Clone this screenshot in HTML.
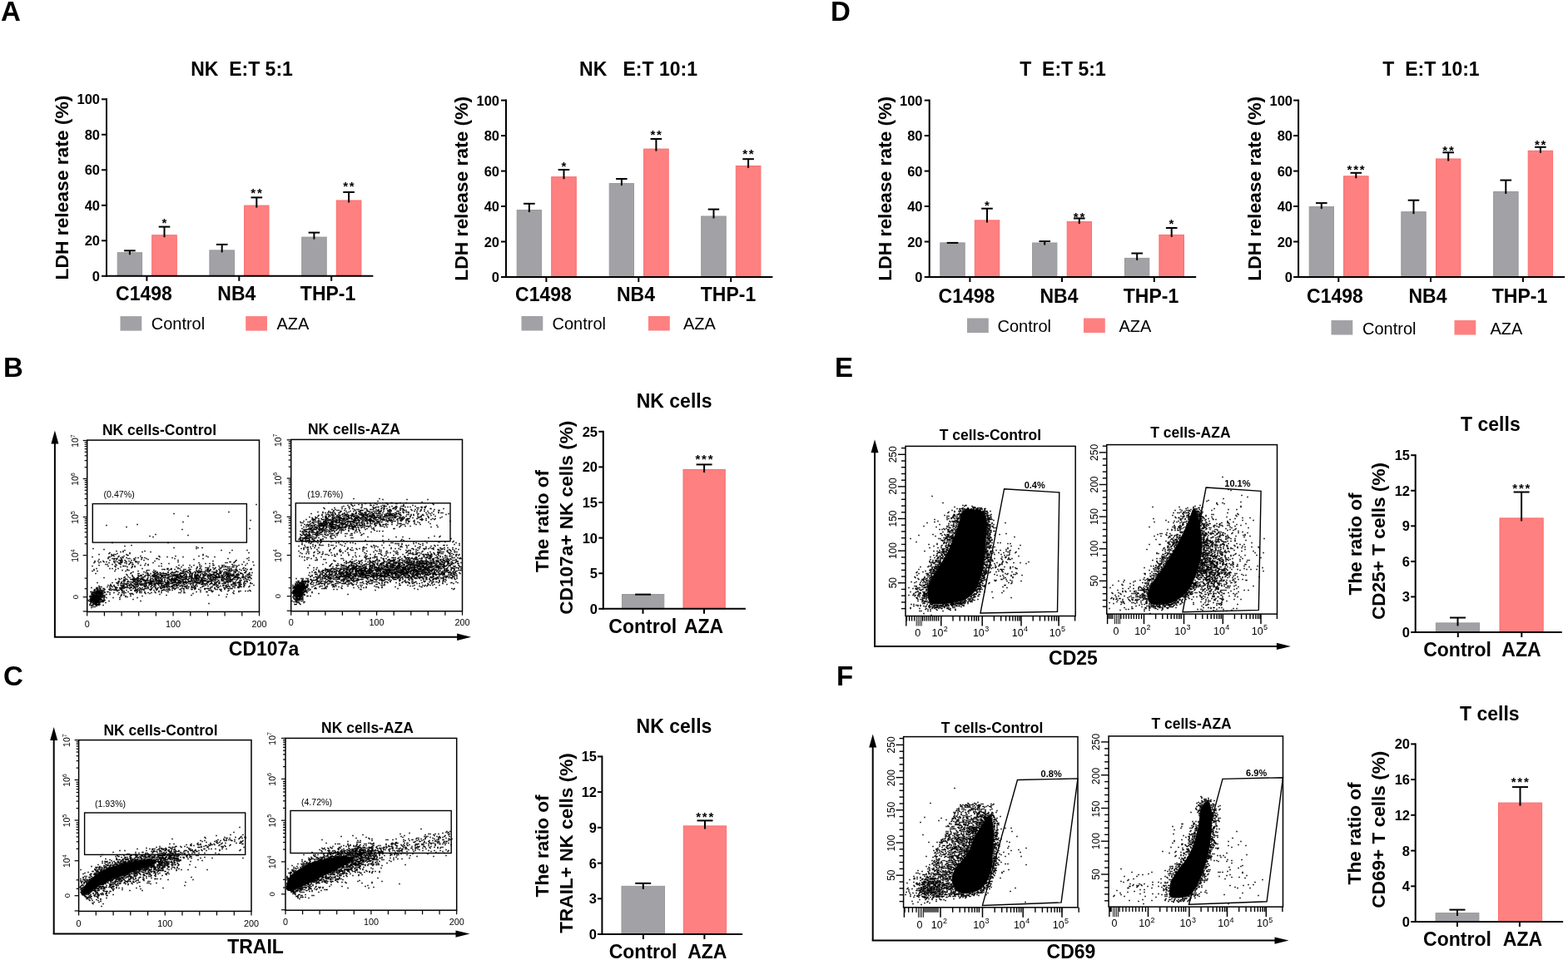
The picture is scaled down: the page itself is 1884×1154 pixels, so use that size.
<!DOCTYPE html>
<html><head><meta charset="utf-8"><style>
html,body{margin:0;padding:0;background:#fff;}
svg{display:block;}
text{font-family:"Liberation Sans", Arial, Helvetica, sans-serif;fill:#000;}
</style></head><body>
<svg width="1884" height="1154" viewBox="0 0 1884 1154">
<rect width="1884" height="1154" fill="#fff"/>
<text x="1.0" y="25.0" font-size="33" font-weight="bold" text-anchor="start">A</text>
<text x="998.0" y="25.0" font-size="33" font-weight="bold" text-anchor="start">D</text>
<text x="4.0" y="453.0" font-size="33" font-weight="bold" text-anchor="start">B</text>
<text x="1003.0" y="453.0" font-size="33" font-weight="bold" text-anchor="start">E</text>
<text x="4.0" y="824.0" font-size="33" font-weight="bold" text-anchor="start">C</text>
<text x="1005.0" y="824.0" font-size="33" font-weight="bold" text-anchor="start">F</text>
<line x1="122.0" y1="331.8" x2="128.0" y2="331.8" stroke="#000" stroke-width="2"/>
<text x="120.0" y="337.8" font-size="16.5" font-weight="bold" text-anchor="end">0</text>
<line x1="122.0" y1="289.3" x2="128.0" y2="289.3" stroke="#000" stroke-width="2"/>
<text x="120.0" y="295.3" font-size="16.5" font-weight="bold" text-anchor="end">20</text>
<line x1="122.0" y1="246.8" x2="128.0" y2="246.8" stroke="#000" stroke-width="2"/>
<text x="120.0" y="252.8" font-size="16.5" font-weight="bold" text-anchor="end">40</text>
<line x1="122.0" y1="204.3" x2="128.0" y2="204.3" stroke="#000" stroke-width="2"/>
<text x="120.0" y="210.3" font-size="16.5" font-weight="bold" text-anchor="end">60</text>
<line x1="122.0" y1="161.8" x2="128.0" y2="161.8" stroke="#000" stroke-width="2"/>
<text x="120.0" y="167.8" font-size="16.5" font-weight="bold" text-anchor="end">80</text>
<line x1="122.0" y1="119.3" x2="128.0" y2="119.3" stroke="#000" stroke-width="2"/>
<text x="120.0" y="125.3" font-size="16.5" font-weight="bold" text-anchor="end">100</text>
<rect x="141.2" y="303.7" width="29.4" height="28.1" fill="#a2a1a5" stroke="#98979b" stroke-width="1"/>
<line x1="155.9" y1="301.3" x2="155.9" y2="306.2" stroke="#000" stroke-width="2"/>
<line x1="149.1" y1="301.3" x2="162.7" y2="301.3" stroke="#000" stroke-width="2"/>
<rect x="182.7" y="282.7" width="29.6" height="49.1" fill="#fe8080" stroke="#fb6d6d" stroke-width="1"/>
<line x1="197.5" y1="272.6" x2="197.5" y2="285.2" stroke="#000" stroke-width="2"/>
<line x1="190.7" y1="272.6" x2="204.3" y2="272.6" stroke="#000" stroke-width="2"/>
<text x="198.2" y="273.3" font-size="15" font-weight="bold" text-anchor="middle" letter-spacing="1.8">*</text>
<rect x="251.9" y="300.9" width="29.6" height="30.9" fill="#a2a1a5" stroke="#98979b" stroke-width="1"/>
<line x1="266.7" y1="293.9" x2="266.7" y2="303.4" stroke="#000" stroke-width="2"/>
<line x1="259.9" y1="293.9" x2="273.5" y2="293.9" stroke="#000" stroke-width="2"/>
<rect x="293.6" y="247.1" width="29.4" height="84.7" fill="#fe8080" stroke="#fb6d6d" stroke-width="1"/>
<line x1="308.3" y1="237.4" x2="308.3" y2="249.6" stroke="#000" stroke-width="2"/>
<line x1="301.5" y1="237.4" x2="315.1" y2="237.4" stroke="#000" stroke-width="2"/>
<text x="309.0" y="236.8" font-size="15" font-weight="bold" text-anchor="middle" letter-spacing="1.8">**</text>
<rect x="362.7" y="285.1" width="29.5" height="46.7" fill="#a2a1a5" stroke="#98979b" stroke-width="1"/>
<line x1="377.4" y1="279.6" x2="377.4" y2="287.6" stroke="#000" stroke-width="2"/>
<line x1="370.6" y1="279.6" x2="384.2" y2="279.6" stroke="#000" stroke-width="2"/>
<rect x="404.3" y="241.0" width="29.6" height="90.8" fill="#fe8080" stroke="#fb6d6d" stroke-width="1"/>
<line x1="419.1" y1="231.0" x2="419.1" y2="243.5" stroke="#000" stroke-width="2"/>
<line x1="412.3" y1="231.0" x2="425.9" y2="231.0" stroke="#000" stroke-width="2"/>
<text x="419.8" y="229.3" font-size="15" font-weight="bold" text-anchor="middle" letter-spacing="1.8">**</text>
<line x1="128.0" y1="118.3" x2="128.0" y2="332.8" stroke="#000" stroke-width="2"/>
<line x1="127.0" y1="331.8" x2="448.4" y2="331.8" stroke="#000" stroke-width="2"/>
<line x1="176.4" y1="331.8" x2="176.4" y2="337.8" stroke="#000" stroke-width="2"/>
<line x1="287.3" y1="331.8" x2="287.3" y2="337.8" stroke="#000" stroke-width="2"/>
<line x1="398.2" y1="331.8" x2="398.2" y2="337.8" stroke="#000" stroke-width="2"/>
<text x="290.5" y="91.2" font-size="23" font-weight="bold" text-anchor="middle" xml:space="preserve" style="white-space:pre">NK  E:T 5:1</text>
<text transform="translate(82.0,225.6) rotate(-90)" x="0" y="0" font-size="22.8" font-weight="bold" text-anchor="middle">LDH release rate (%)</text>
<text x="173.0" y="361.4" font-size="23" font-weight="bold" text-anchor="middle">C1498</text>
<text x="284.3" y="361.4" font-size="23" font-weight="bold" text-anchor="middle">NB4</text>
<text x="394.1" y="361.4" font-size="23" font-weight="bold" text-anchor="middle">THP-1</text>
<rect x="144.5" y="380.1" width="25.8" height="17.5" fill="#a2a1a5"/>
<text x="181.7" y="395.5" font-size="20" text-anchor="start">Control</text>
<rect x="295.2" y="380.1" width="25.8" height="17.5" fill="#fe8080"/>
<text x="332.5" y="395.5" font-size="20" text-anchor="start">AZA</text>
<line x1="602.0" y1="333.0" x2="608.0" y2="333.0" stroke="#000" stroke-width="2"/>
<text x="600.0" y="339.0" font-size="16.5" font-weight="bold" text-anchor="end">0</text>
<line x1="602.0" y1="290.5" x2="608.0" y2="290.5" stroke="#000" stroke-width="2"/>
<text x="600.0" y="296.5" font-size="16.5" font-weight="bold" text-anchor="end">20</text>
<line x1="602.0" y1="248.0" x2="608.0" y2="248.0" stroke="#000" stroke-width="2"/>
<text x="600.0" y="254.0" font-size="16.5" font-weight="bold" text-anchor="end">40</text>
<line x1="602.0" y1="205.6" x2="608.0" y2="205.6" stroke="#000" stroke-width="2"/>
<text x="600.0" y="211.6" font-size="16.5" font-weight="bold" text-anchor="end">60</text>
<line x1="602.0" y1="163.1" x2="608.0" y2="163.1" stroke="#000" stroke-width="2"/>
<text x="600.0" y="169.1" font-size="16.5" font-weight="bold" text-anchor="end">80</text>
<line x1="602.0" y1="120.6" x2="608.0" y2="120.6" stroke="#000" stroke-width="2"/>
<text x="600.0" y="126.6" font-size="16.5" font-weight="bold" text-anchor="end">100</text>
<rect x="621.2" y="252.6" width="29.4" height="80.4" fill="#a2a1a5" stroke="#98979b" stroke-width="1"/>
<line x1="635.9" y1="244.8" x2="635.9" y2="255.1" stroke="#000" stroke-width="2"/>
<line x1="629.1" y1="244.8" x2="642.7" y2="244.8" stroke="#000" stroke-width="2"/>
<rect x="662.7" y="212.7" width="29.6" height="120.3" fill="#fe8080" stroke="#fb6d6d" stroke-width="1"/>
<line x1="677.5" y1="204.0" x2="677.5" y2="215.2" stroke="#000" stroke-width="2"/>
<line x1="670.7" y1="204.0" x2="684.3" y2="204.0" stroke="#000" stroke-width="2"/>
<text x="678.2" y="204.7" font-size="15" font-weight="bold" text-anchor="middle" letter-spacing="1.8">*</text>
<rect x="732.2" y="220.6" width="29.3" height="112.4" fill="#a2a1a5" stroke="#98979b" stroke-width="1"/>
<line x1="746.9" y1="215.0" x2="746.9" y2="223.1" stroke="#000" stroke-width="2"/>
<line x1="740.1" y1="215.0" x2="753.6" y2="215.0" stroke="#000" stroke-width="2"/>
<rect x="773.6" y="179.1" width="29.6" height="153.9" fill="#fe8080" stroke="#fb6d6d" stroke-width="1"/>
<line x1="788.4" y1="167.0" x2="788.4" y2="181.6" stroke="#000" stroke-width="2"/>
<line x1="781.6" y1="167.0" x2="795.2" y2="167.0" stroke="#000" stroke-width="2"/>
<text x="789.1" y="166.7" font-size="15" font-weight="bold" text-anchor="middle" letter-spacing="1.8">**</text>
<rect x="842.7" y="260.0" width="29.5" height="73.0" fill="#a2a1a5" stroke="#98979b" stroke-width="1"/>
<line x1="857.5" y1="251.6" x2="857.5" y2="262.5" stroke="#000" stroke-width="2"/>
<line x1="850.7" y1="251.6" x2="864.2" y2="251.6" stroke="#000" stroke-width="2"/>
<rect x="884.3" y="199.5" width="29.6" height="133.5" fill="#fe8080" stroke="#fb6d6d" stroke-width="1"/>
<line x1="899.1" y1="191.2" x2="899.1" y2="202.0" stroke="#000" stroke-width="2"/>
<line x1="892.3" y1="191.2" x2="905.9" y2="191.2" stroke="#000" stroke-width="2"/>
<text x="899.8" y="189.8" font-size="15" font-weight="bold" text-anchor="middle" letter-spacing="1.8">**</text>
<line x1="608.0" y1="119.6" x2="608.0" y2="334.0" stroke="#000" stroke-width="2"/>
<line x1="607.0" y1="333.0" x2="928.4" y2="333.0" stroke="#000" stroke-width="2"/>
<line x1="656.4" y1="333.0" x2="656.4" y2="339.0" stroke="#000" stroke-width="2"/>
<line x1="767.3" y1="333.0" x2="767.3" y2="339.0" stroke="#000" stroke-width="2"/>
<line x1="878.2" y1="333.0" x2="878.2" y2="339.0" stroke="#000" stroke-width="2"/>
<text x="767.0" y="91.2" font-size="23" font-weight="bold" text-anchor="middle" xml:space="preserve" style="white-space:pre">NK   E:T 10:1</text>
<text transform="translate(562.0,226.8) rotate(-90)" x="0" y="0" font-size="22.8" font-weight="bold" text-anchor="middle">LDH release rate (%)</text>
<text x="653.0" y="362.0" font-size="23" font-weight="bold" text-anchor="middle">C1498</text>
<text x="764.0" y="362.0" font-size="23" font-weight="bold" text-anchor="middle">NB4</text>
<text x="875.0" y="362.0" font-size="23" font-weight="bold" text-anchor="middle">THP-1</text>
<rect x="626.5" y="380.0" width="25.8" height="17.5" fill="#a2a1a5"/>
<text x="663.5" y="395.5" font-size="20" text-anchor="start">Control</text>
<rect x="779.0" y="380.0" width="25.8" height="17.5" fill="#fe8080"/>
<text x="821.0" y="395.5" font-size="20" text-anchor="start">AZA</text>
<line x1="1110.7" y1="333.0" x2="1116.7" y2="333.0" stroke="#000" stroke-width="2"/>
<text x="1108.5" y="339.0" font-size="16.5" font-weight="bold" text-anchor="end">0</text>
<line x1="1110.7" y1="290.5" x2="1116.7" y2="290.5" stroke="#000" stroke-width="2"/>
<text x="1108.5" y="296.5" font-size="16.5" font-weight="bold" text-anchor="end">20</text>
<line x1="1110.7" y1="248.0" x2="1116.7" y2="248.0" stroke="#000" stroke-width="2"/>
<text x="1108.5" y="254.0" font-size="16.5" font-weight="bold" text-anchor="end">40</text>
<line x1="1110.7" y1="205.6" x2="1116.7" y2="205.6" stroke="#000" stroke-width="2"/>
<text x="1108.5" y="211.6" font-size="16.5" font-weight="bold" text-anchor="end">60</text>
<line x1="1110.7" y1="163.1" x2="1116.7" y2="163.1" stroke="#000" stroke-width="2"/>
<text x="1108.5" y="169.1" font-size="16.5" font-weight="bold" text-anchor="end">80</text>
<line x1="1110.7" y1="120.6" x2="1116.7" y2="120.6" stroke="#000" stroke-width="2"/>
<text x="1108.5" y="126.6" font-size="16.5" font-weight="bold" text-anchor="end">100</text>
<rect x="1129.8" y="291.9" width="29.4" height="41.1" fill="#a2a1a5" stroke="#98979b" stroke-width="1"/>
<line x1="1137.7" y1="291.9" x2="1151.3" y2="291.9" stroke="#000" stroke-width="2"/>
<rect x="1171.3" y="264.9" width="29.5" height="68.1" fill="#fe8080" stroke="#fb6d6d" stroke-width="1"/>
<line x1="1186.0" y1="250.7" x2="1186.0" y2="267.4" stroke="#000" stroke-width="2"/>
<line x1="1179.2" y1="250.7" x2="1192.8" y2="250.7" stroke="#000" stroke-width="2"/>
<text x="1186.8" y="251.7" font-size="15" font-weight="bold" text-anchor="middle" letter-spacing="1.8">*</text>
<rect x="1240.6" y="292.0" width="29.3" height="41.0" fill="#a2a1a5" stroke="#98979b" stroke-width="1"/>
<line x1="1255.2" y1="290.1" x2="1255.2" y2="294.5" stroke="#000" stroke-width="2"/>
<line x1="1248.5" y1="290.1" x2="1262.0" y2="290.1" stroke="#000" stroke-width="2"/>
<rect x="1282.2" y="266.6" width="29.3" height="66.4" fill="#fe8080" stroke="#fb6d6d" stroke-width="1"/>
<line x1="1296.8" y1="262.5" x2="1296.8" y2="269.1" stroke="#000" stroke-width="2"/>
<line x1="1290.0" y1="262.5" x2="1303.6" y2="262.5" stroke="#000" stroke-width="2"/>
<text x="1297.5" y="265.5" font-size="15" font-weight="bold" text-anchor="middle" letter-spacing="1.8">**</text>
<rect x="1351.5" y="310.4" width="29.3" height="22.6" fill="#a2a1a5" stroke="#98979b" stroke-width="1"/>
<line x1="1366.2" y1="304.5" x2="1366.2" y2="312.9" stroke="#000" stroke-width="2"/>
<line x1="1359.4" y1="304.5" x2="1373.0" y2="304.5" stroke="#000" stroke-width="2"/>
<rect x="1392.9" y="282.4" width="29.6" height="50.6" fill="#fe8080" stroke="#fb6d6d" stroke-width="1"/>
<line x1="1407.7" y1="274.0" x2="1407.7" y2="284.9" stroke="#000" stroke-width="2"/>
<line x1="1400.9" y1="274.0" x2="1414.5" y2="274.0" stroke="#000" stroke-width="2"/>
<text x="1408.4" y="273.9" font-size="15" font-weight="bold" text-anchor="middle" letter-spacing="1.8">*</text>
<line x1="1116.7" y1="119.6" x2="1116.7" y2="334.0" stroke="#000" stroke-width="2"/>
<line x1="1115.7" y1="333.0" x2="1437.2" y2="333.0" stroke="#000" stroke-width="2"/>
<line x1="1165.4" y1="333.0" x2="1165.4" y2="339.0" stroke="#000" stroke-width="2"/>
<line x1="1276.0" y1="333.0" x2="1276.0" y2="339.0" stroke="#000" stroke-width="2"/>
<line x1="1386.8" y1="333.0" x2="1386.8" y2="339.0" stroke="#000" stroke-width="2"/>
<text x="1277.0" y="91.2" font-size="23" font-weight="bold" text-anchor="middle" xml:space="preserve" style="white-space:pre">T  E:T 5:1</text>
<text transform="translate(1071.0,226.8) rotate(-90)" x="0" y="0" font-size="22.8" font-weight="bold" text-anchor="middle">LDH release rate (%)</text>
<text x="1161.5" y="363.5" font-size="23" font-weight="bold" text-anchor="middle">C1498</text>
<text x="1272.5" y="363.5" font-size="23" font-weight="bold" text-anchor="middle">NB4</text>
<text x="1383.0" y="363.5" font-size="23" font-weight="bold" text-anchor="middle">THP-1</text>
<rect x="1162.0" y="382.5" width="25.8" height="17.5" fill="#a2a1a5"/>
<text x="1198.5" y="398.5" font-size="20" text-anchor="start">Control</text>
<rect x="1302.0" y="382.5" width="25.8" height="17.5" fill="#fe8080"/>
<text x="1344.5" y="398.5" font-size="20" text-anchor="start">AZA</text>
<line x1="1554.1" y1="333.0" x2="1560.1" y2="333.0" stroke="#000" stroke-width="2"/>
<text x="1553.0" y="339.0" font-size="16.5" font-weight="bold" text-anchor="end">0</text>
<line x1="1554.1" y1="290.5" x2="1560.1" y2="290.5" stroke="#000" stroke-width="2"/>
<text x="1553.0" y="296.5" font-size="16.5" font-weight="bold" text-anchor="end">20</text>
<line x1="1554.1" y1="248.0" x2="1560.1" y2="248.0" stroke="#000" stroke-width="2"/>
<text x="1553.0" y="254.0" font-size="16.5" font-weight="bold" text-anchor="end">40</text>
<line x1="1554.1" y1="205.6" x2="1560.1" y2="205.6" stroke="#000" stroke-width="2"/>
<text x="1553.0" y="211.6" font-size="16.5" font-weight="bold" text-anchor="end">60</text>
<line x1="1554.1" y1="163.1" x2="1560.1" y2="163.1" stroke="#000" stroke-width="2"/>
<text x="1553.0" y="169.1" font-size="16.5" font-weight="bold" text-anchor="end">80</text>
<line x1="1554.1" y1="120.6" x2="1560.1" y2="120.6" stroke="#000" stroke-width="2"/>
<text x="1553.0" y="126.6" font-size="16.5" font-weight="bold" text-anchor="end">100</text>
<rect x="1573.2" y="248.6" width="29.3" height="84.4" fill="#a2a1a5" stroke="#98979b" stroke-width="1"/>
<line x1="1587.8" y1="244.1" x2="1587.8" y2="251.1" stroke="#000" stroke-width="2"/>
<line x1="1581.0" y1="244.1" x2="1594.6" y2="244.1" stroke="#000" stroke-width="2"/>
<rect x="1614.6" y="211.8" width="29.5" height="121.2" fill="#fe8080" stroke="#fb6d6d" stroke-width="1"/>
<line x1="1629.3" y1="207.8" x2="1629.3" y2="214.3" stroke="#000" stroke-width="2"/>
<line x1="1622.5" y1="207.8" x2="1636.1" y2="207.8" stroke="#000" stroke-width="2"/>
<text x="1630.0" y="209.1" font-size="15" font-weight="bold" text-anchor="middle" letter-spacing="1.8">***</text>
<rect x="1683.8" y="254.7" width="29.4" height="78.3" fill="#a2a1a5" stroke="#98979b" stroke-width="1"/>
<line x1="1698.5" y1="240.7" x2="1698.5" y2="257.2" stroke="#000" stroke-width="2"/>
<line x1="1691.7" y1="240.7" x2="1705.3" y2="240.7" stroke="#000" stroke-width="2"/>
<rect x="1725.5" y="191.0" width="29.4" height="142.0" fill="#fe8080" stroke="#fb6d6d" stroke-width="1"/>
<line x1="1740.2" y1="183.3" x2="1740.2" y2="193.5" stroke="#000" stroke-width="2"/>
<line x1="1733.4" y1="183.3" x2="1747.0" y2="183.3" stroke="#000" stroke-width="2"/>
<text x="1740.9" y="186.0" font-size="15" font-weight="bold" text-anchor="middle" letter-spacing="1.8">**</text>
<rect x="1794.6" y="230.5" width="29.5" height="102.5" fill="#a2a1a5" stroke="#98979b" stroke-width="1"/>
<line x1="1809.3" y1="216.6" x2="1809.3" y2="233.0" stroke="#000" stroke-width="2"/>
<line x1="1802.5" y1="216.6" x2="1816.1" y2="216.6" stroke="#000" stroke-width="2"/>
<rect x="1836.2" y="181.3" width="29.4" height="151.7" fill="#fe8080" stroke="#fb6d6d" stroke-width="1"/>
<line x1="1850.9" y1="176.8" x2="1850.9" y2="183.8" stroke="#000" stroke-width="2"/>
<line x1="1844.1" y1="176.8" x2="1857.7" y2="176.8" stroke="#000" stroke-width="2"/>
<text x="1851.6" y="179.3" font-size="15" font-weight="bold" text-anchor="middle" letter-spacing="1.8">**</text>
<line x1="1560.1" y1="119.6" x2="1560.1" y2="334.0" stroke="#000" stroke-width="2"/>
<line x1="1559.1" y1="333.0" x2="1880.2" y2="333.0" stroke="#000" stroke-width="2"/>
<line x1="1608.3" y1="333.0" x2="1608.3" y2="339.0" stroke="#000" stroke-width="2"/>
<line x1="1719.0" y1="333.0" x2="1719.0" y2="339.0" stroke="#000" stroke-width="2"/>
<line x1="1829.9" y1="333.0" x2="1829.9" y2="339.0" stroke="#000" stroke-width="2"/>
<text x="1719.5" y="91.2" font-size="23" font-weight="bold" text-anchor="middle" xml:space="preserve" style="white-space:pre">T  E:T 10:1</text>
<text transform="translate(1515.0,226.8) rotate(-90)" x="0" y="0" font-size="22.8" font-weight="bold" text-anchor="middle">LDH release rate (%)</text>
<text x="1604.0" y="363.5" font-size="23" font-weight="bold" text-anchor="middle">C1498</text>
<text x="1715.5" y="363.5" font-size="23" font-weight="bold" text-anchor="middle">NB4</text>
<text x="1826.0" y="363.5" font-size="23" font-weight="bold" text-anchor="middle">THP-1</text>
<rect x="1599.5" y="385.0" width="25.8" height="17.5" fill="#a2a1a5"/>
<text x="1637.0" y="401.5" font-size="20" text-anchor="start">Control</text>
<rect x="1747.5" y="385.0" width="25.8" height="17.5" fill="#fe8080"/>
<text x="1790.5" y="401.5" font-size="20" text-anchor="start">AZA</text>
<line x1="65.9" y1="529.5" x2="65.9" y2="765.8" stroke="#000" stroke-width="2"/>
<polygon points="65.9,517.5 61.4,533.5 70.4,533.5" fill="#000"/>
<line x1="64.9" y1="765.8" x2="554.1" y2="765.8" stroke="#000" stroke-width="2"/>
<polygon points="566.1,765.8 549.1,761.6 549.1,770.0" fill="#000"/>
<text x="317.0" y="787.8" font-size="23" font-weight="bold" text-anchor="middle">CD107a</text>
<rect x="104.7" y="529.1" width="206.8" height="206.3" fill="none" stroke="#000" stroke-width="1.5"/>
<line x1="99.7" y1="529.5" x2="104.7" y2="529.5" stroke="#000" stroke-width="1.2"/>
<line x1="101.7" y1="561.7" x2="104.7" y2="561.7" stroke="#000" stroke-width="1.2"/>
<line x1="101.7" y1="553.6" x2="104.7" y2="553.6" stroke="#000" stroke-width="1.2"/>
<line x1="101.7" y1="547.8" x2="104.7" y2="547.8" stroke="#000" stroke-width="1.2"/>
<line x1="101.7" y1="543.3" x2="104.7" y2="543.3" stroke="#000" stroke-width="1.2"/>
<line x1="101.7" y1="539.7" x2="104.7" y2="539.7" stroke="#000" stroke-width="1.2"/>
<line x1="101.7" y1="536.6" x2="104.7" y2="536.6" stroke="#000" stroke-width="1.2"/>
<line x1="101.7" y1="534.0" x2="104.7" y2="534.0" stroke="#000" stroke-width="1.2"/>
<line x1="101.7" y1="531.6" x2="104.7" y2="531.6" stroke="#000" stroke-width="1.2"/>
<line x1="99.7" y1="575.5" x2="104.7" y2="575.5" stroke="#000" stroke-width="1.2"/>
<line x1="101.7" y1="607.7" x2="104.7" y2="607.7" stroke="#000" stroke-width="1.2"/>
<line x1="101.7" y1="599.6" x2="104.7" y2="599.6" stroke="#000" stroke-width="1.2"/>
<line x1="101.7" y1="593.8" x2="104.7" y2="593.8" stroke="#000" stroke-width="1.2"/>
<line x1="101.7" y1="589.3" x2="104.7" y2="589.3" stroke="#000" stroke-width="1.2"/>
<line x1="101.7" y1="585.7" x2="104.7" y2="585.7" stroke="#000" stroke-width="1.2"/>
<line x1="101.7" y1="582.6" x2="104.7" y2="582.6" stroke="#000" stroke-width="1.2"/>
<line x1="101.7" y1="580.0" x2="104.7" y2="580.0" stroke="#000" stroke-width="1.2"/>
<line x1="101.7" y1="577.6" x2="104.7" y2="577.6" stroke="#000" stroke-width="1.2"/>
<line x1="99.7" y1="621.5" x2="104.7" y2="621.5" stroke="#000" stroke-width="1.2"/>
<line x1="101.7" y1="653.7" x2="104.7" y2="653.7" stroke="#000" stroke-width="1.2"/>
<line x1="101.7" y1="645.6" x2="104.7" y2="645.6" stroke="#000" stroke-width="1.2"/>
<line x1="101.7" y1="639.8" x2="104.7" y2="639.8" stroke="#000" stroke-width="1.2"/>
<line x1="101.7" y1="635.3" x2="104.7" y2="635.3" stroke="#000" stroke-width="1.2"/>
<line x1="101.7" y1="631.7" x2="104.7" y2="631.7" stroke="#000" stroke-width="1.2"/>
<line x1="101.7" y1="628.6" x2="104.7" y2="628.6" stroke="#000" stroke-width="1.2"/>
<line x1="101.7" y1="626.0" x2="104.7" y2="626.0" stroke="#000" stroke-width="1.2"/>
<line x1="101.7" y1="623.6" x2="104.7" y2="623.6" stroke="#000" stroke-width="1.2"/>
<line x1="99.7" y1="667.5" x2="104.7" y2="667.5" stroke="#000" stroke-width="1.2"/>
<line x1="101.7" y1="695.1" x2="104.7" y2="695.1" stroke="#000" stroke-width="1.2"/>
<line x1="101.7" y1="707.7" x2="104.7" y2="707.7" stroke="#000" stroke-width="1.2"/>
<line x1="99.7" y1="717.7" x2="104.7" y2="717.7" stroke="#000" stroke-width="1.2"/>
<line x1="99.7" y1="734.9" x2="104.7" y2="734.9" stroke="#000" stroke-width="1.2"/>
<line x1="104.7" y1="735.4" x2="104.7" y2="740.4" stroke="#000" stroke-width="1.2"/>
<line x1="125.4" y1="735.4" x2="125.4" y2="740.4" stroke="#000" stroke-width="1.2"/>
<line x1="146.1" y1="735.4" x2="146.1" y2="740.4" stroke="#000" stroke-width="1.2"/>
<line x1="166.7" y1="735.4" x2="166.7" y2="740.4" stroke="#000" stroke-width="1.2"/>
<line x1="187.4" y1="735.4" x2="187.4" y2="740.4" stroke="#000" stroke-width="1.2"/>
<line x1="208.1" y1="735.4" x2="208.1" y2="740.4" stroke="#000" stroke-width="1.2"/>
<line x1="228.8" y1="735.4" x2="228.8" y2="740.4" stroke="#000" stroke-width="1.2"/>
<line x1="249.5" y1="735.4" x2="249.5" y2="740.4" stroke="#000" stroke-width="1.2"/>
<line x1="270.1" y1="735.4" x2="270.1" y2="740.4" stroke="#000" stroke-width="1.2"/>
<line x1="290.8" y1="735.4" x2="290.8" y2="740.4" stroke="#000" stroke-width="1.2"/>
<line x1="311.5" y1="735.4" x2="311.5" y2="740.4" stroke="#000" stroke-width="1.2"/>
<text transform="translate(90.5,530.0) rotate(-90)" font-size="10.5" text-anchor="middle" y="3.8">10<tspan font-size="7.1" dy="-4.7">7</tspan></text>
<text transform="translate(90.5,576.0) rotate(-90)" font-size="10.5" text-anchor="middle" y="3.8">10<tspan font-size="7.1" dy="-4.7">6</tspan></text>
<text transform="translate(90.5,622.0) rotate(-90)" font-size="10.5" text-anchor="middle" y="3.8">10<tspan font-size="7.1" dy="-4.7">5</tspan></text>
<text transform="translate(90.5,668.0) rotate(-90)" font-size="10.5" text-anchor="middle" y="3.8">10<tspan font-size="7.1" dy="-4.7">4</tspan></text>
<text transform="translate(90.5,717.7) rotate(-90)" font-size="9.5" text-anchor="middle" y="3.4">0</text>
<text x="104.7" y="753.6" font-size="10.8" text-anchor="middle">0</text>
<text x="208.1" y="753.6" font-size="10.8" text-anchor="middle">100</text>
<text x="311.5" y="753.6" font-size="10.8" text-anchor="middle">200</text>
<text x="191.5" y="523.0" font-size="17.5" font-weight="bold" text-anchor="middle">NK cells-Control</text>
<rect x="111.3" y="605.6" width="185.1" height="46.5" fill="none" stroke="#000" stroke-width="1.4"/>
<text x="124.6" y="598.3" font-size="10.6" text-anchor="start">(0.47%)</text>
<rect x="349.7" y="528.4" width="205.8" height="206.3" fill="none" stroke="#000" stroke-width="1.5"/>
<line x1="344.7" y1="528.8" x2="349.7" y2="528.8" stroke="#000" stroke-width="1.2"/>
<line x1="346.7" y1="561.1" x2="349.7" y2="561.1" stroke="#000" stroke-width="1.2"/>
<line x1="346.7" y1="553.0" x2="349.7" y2="553.0" stroke="#000" stroke-width="1.2"/>
<line x1="346.7" y1="547.2" x2="349.7" y2="547.2" stroke="#000" stroke-width="1.2"/>
<line x1="346.7" y1="542.7" x2="349.7" y2="542.7" stroke="#000" stroke-width="1.2"/>
<line x1="346.7" y1="539.0" x2="349.7" y2="539.0" stroke="#000" stroke-width="1.2"/>
<line x1="346.7" y1="536.0" x2="349.7" y2="536.0" stroke="#000" stroke-width="1.2"/>
<line x1="346.7" y1="533.3" x2="349.7" y2="533.3" stroke="#000" stroke-width="1.2"/>
<line x1="346.7" y1="530.9" x2="349.7" y2="530.9" stroke="#000" stroke-width="1.2"/>
<line x1="344.7" y1="575.0" x2="349.7" y2="575.0" stroke="#000" stroke-width="1.2"/>
<line x1="346.7" y1="607.3" x2="349.7" y2="607.3" stroke="#000" stroke-width="1.2"/>
<line x1="346.7" y1="599.2" x2="349.7" y2="599.2" stroke="#000" stroke-width="1.2"/>
<line x1="346.7" y1="593.4" x2="349.7" y2="593.4" stroke="#000" stroke-width="1.2"/>
<line x1="346.7" y1="588.9" x2="349.7" y2="588.9" stroke="#000" stroke-width="1.2"/>
<line x1="346.7" y1="585.2" x2="349.7" y2="585.2" stroke="#000" stroke-width="1.2"/>
<line x1="346.7" y1="582.2" x2="349.7" y2="582.2" stroke="#000" stroke-width="1.2"/>
<line x1="346.7" y1="579.5" x2="349.7" y2="579.5" stroke="#000" stroke-width="1.2"/>
<line x1="346.7" y1="577.1" x2="349.7" y2="577.1" stroke="#000" stroke-width="1.2"/>
<line x1="344.7" y1="621.2" x2="349.7" y2="621.2" stroke="#000" stroke-width="1.2"/>
<line x1="346.7" y1="653.5" x2="349.7" y2="653.5" stroke="#000" stroke-width="1.2"/>
<line x1="346.7" y1="645.4" x2="349.7" y2="645.4" stroke="#000" stroke-width="1.2"/>
<line x1="346.7" y1="639.6" x2="349.7" y2="639.6" stroke="#000" stroke-width="1.2"/>
<line x1="346.7" y1="635.1" x2="349.7" y2="635.1" stroke="#000" stroke-width="1.2"/>
<line x1="346.7" y1="631.4" x2="349.7" y2="631.4" stroke="#000" stroke-width="1.2"/>
<line x1="346.7" y1="628.4" x2="349.7" y2="628.4" stroke="#000" stroke-width="1.2"/>
<line x1="346.7" y1="625.7" x2="349.7" y2="625.7" stroke="#000" stroke-width="1.2"/>
<line x1="346.7" y1="623.3" x2="349.7" y2="623.3" stroke="#000" stroke-width="1.2"/>
<line x1="344.7" y1="667.4" x2="349.7" y2="667.4" stroke="#000" stroke-width="1.2"/>
<line x1="346.7" y1="694.5" x2="349.7" y2="694.5" stroke="#000" stroke-width="1.2"/>
<line x1="346.7" y1="706.8" x2="349.7" y2="706.8" stroke="#000" stroke-width="1.2"/>
<line x1="344.7" y1="716.7" x2="349.7" y2="716.7" stroke="#000" stroke-width="1.2"/>
<line x1="344.7" y1="734.2" x2="349.7" y2="734.2" stroke="#000" stroke-width="1.2"/>
<line x1="349.7" y1="734.7" x2="349.7" y2="739.7" stroke="#000" stroke-width="1.2"/>
<line x1="370.3" y1="734.7" x2="370.3" y2="739.7" stroke="#000" stroke-width="1.2"/>
<line x1="390.9" y1="734.7" x2="390.9" y2="739.7" stroke="#000" stroke-width="1.2"/>
<line x1="411.4" y1="734.7" x2="411.4" y2="739.7" stroke="#000" stroke-width="1.2"/>
<line x1="432.0" y1="734.7" x2="432.0" y2="739.7" stroke="#000" stroke-width="1.2"/>
<line x1="452.6" y1="734.7" x2="452.6" y2="739.7" stroke="#000" stroke-width="1.2"/>
<line x1="473.2" y1="734.7" x2="473.2" y2="739.7" stroke="#000" stroke-width="1.2"/>
<line x1="493.8" y1="734.7" x2="493.8" y2="739.7" stroke="#000" stroke-width="1.2"/>
<line x1="514.3" y1="734.7" x2="514.3" y2="739.7" stroke="#000" stroke-width="1.2"/>
<line x1="534.9" y1="734.7" x2="534.9" y2="739.7" stroke="#000" stroke-width="1.2"/>
<line x1="555.5" y1="734.7" x2="555.5" y2="739.7" stroke="#000" stroke-width="1.2"/>
<text transform="translate(334.0,529.3) rotate(-90)" font-size="10.5" text-anchor="middle" y="3.8">10<tspan font-size="7.1" dy="-4.7">7</tspan></text>
<text transform="translate(334.0,575.5) rotate(-90)" font-size="10.5" text-anchor="middle" y="3.8">10<tspan font-size="7.1" dy="-4.7">6</tspan></text>
<text transform="translate(334.0,621.7) rotate(-90)" font-size="10.5" text-anchor="middle" y="3.8">10<tspan font-size="7.1" dy="-4.7">5</tspan></text>
<text transform="translate(334.0,667.9) rotate(-90)" font-size="10.5" text-anchor="middle" y="3.8">10<tspan font-size="7.1" dy="-4.7">4</tspan></text>
<text transform="translate(334.0,716.7) rotate(-90)" font-size="9.5" text-anchor="middle" y="3.4">0</text>
<text x="349.7" y="752.4" font-size="10.8" text-anchor="middle">0</text>
<text x="452.6" y="752.4" font-size="10.8" text-anchor="middle">100</text>
<text x="555.5" y="752.4" font-size="10.8" text-anchor="middle">200</text>
<text x="425.4" y="522.3" font-size="17.5" font-weight="bold" text-anchor="middle">NK cells-AZA</text>
<rect x="355.3" y="604.8" width="185.7" height="45.9" fill="none" stroke="#000" stroke-width="1.4"/>
<text x="369.2" y="597.5" font-size="10.6" text-anchor="start">(19.76%)</text>
<line x1="64.7" y1="886.1" x2="64.7" y2="1122.6" stroke="#000" stroke-width="2"/>
<polygon points="64.7,874.1 60.2,890.1 69.2,890.1" fill="#000"/>
<line x1="63.7" y1="1122.6" x2="552.5" y2="1122.6" stroke="#000" stroke-width="2"/>
<polygon points="564.5,1122.6 547.5,1118.4 547.5,1126.8" fill="#000"/>
<text x="307.0" y="1145.5" font-size="23" font-weight="bold" text-anchor="middle">TRAIL</text>
<rect x="94.6" y="889.6" width="207.4" height="205.8" fill="none" stroke="#000" stroke-width="1.5"/>
<line x1="89.6" y1="889.6" x2="94.6" y2="889.6" stroke="#000" stroke-width="1.2"/>
<line x1="91.6" y1="923.1" x2="94.6" y2="923.1" stroke="#000" stroke-width="1.2"/>
<line x1="91.6" y1="914.6" x2="94.6" y2="914.6" stroke="#000" stroke-width="1.2"/>
<line x1="91.6" y1="908.7" x2="94.6" y2="908.7" stroke="#000" stroke-width="1.2"/>
<line x1="91.6" y1="904.0" x2="94.6" y2="904.0" stroke="#000" stroke-width="1.2"/>
<line x1="91.6" y1="900.2" x2="94.6" y2="900.2" stroke="#000" stroke-width="1.2"/>
<line x1="91.6" y1="897.0" x2="94.6" y2="897.0" stroke="#000" stroke-width="1.2"/>
<line x1="91.6" y1="894.2" x2="94.6" y2="894.2" stroke="#000" stroke-width="1.2"/>
<line x1="91.6" y1="891.8" x2="94.6" y2="891.8" stroke="#000" stroke-width="1.2"/>
<line x1="89.6" y1="937.5" x2="94.6" y2="937.5" stroke="#000" stroke-width="1.2"/>
<line x1="91.6" y1="971.6" x2="94.6" y2="971.6" stroke="#000" stroke-width="1.2"/>
<line x1="91.6" y1="963.1" x2="94.6" y2="963.1" stroke="#000" stroke-width="1.2"/>
<line x1="91.6" y1="957.2" x2="94.6" y2="957.2" stroke="#000" stroke-width="1.2"/>
<line x1="91.6" y1="952.5" x2="94.6" y2="952.5" stroke="#000" stroke-width="1.2"/>
<line x1="91.6" y1="948.7" x2="94.6" y2="948.7" stroke="#000" stroke-width="1.2"/>
<line x1="91.6" y1="945.5" x2="94.6" y2="945.5" stroke="#000" stroke-width="1.2"/>
<line x1="91.6" y1="942.7" x2="94.6" y2="942.7" stroke="#000" stroke-width="1.2"/>
<line x1="91.6" y1="940.3" x2="94.6" y2="940.3" stroke="#000" stroke-width="1.2"/>
<line x1="89.6" y1="986.0" x2="94.6" y2="986.0" stroke="#000" stroke-width="1.2"/>
<line x1="91.6" y1="1020.3" x2="94.6" y2="1020.3" stroke="#000" stroke-width="1.2"/>
<line x1="91.6" y1="1011.8" x2="94.6" y2="1011.8" stroke="#000" stroke-width="1.2"/>
<line x1="91.6" y1="1005.9" x2="94.6" y2="1005.9" stroke="#000" stroke-width="1.2"/>
<line x1="91.6" y1="1001.2" x2="94.6" y2="1001.2" stroke="#000" stroke-width="1.2"/>
<line x1="91.6" y1="997.4" x2="94.6" y2="997.4" stroke="#000" stroke-width="1.2"/>
<line x1="91.6" y1="994.2" x2="94.6" y2="994.2" stroke="#000" stroke-width="1.2"/>
<line x1="91.6" y1="991.4" x2="94.6" y2="991.4" stroke="#000" stroke-width="1.2"/>
<line x1="91.6" y1="989.0" x2="94.6" y2="989.0" stroke="#000" stroke-width="1.2"/>
<line x1="89.6" y1="1034.7" x2="94.6" y2="1034.7" stroke="#000" stroke-width="1.2"/>
<line x1="91.6" y1="1057.8" x2="94.6" y2="1057.8" stroke="#000" stroke-width="1.2"/>
<line x1="91.6" y1="1068.3" x2="94.6" y2="1068.3" stroke="#000" stroke-width="1.2"/>
<line x1="89.6" y1="1076.7" x2="94.6" y2="1076.7" stroke="#000" stroke-width="1.2"/>
<line x1="89.6" y1="1094.9" x2="94.6" y2="1094.9" stroke="#000" stroke-width="1.2"/>
<line x1="94.6" y1="1095.4" x2="94.6" y2="1100.4" stroke="#000" stroke-width="1.2"/>
<line x1="115.3" y1="1095.4" x2="115.3" y2="1100.4" stroke="#000" stroke-width="1.2"/>
<line x1="136.1" y1="1095.4" x2="136.1" y2="1100.4" stroke="#000" stroke-width="1.2"/>
<line x1="156.8" y1="1095.4" x2="156.8" y2="1100.4" stroke="#000" stroke-width="1.2"/>
<line x1="177.6" y1="1095.4" x2="177.6" y2="1100.4" stroke="#000" stroke-width="1.2"/>
<line x1="198.3" y1="1095.4" x2="198.3" y2="1100.4" stroke="#000" stroke-width="1.2"/>
<line x1="219.0" y1="1095.4" x2="219.0" y2="1100.4" stroke="#000" stroke-width="1.2"/>
<line x1="239.8" y1="1095.4" x2="239.8" y2="1100.4" stroke="#000" stroke-width="1.2"/>
<line x1="260.5" y1="1095.4" x2="260.5" y2="1100.4" stroke="#000" stroke-width="1.2"/>
<line x1="281.3" y1="1095.4" x2="281.3" y2="1100.4" stroke="#000" stroke-width="1.2"/>
<line x1="302.0" y1="1095.4" x2="302.0" y2="1100.4" stroke="#000" stroke-width="1.2"/>
<text transform="translate(80.5,890.1) rotate(-90)" font-size="10.5" text-anchor="middle" y="3.8">10<tspan font-size="7.1" dy="-4.7">7</tspan></text>
<text transform="translate(80.5,938.0) rotate(-90)" font-size="10.5" text-anchor="middle" y="3.8">10<tspan font-size="7.1" dy="-4.7">6</tspan></text>
<text transform="translate(80.5,986.5) rotate(-90)" font-size="10.5" text-anchor="middle" y="3.8">10<tspan font-size="7.1" dy="-4.7">5</tspan></text>
<text transform="translate(80.5,1035.2) rotate(-90)" font-size="10.5" text-anchor="middle" y="3.8">10<tspan font-size="7.1" dy="-4.7">4</tspan></text>
<text transform="translate(80.5,1076.7) rotate(-90)" font-size="9.5" text-anchor="middle" y="3.4">0</text>
<text x="94.6" y="1113.6" font-size="10.8" text-anchor="middle">0</text>
<text x="198.3" y="1113.6" font-size="10.8" text-anchor="middle">100</text>
<text x="302.0" y="1113.6" font-size="10.8" text-anchor="middle">200</text>
<text x="193.0" y="883.8" font-size="17.5" font-weight="bold" text-anchor="middle">NK cells-Control</text>
<rect x="101.6" y="977.0" width="193.1" height="50.4" fill="none" stroke="#000" stroke-width="1.4"/>
<text x="114.0" y="969.7" font-size="10.6" text-anchor="start">(1.93%)</text>
<rect x="343.0" y="887.4" width="205.7" height="206.8" fill="none" stroke="#000" stroke-width="1.5"/>
<line x1="338.0" y1="887.4" x2="343.0" y2="887.4" stroke="#000" stroke-width="1.2"/>
<line x1="340.0" y1="921.6" x2="343.0" y2="921.6" stroke="#000" stroke-width="1.2"/>
<line x1="340.0" y1="913.0" x2="343.0" y2="913.0" stroke="#000" stroke-width="1.2"/>
<line x1="340.0" y1="906.9" x2="343.0" y2="906.9" stroke="#000" stroke-width="1.2"/>
<line x1="340.0" y1="902.2" x2="343.0" y2="902.2" stroke="#000" stroke-width="1.2"/>
<line x1="340.0" y1="898.3" x2="343.0" y2="898.3" stroke="#000" stroke-width="1.2"/>
<line x1="340.0" y1="895.0" x2="343.0" y2="895.0" stroke="#000" stroke-width="1.2"/>
<line x1="340.0" y1="892.1" x2="343.0" y2="892.1" stroke="#000" stroke-width="1.2"/>
<line x1="340.0" y1="889.6" x2="343.0" y2="889.6" stroke="#000" stroke-width="1.2"/>
<line x1="338.0" y1="936.4" x2="343.0" y2="936.4" stroke="#000" stroke-width="1.2"/>
<line x1="340.0" y1="971.4" x2="343.0" y2="971.4" stroke="#000" stroke-width="1.2"/>
<line x1="340.0" y1="962.8" x2="343.0" y2="962.8" stroke="#000" stroke-width="1.2"/>
<line x1="340.0" y1="956.7" x2="343.0" y2="956.7" stroke="#000" stroke-width="1.2"/>
<line x1="340.0" y1="952.0" x2="343.0" y2="952.0" stroke="#000" stroke-width="1.2"/>
<line x1="340.0" y1="948.1" x2="343.0" y2="948.1" stroke="#000" stroke-width="1.2"/>
<line x1="340.0" y1="944.8" x2="343.0" y2="944.8" stroke="#000" stroke-width="1.2"/>
<line x1="340.0" y1="941.9" x2="343.0" y2="941.9" stroke="#000" stroke-width="1.2"/>
<line x1="340.0" y1="939.4" x2="343.0" y2="939.4" stroke="#000" stroke-width="1.2"/>
<line x1="338.0" y1="986.2" x2="343.0" y2="986.2" stroke="#000" stroke-width="1.2"/>
<line x1="340.0" y1="1021.1" x2="343.0" y2="1021.1" stroke="#000" stroke-width="1.2"/>
<line x1="340.0" y1="1012.5" x2="343.0" y2="1012.5" stroke="#000" stroke-width="1.2"/>
<line x1="340.0" y1="1006.4" x2="343.0" y2="1006.4" stroke="#000" stroke-width="1.2"/>
<line x1="340.0" y1="1001.7" x2="343.0" y2="1001.7" stroke="#000" stroke-width="1.2"/>
<line x1="340.0" y1="997.8" x2="343.0" y2="997.8" stroke="#000" stroke-width="1.2"/>
<line x1="340.0" y1="994.5" x2="343.0" y2="994.5" stroke="#000" stroke-width="1.2"/>
<line x1="340.0" y1="991.6" x2="343.0" y2="991.6" stroke="#000" stroke-width="1.2"/>
<line x1="340.0" y1="989.1" x2="343.0" y2="989.1" stroke="#000" stroke-width="1.2"/>
<line x1="338.0" y1="1035.9" x2="343.0" y2="1035.9" stroke="#000" stroke-width="1.2"/>
<line x1="340.0" y1="1057.3" x2="343.0" y2="1057.3" stroke="#000" stroke-width="1.2"/>
<line x1="340.0" y1="1067.0" x2="343.0" y2="1067.0" stroke="#000" stroke-width="1.2"/>
<line x1="338.0" y1="1074.8" x2="343.0" y2="1074.8" stroke="#000" stroke-width="1.2"/>
<line x1="338.0" y1="1093.7" x2="343.0" y2="1093.7" stroke="#000" stroke-width="1.2"/>
<line x1="343.0" y1="1094.2" x2="343.0" y2="1099.2" stroke="#000" stroke-width="1.2"/>
<line x1="363.6" y1="1094.2" x2="363.6" y2="1099.2" stroke="#000" stroke-width="1.2"/>
<line x1="384.1" y1="1094.2" x2="384.1" y2="1099.2" stroke="#000" stroke-width="1.2"/>
<line x1="404.7" y1="1094.2" x2="404.7" y2="1099.2" stroke="#000" stroke-width="1.2"/>
<line x1="425.3" y1="1094.2" x2="425.3" y2="1099.2" stroke="#000" stroke-width="1.2"/>
<line x1="445.9" y1="1094.2" x2="445.9" y2="1099.2" stroke="#000" stroke-width="1.2"/>
<line x1="466.4" y1="1094.2" x2="466.4" y2="1099.2" stroke="#000" stroke-width="1.2"/>
<line x1="487.0" y1="1094.2" x2="487.0" y2="1099.2" stroke="#000" stroke-width="1.2"/>
<line x1="507.6" y1="1094.2" x2="507.6" y2="1099.2" stroke="#000" stroke-width="1.2"/>
<line x1="528.1" y1="1094.2" x2="528.1" y2="1099.2" stroke="#000" stroke-width="1.2"/>
<line x1="548.7" y1="1094.2" x2="548.7" y2="1099.2" stroke="#000" stroke-width="1.2"/>
<text transform="translate(326.7,887.9) rotate(-90)" font-size="10.5" text-anchor="middle" y="3.8">10<tspan font-size="7.1" dy="-4.7">7</tspan></text>
<text transform="translate(326.7,936.9) rotate(-90)" font-size="10.5" text-anchor="middle" y="3.8">10<tspan font-size="7.1" dy="-4.7">6</tspan></text>
<text transform="translate(326.7,986.7) rotate(-90)" font-size="10.5" text-anchor="middle" y="3.8">10<tspan font-size="7.1" dy="-4.7">5</tspan></text>
<text transform="translate(326.7,1036.4) rotate(-90)" font-size="10.5" text-anchor="middle" y="3.8">10<tspan font-size="7.1" dy="-4.7">4</tspan></text>
<text transform="translate(326.7,1074.8) rotate(-90)" font-size="9.5" text-anchor="middle" y="3.4">0</text>
<text x="343.0" y="1111.6" font-size="10.8" text-anchor="middle">0</text>
<text x="445.9" y="1111.6" font-size="10.8" text-anchor="middle">100</text>
<text x="548.7" y="1111.6" font-size="10.8" text-anchor="middle">200</text>
<text x="441.5" y="881.4" font-size="17.5" font-weight="bold" text-anchor="middle">NK cells-AZA</text>
<rect x="349.0" y="974.5" width="193.2" height="51.0" fill="none" stroke="#000" stroke-width="1.4"/>
<text x="361.9" y="968.0" font-size="10.6" text-anchor="start">(4.72%)</text>
<line x1="1051.0" y1="540.2" x2="1051.0" y2="776.9" stroke="#000" stroke-width="2"/>
<polygon points="1051.0,528.2 1046.5,544.2 1055.5,544.2" fill="#000"/>
<line x1="1050.0" y1="776.9" x2="1538.9" y2="776.9" stroke="#000" stroke-width="2"/>
<polygon points="1550.9,776.9 1533.9,772.7 1533.9,781.1" fill="#000"/>
<text x="1289.5" y="799.0" font-size="23" font-weight="bold" text-anchor="middle">CD25</text>
<rect x="1088.0" y="536.4" width="204.2" height="204.1" fill="none" stroke="#000" stroke-width="1.5"/>
<line x1="1083.0" y1="731.6" x2="1088.0" y2="731.6" stroke="#000" stroke-width="1.4"/>
<line x1="1083.0" y1="723.9" x2="1088.0" y2="723.9" stroke="#000" stroke-width="1.4"/>
<line x1="1083.0" y1="716.1" x2="1088.0" y2="716.1" stroke="#000" stroke-width="1.4"/>
<line x1="1083.0" y1="708.4" x2="1088.0" y2="708.4" stroke="#000" stroke-width="1.4"/>
<line x1="1079.0" y1="700.7" x2="1088.0" y2="700.7" stroke="#000" stroke-width="1.4"/>
<line x1="1083.0" y1="693.0" x2="1088.0" y2="693.0" stroke="#000" stroke-width="1.4"/>
<line x1="1083.0" y1="685.3" x2="1088.0" y2="685.3" stroke="#000" stroke-width="1.4"/>
<line x1="1083.0" y1="677.5" x2="1088.0" y2="677.5" stroke="#000" stroke-width="1.4"/>
<line x1="1083.0" y1="669.8" x2="1088.0" y2="669.8" stroke="#000" stroke-width="1.4"/>
<line x1="1079.0" y1="662.1" x2="1088.0" y2="662.1" stroke="#000" stroke-width="1.4"/>
<line x1="1083.0" y1="654.4" x2="1088.0" y2="654.4" stroke="#000" stroke-width="1.4"/>
<line x1="1083.0" y1="646.7" x2="1088.0" y2="646.7" stroke="#000" stroke-width="1.4"/>
<line x1="1083.0" y1="638.9" x2="1088.0" y2="638.9" stroke="#000" stroke-width="1.4"/>
<line x1="1083.0" y1="631.2" x2="1088.0" y2="631.2" stroke="#000" stroke-width="1.4"/>
<line x1="1079.0" y1="623.5" x2="1088.0" y2="623.5" stroke="#000" stroke-width="1.4"/>
<line x1="1083.0" y1="615.8" x2="1088.0" y2="615.8" stroke="#000" stroke-width="1.4"/>
<line x1="1083.0" y1="608.1" x2="1088.0" y2="608.1" stroke="#000" stroke-width="1.4"/>
<line x1="1083.0" y1="600.3" x2="1088.0" y2="600.3" stroke="#000" stroke-width="1.4"/>
<line x1="1083.0" y1="592.6" x2="1088.0" y2="592.6" stroke="#000" stroke-width="1.4"/>
<line x1="1079.0" y1="584.9" x2="1088.0" y2="584.9" stroke="#000" stroke-width="1.4"/>
<line x1="1083.0" y1="577.2" x2="1088.0" y2="577.2" stroke="#000" stroke-width="1.4"/>
<line x1="1083.0" y1="569.5" x2="1088.0" y2="569.5" stroke="#000" stroke-width="1.4"/>
<line x1="1083.0" y1="561.7" x2="1088.0" y2="561.7" stroke="#000" stroke-width="1.4"/>
<line x1="1083.0" y1="554.0" x2="1088.0" y2="554.0" stroke="#000" stroke-width="1.4"/>
<line x1="1079.0" y1="546.3" x2="1088.0" y2="546.3" stroke="#000" stroke-width="1.4"/>
<line x1="1083.0" y1="538.6" x2="1088.0" y2="538.6" stroke="#000" stroke-width="1.4"/>
<line x1="1130.8" y1="740.5" x2="1130.8" y2="752.5" stroke="#000" stroke-width="1.5"/>
<line x1="1145.0" y1="740.5" x2="1145.0" y2="746.5" stroke="#000" stroke-width="1.4"/>
<line x1="1153.3" y1="740.5" x2="1153.3" y2="746.5" stroke="#000" stroke-width="1.4"/>
<line x1="1159.2" y1="740.5" x2="1159.2" y2="746.5" stroke="#000" stroke-width="1.4"/>
<line x1="1163.7" y1="740.5" x2="1163.7" y2="746.5" stroke="#000" stroke-width="1.4"/>
<line x1="1167.5" y1="740.5" x2="1167.5" y2="746.5" stroke="#000" stroke-width="1.4"/>
<line x1="1170.6" y1="740.5" x2="1170.6" y2="746.5" stroke="#000" stroke-width="1.4"/>
<line x1="1173.3" y1="740.5" x2="1173.3" y2="746.5" stroke="#000" stroke-width="1.4"/>
<line x1="1175.7" y1="740.5" x2="1175.7" y2="746.5" stroke="#000" stroke-width="1.4"/>
<line x1="1180.2" y1="740.5" x2="1180.2" y2="752.5" stroke="#000" stroke-width="1.5"/>
<line x1="1194.4" y1="740.5" x2="1194.4" y2="746.5" stroke="#000" stroke-width="1.4"/>
<line x1="1202.7" y1="740.5" x2="1202.7" y2="746.5" stroke="#000" stroke-width="1.4"/>
<line x1="1208.6" y1="740.5" x2="1208.6" y2="746.5" stroke="#000" stroke-width="1.4"/>
<line x1="1213.1" y1="740.5" x2="1213.1" y2="746.5" stroke="#000" stroke-width="1.4"/>
<line x1="1216.9" y1="740.5" x2="1216.9" y2="746.5" stroke="#000" stroke-width="1.4"/>
<line x1="1220.0" y1="740.5" x2="1220.0" y2="746.5" stroke="#000" stroke-width="1.4"/>
<line x1="1222.7" y1="740.5" x2="1222.7" y2="746.5" stroke="#000" stroke-width="1.4"/>
<line x1="1225.1" y1="740.5" x2="1225.1" y2="746.5" stroke="#000" stroke-width="1.4"/>
<line x1="1227.0" y1="740.5" x2="1227.0" y2="752.5" stroke="#000" stroke-width="1.5"/>
<line x1="1241.2" y1="740.5" x2="1241.2" y2="746.5" stroke="#000" stroke-width="1.4"/>
<line x1="1249.5" y1="740.5" x2="1249.5" y2="746.5" stroke="#000" stroke-width="1.4"/>
<line x1="1255.4" y1="740.5" x2="1255.4" y2="746.5" stroke="#000" stroke-width="1.4"/>
<line x1="1259.9" y1="740.5" x2="1259.9" y2="746.5" stroke="#000" stroke-width="1.4"/>
<line x1="1263.7" y1="740.5" x2="1263.7" y2="746.5" stroke="#000" stroke-width="1.4"/>
<line x1="1266.8" y1="740.5" x2="1266.8" y2="746.5" stroke="#000" stroke-width="1.4"/>
<line x1="1269.5" y1="740.5" x2="1269.5" y2="746.5" stroke="#000" stroke-width="1.4"/>
<line x1="1271.9" y1="740.5" x2="1271.9" y2="746.5" stroke="#000" stroke-width="1.4"/>
<line x1="1272.1" y1="740.5" x2="1272.1" y2="752.5" stroke="#000" stroke-width="1.5"/>
<line x1="1291.6" y1="740.5" x2="1291.6" y2="746.5" stroke="#000" stroke-width="1.4"/>
<line x1="1089.5" y1="740.5" x2="1089.5" y2="746.5" stroke="#000" stroke-width="1.3"/>
<line x1="1092.6" y1="740.5" x2="1092.6" y2="746.5" stroke="#000" stroke-width="1.3"/>
<line x1="1095.6" y1="740.5" x2="1095.6" y2="746.5" stroke="#000" stroke-width="1.3"/>
<line x1="1098.7" y1="740.5" x2="1098.7" y2="746.5" stroke="#000" stroke-width="1.3"/>
<line x1="1108.7" y1="740.5" x2="1108.7" y2="746.5" stroke="#000" stroke-width="1.3"/>
<line x1="1111.1" y1="740.5" x2="1111.1" y2="746.5" stroke="#000" stroke-width="1.3"/>
<line x1="1113.5" y1="740.5" x2="1113.5" y2="746.5" stroke="#000" stroke-width="1.3"/>
<line x1="1115.9" y1="740.5" x2="1115.9" y2="746.5" stroke="#000" stroke-width="1.3"/>
<line x1="1118.2" y1="740.5" x2="1118.2" y2="746.5" stroke="#000" stroke-width="1.3"/>
<line x1="1120.6" y1="740.5" x2="1120.6" y2="746.5" stroke="#000" stroke-width="1.3"/>
<line x1="1123.0" y1="740.5" x2="1123.0" y2="746.5" stroke="#000" stroke-width="1.3"/>
<line x1="1125.4" y1="740.5" x2="1125.4" y2="746.5" stroke="#000" stroke-width="1.3"/>
<line x1="1127.8" y1="740.5" x2="1127.8" y2="746.5" stroke="#000" stroke-width="1.3"/>
<line x1="1101.2" y1="740.5" x2="1101.2" y2="752.5" stroke="#000" stroke-width="0.9"/>
<line x1="1103.2" y1="740.5" x2="1103.2" y2="752.5" stroke="#000" stroke-width="0.9"/>
<line x1="1105.2" y1="740.5" x2="1105.2" y2="752.5" stroke="#000" stroke-width="0.9"/>
<line x1="1107.2" y1="740.5" x2="1107.2" y2="752.5" stroke="#000" stroke-width="0.9"/>
<line x1="1088.8" y1="740.5" x2="1088.8" y2="752.5" stroke="#000" stroke-width="1.4"/>
<text transform="translate(1072.8,546.3) rotate(-90)" font-size="12" text-anchor="middle" y="4.3">250</text>
<text transform="translate(1072.8,584.4) rotate(-90)" font-size="12" text-anchor="middle" y="4.3">200</text>
<text transform="translate(1072.8,623.5) rotate(-90)" font-size="12" text-anchor="middle" y="4.3">150</text>
<text transform="translate(1072.8,662.1) rotate(-90)" font-size="12" text-anchor="middle" y="4.3">100</text>
<text transform="translate(1072.8,700.7) rotate(-90)" font-size="12" text-anchor="middle" y="4.3">50</text>
<text x="1102.7" y="764.6" font-size="12.5" text-anchor="middle">0</text>
<text x="1133.4" y="764.6" font-size="12.5" text-anchor="end">10</text><text x="1133.8" y="759.1" font-size="9">2</text>
<text x="1182.8" y="764.6" font-size="12.5" text-anchor="end">10</text><text x="1183.2" y="759.1" font-size="9">3</text>
<text x="1229.6" y="764.6" font-size="12.5" text-anchor="end">10</text><text x="1230.0" y="759.1" font-size="9">4</text>
<text x="1274.7" y="764.6" font-size="12.5" text-anchor="end">10</text><text x="1275.1" y="759.1" font-size="9">5</text>
<text x="1189.9" y="528.7" font-size="17.5" font-weight="bold" text-anchor="middle">T cells-Control</text>
<polygon points="1206.6,587.7 1272.8,591.9 1270.5,735.3 1178.0,737.0" fill="none" stroke="#000" stroke-width="1.4"/>
<text x="1230.7" y="586.7" font-size="11" font-weight="bold" text-anchor="start">0.4%</text>
<rect x="1329.8" y="534.6" width="204.7" height="203.5" fill="none" stroke="#000" stroke-width="1.5"/>
<line x1="1324.8" y1="729.2" x2="1329.8" y2="729.2" stroke="#000" stroke-width="1.4"/>
<line x1="1324.8" y1="721.5" x2="1329.8" y2="721.5" stroke="#000" stroke-width="1.4"/>
<line x1="1324.8" y1="713.7" x2="1329.8" y2="713.7" stroke="#000" stroke-width="1.4"/>
<line x1="1324.8" y1="706.0" x2="1329.8" y2="706.0" stroke="#000" stroke-width="1.4"/>
<line x1="1320.8" y1="698.3" x2="1329.8" y2="698.3" stroke="#000" stroke-width="1.4"/>
<line x1="1324.8" y1="690.6" x2="1329.8" y2="690.6" stroke="#000" stroke-width="1.4"/>
<line x1="1324.8" y1="682.9" x2="1329.8" y2="682.9" stroke="#000" stroke-width="1.4"/>
<line x1="1324.8" y1="675.1" x2="1329.8" y2="675.1" stroke="#000" stroke-width="1.4"/>
<line x1="1324.8" y1="667.4" x2="1329.8" y2="667.4" stroke="#000" stroke-width="1.4"/>
<line x1="1320.8" y1="659.7" x2="1329.8" y2="659.7" stroke="#000" stroke-width="1.4"/>
<line x1="1324.8" y1="652.0" x2="1329.8" y2="652.0" stroke="#000" stroke-width="1.4"/>
<line x1="1324.8" y1="644.3" x2="1329.8" y2="644.3" stroke="#000" stroke-width="1.4"/>
<line x1="1324.8" y1="636.5" x2="1329.8" y2="636.5" stroke="#000" stroke-width="1.4"/>
<line x1="1324.8" y1="628.8" x2="1329.8" y2="628.8" stroke="#000" stroke-width="1.4"/>
<line x1="1320.8" y1="621.1" x2="1329.8" y2="621.1" stroke="#000" stroke-width="1.4"/>
<line x1="1324.8" y1="613.4" x2="1329.8" y2="613.4" stroke="#000" stroke-width="1.4"/>
<line x1="1324.8" y1="605.7" x2="1329.8" y2="605.7" stroke="#000" stroke-width="1.4"/>
<line x1="1324.8" y1="597.9" x2="1329.8" y2="597.9" stroke="#000" stroke-width="1.4"/>
<line x1="1324.8" y1="590.2" x2="1329.8" y2="590.2" stroke="#000" stroke-width="1.4"/>
<line x1="1320.8" y1="582.5" x2="1329.8" y2="582.5" stroke="#000" stroke-width="1.4"/>
<line x1="1324.8" y1="574.8" x2="1329.8" y2="574.8" stroke="#000" stroke-width="1.4"/>
<line x1="1324.8" y1="567.1" x2="1329.8" y2="567.1" stroke="#000" stroke-width="1.4"/>
<line x1="1324.8" y1="559.3" x2="1329.8" y2="559.3" stroke="#000" stroke-width="1.4"/>
<line x1="1324.8" y1="551.6" x2="1329.8" y2="551.6" stroke="#000" stroke-width="1.4"/>
<line x1="1320.8" y1="543.9" x2="1329.8" y2="543.9" stroke="#000" stroke-width="1.4"/>
<line x1="1324.8" y1="536.2" x2="1329.8" y2="536.2" stroke="#000" stroke-width="1.4"/>
<line x1="1374.5" y1="738.1" x2="1374.5" y2="750.1" stroke="#000" stroke-width="1.5"/>
<line x1="1388.6" y1="738.1" x2="1388.6" y2="744.1" stroke="#000" stroke-width="1.4"/>
<line x1="1396.8" y1="738.1" x2="1396.8" y2="744.1" stroke="#000" stroke-width="1.4"/>
<line x1="1402.7" y1="738.1" x2="1402.7" y2="744.1" stroke="#000" stroke-width="1.4"/>
<line x1="1407.2" y1="738.1" x2="1407.2" y2="744.1" stroke="#000" stroke-width="1.4"/>
<line x1="1410.9" y1="738.1" x2="1410.9" y2="744.1" stroke="#000" stroke-width="1.4"/>
<line x1="1414.1" y1="738.1" x2="1414.1" y2="744.1" stroke="#000" stroke-width="1.4"/>
<line x1="1416.8" y1="738.1" x2="1416.8" y2="744.1" stroke="#000" stroke-width="1.4"/>
<line x1="1419.2" y1="738.1" x2="1419.2" y2="744.1" stroke="#000" stroke-width="1.4"/>
<line x1="1422.5" y1="738.1" x2="1422.5" y2="750.1" stroke="#000" stroke-width="1.5"/>
<line x1="1436.6" y1="738.1" x2="1436.6" y2="744.1" stroke="#000" stroke-width="1.4"/>
<line x1="1444.8" y1="738.1" x2="1444.8" y2="744.1" stroke="#000" stroke-width="1.4"/>
<line x1="1450.7" y1="738.1" x2="1450.7" y2="744.1" stroke="#000" stroke-width="1.4"/>
<line x1="1455.2" y1="738.1" x2="1455.2" y2="744.1" stroke="#000" stroke-width="1.4"/>
<line x1="1458.9" y1="738.1" x2="1458.9" y2="744.1" stroke="#000" stroke-width="1.4"/>
<line x1="1462.1" y1="738.1" x2="1462.1" y2="744.1" stroke="#000" stroke-width="1.4"/>
<line x1="1464.8" y1="738.1" x2="1464.8" y2="744.1" stroke="#000" stroke-width="1.4"/>
<line x1="1467.2" y1="738.1" x2="1467.2" y2="744.1" stroke="#000" stroke-width="1.4"/>
<line x1="1469.3" y1="738.1" x2="1469.3" y2="750.1" stroke="#000" stroke-width="1.5"/>
<line x1="1483.4" y1="738.1" x2="1483.4" y2="744.1" stroke="#000" stroke-width="1.4"/>
<line x1="1491.6" y1="738.1" x2="1491.6" y2="744.1" stroke="#000" stroke-width="1.4"/>
<line x1="1497.5" y1="738.1" x2="1497.5" y2="744.1" stroke="#000" stroke-width="1.4"/>
<line x1="1502.0" y1="738.1" x2="1502.0" y2="744.1" stroke="#000" stroke-width="1.4"/>
<line x1="1505.7" y1="738.1" x2="1505.7" y2="744.1" stroke="#000" stroke-width="1.4"/>
<line x1="1508.9" y1="738.1" x2="1508.9" y2="744.1" stroke="#000" stroke-width="1.4"/>
<line x1="1511.6" y1="738.1" x2="1511.6" y2="744.1" stroke="#000" stroke-width="1.4"/>
<line x1="1514.0" y1="738.1" x2="1514.0" y2="744.1" stroke="#000" stroke-width="1.4"/>
<line x1="1515.0" y1="738.1" x2="1515.0" y2="750.1" stroke="#000" stroke-width="1.5"/>
<line x1="1534.4" y1="738.1" x2="1534.4" y2="744.1" stroke="#000" stroke-width="1.4"/>
<line x1="1331.3" y1="738.1" x2="1331.3" y2="744.1" stroke="#000" stroke-width="1.3"/>
<line x1="1333.2" y1="738.1" x2="1333.2" y2="744.1" stroke="#000" stroke-width="1.3"/>
<line x1="1335.1" y1="738.1" x2="1335.1" y2="744.1" stroke="#000" stroke-width="1.3"/>
<line x1="1337.0" y1="738.1" x2="1337.0" y2="744.1" stroke="#000" stroke-width="1.3"/>
<line x1="1347.0" y1="738.1" x2="1347.0" y2="744.1" stroke="#000" stroke-width="1.3"/>
<line x1="1350.1" y1="738.1" x2="1350.1" y2="744.1" stroke="#000" stroke-width="1.3"/>
<line x1="1353.1" y1="738.1" x2="1353.1" y2="744.1" stroke="#000" stroke-width="1.3"/>
<line x1="1356.2" y1="738.1" x2="1356.2" y2="744.1" stroke="#000" stroke-width="1.3"/>
<line x1="1359.2" y1="738.1" x2="1359.2" y2="744.1" stroke="#000" stroke-width="1.3"/>
<line x1="1362.3" y1="738.1" x2="1362.3" y2="744.1" stroke="#000" stroke-width="1.3"/>
<line x1="1365.4" y1="738.1" x2="1365.4" y2="744.1" stroke="#000" stroke-width="1.3"/>
<line x1="1368.4" y1="738.1" x2="1368.4" y2="744.1" stroke="#000" stroke-width="1.3"/>
<line x1="1371.5" y1="738.1" x2="1371.5" y2="744.1" stroke="#000" stroke-width="1.3"/>
<line x1="1339.5" y1="738.1" x2="1339.5" y2="750.1" stroke="#000" stroke-width="0.9"/>
<line x1="1341.5" y1="738.1" x2="1341.5" y2="750.1" stroke="#000" stroke-width="0.9"/>
<line x1="1343.5" y1="738.1" x2="1343.5" y2="750.1" stroke="#000" stroke-width="0.9"/>
<line x1="1345.5" y1="738.1" x2="1345.5" y2="750.1" stroke="#000" stroke-width="0.9"/>
<line x1="1330.6" y1="738.1" x2="1330.6" y2="750.1" stroke="#000" stroke-width="1.4"/>
<text transform="translate(1314.6,543.9) rotate(-90)" font-size="12" text-anchor="middle" y="4.3">250</text>
<text transform="translate(1314.6,582.5) rotate(-90)" font-size="12" text-anchor="middle" y="4.3">200</text>
<text transform="translate(1314.6,621.1) rotate(-90)" font-size="12" text-anchor="middle" y="4.3">150</text>
<text transform="translate(1314.6,659.7) rotate(-90)" font-size="12" text-anchor="middle" y="4.3">100</text>
<text transform="translate(1314.6,698.3) rotate(-90)" font-size="12" text-anchor="middle" y="4.3">50</text>
<text x="1341.0" y="762.7" font-size="12.5" text-anchor="middle">0</text>
<text x="1377.1" y="762.7" font-size="12.5" text-anchor="end">10</text><text x="1377.5" y="757.2" font-size="9">2</text>
<text x="1425.1" y="762.7" font-size="12.5" text-anchor="end">10</text><text x="1425.5" y="757.2" font-size="9">3</text>
<text x="1471.9" y="762.7" font-size="12.5" text-anchor="end">10</text><text x="1472.3" y="757.2" font-size="9">4</text>
<text x="1517.6" y="762.7" font-size="12.5" text-anchor="end">10</text><text x="1518.0" y="757.2" font-size="9">5</text>
<text x="1430.4" y="526.4" font-size="17.5" font-weight="bold" text-anchor="middle">T cells-AZA</text>
<polygon points="1449.1,586.0 1515.1,590.3 1512.3,733.4 1421.0,735.8" fill="none" stroke="#000" stroke-width="1.4"/>
<text x="1471.3" y="584.9" font-size="11" font-weight="bold" text-anchor="start">10.1%</text>
<line x1="1048.7" y1="894.5" x2="1048.7" y2="1130.6" stroke="#000" stroke-width="2"/>
<polygon points="1048.7,882.5 1044.2,898.5 1053.2,898.5" fill="#000"/>
<line x1="1047.7" y1="1130.6" x2="1536.5" y2="1130.6" stroke="#000" stroke-width="2"/>
<polygon points="1548.5,1130.6 1531.5,1126.4 1531.5,1134.8" fill="#000"/>
<text x="1287.0" y="1152.0" font-size="23" font-weight="bold" text-anchor="middle">CD69</text>
<rect x="1085.6" y="885.6" width="209.4" height="205.2" fill="none" stroke="#000" stroke-width="1.5"/>
<line x1="1080.6" y1="1083.6" x2="1085.6" y2="1083.6" stroke="#000" stroke-width="1.4"/>
<line x1="1080.6" y1="1075.7" x2="1085.6" y2="1075.7" stroke="#000" stroke-width="1.4"/>
<line x1="1080.6" y1="1067.9" x2="1085.6" y2="1067.9" stroke="#000" stroke-width="1.4"/>
<line x1="1080.6" y1="1060.0" x2="1085.6" y2="1060.0" stroke="#000" stroke-width="1.4"/>
<line x1="1076.6" y1="1052.2" x2="1085.6" y2="1052.2" stroke="#000" stroke-width="1.4"/>
<line x1="1080.6" y1="1044.4" x2="1085.6" y2="1044.4" stroke="#000" stroke-width="1.4"/>
<line x1="1080.6" y1="1036.5" x2="1085.6" y2="1036.5" stroke="#000" stroke-width="1.4"/>
<line x1="1080.6" y1="1028.7" x2="1085.6" y2="1028.7" stroke="#000" stroke-width="1.4"/>
<line x1="1080.6" y1="1020.8" x2="1085.6" y2="1020.8" stroke="#000" stroke-width="1.4"/>
<line x1="1076.6" y1="1013.0" x2="1085.6" y2="1013.0" stroke="#000" stroke-width="1.4"/>
<line x1="1080.6" y1="1005.2" x2="1085.6" y2="1005.2" stroke="#000" stroke-width="1.4"/>
<line x1="1080.6" y1="997.3" x2="1085.6" y2="997.3" stroke="#000" stroke-width="1.4"/>
<line x1="1080.6" y1="989.5" x2="1085.6" y2="989.5" stroke="#000" stroke-width="1.4"/>
<line x1="1080.6" y1="981.6" x2="1085.6" y2="981.6" stroke="#000" stroke-width="1.4"/>
<line x1="1076.6" y1="973.8" x2="1085.6" y2="973.8" stroke="#000" stroke-width="1.4"/>
<line x1="1080.6" y1="966.0" x2="1085.6" y2="966.0" stroke="#000" stroke-width="1.4"/>
<line x1="1080.6" y1="958.1" x2="1085.6" y2="958.1" stroke="#000" stroke-width="1.4"/>
<line x1="1080.6" y1="950.3" x2="1085.6" y2="950.3" stroke="#000" stroke-width="1.4"/>
<line x1="1080.6" y1="942.4" x2="1085.6" y2="942.4" stroke="#000" stroke-width="1.4"/>
<line x1="1076.6" y1="934.6" x2="1085.6" y2="934.6" stroke="#000" stroke-width="1.4"/>
<line x1="1080.6" y1="926.8" x2="1085.6" y2="926.8" stroke="#000" stroke-width="1.4"/>
<line x1="1080.6" y1="918.9" x2="1085.6" y2="918.9" stroke="#000" stroke-width="1.4"/>
<line x1="1080.6" y1="911.1" x2="1085.6" y2="911.1" stroke="#000" stroke-width="1.4"/>
<line x1="1080.6" y1="903.2" x2="1085.6" y2="903.2" stroke="#000" stroke-width="1.4"/>
<line x1="1076.6" y1="895.4" x2="1085.6" y2="895.4" stroke="#000" stroke-width="1.4"/>
<line x1="1080.6" y1="887.6" x2="1085.6" y2="887.6" stroke="#000" stroke-width="1.4"/>
<line x1="1130.0" y1="1090.8" x2="1130.0" y2="1102.8" stroke="#000" stroke-width="1.5"/>
<line x1="1144.7" y1="1090.8" x2="1144.7" y2="1096.8" stroke="#000" stroke-width="1.4"/>
<line x1="1153.2" y1="1090.8" x2="1153.2" y2="1096.8" stroke="#000" stroke-width="1.4"/>
<line x1="1159.3" y1="1090.8" x2="1159.3" y2="1096.8" stroke="#000" stroke-width="1.4"/>
<line x1="1164.0" y1="1090.8" x2="1164.0" y2="1096.8" stroke="#000" stroke-width="1.4"/>
<line x1="1167.9" y1="1090.8" x2="1167.9" y2="1096.8" stroke="#000" stroke-width="1.4"/>
<line x1="1171.1" y1="1090.8" x2="1171.1" y2="1096.8" stroke="#000" stroke-width="1.4"/>
<line x1="1174.0" y1="1090.8" x2="1174.0" y2="1096.8" stroke="#000" stroke-width="1.4"/>
<line x1="1176.4" y1="1090.8" x2="1176.4" y2="1096.8" stroke="#000" stroke-width="1.4"/>
<line x1="1180.5" y1="1090.8" x2="1180.5" y2="1102.8" stroke="#000" stroke-width="1.5"/>
<line x1="1195.2" y1="1090.8" x2="1195.2" y2="1096.8" stroke="#000" stroke-width="1.4"/>
<line x1="1203.7" y1="1090.8" x2="1203.7" y2="1096.8" stroke="#000" stroke-width="1.4"/>
<line x1="1209.8" y1="1090.8" x2="1209.8" y2="1096.8" stroke="#000" stroke-width="1.4"/>
<line x1="1214.5" y1="1090.8" x2="1214.5" y2="1096.8" stroke="#000" stroke-width="1.4"/>
<line x1="1218.4" y1="1090.8" x2="1218.4" y2="1096.8" stroke="#000" stroke-width="1.4"/>
<line x1="1221.6" y1="1090.8" x2="1221.6" y2="1096.8" stroke="#000" stroke-width="1.4"/>
<line x1="1224.5" y1="1090.8" x2="1224.5" y2="1096.8" stroke="#000" stroke-width="1.4"/>
<line x1="1226.9" y1="1090.8" x2="1226.9" y2="1096.8" stroke="#000" stroke-width="1.4"/>
<line x1="1229.2" y1="1090.8" x2="1229.2" y2="1102.8" stroke="#000" stroke-width="1.5"/>
<line x1="1243.9" y1="1090.8" x2="1243.9" y2="1096.8" stroke="#000" stroke-width="1.4"/>
<line x1="1252.4" y1="1090.8" x2="1252.4" y2="1096.8" stroke="#000" stroke-width="1.4"/>
<line x1="1258.5" y1="1090.8" x2="1258.5" y2="1096.8" stroke="#000" stroke-width="1.4"/>
<line x1="1263.2" y1="1090.8" x2="1263.2" y2="1096.8" stroke="#000" stroke-width="1.4"/>
<line x1="1267.1" y1="1090.8" x2="1267.1" y2="1096.8" stroke="#000" stroke-width="1.4"/>
<line x1="1270.3" y1="1090.8" x2="1270.3" y2="1096.8" stroke="#000" stroke-width="1.4"/>
<line x1="1273.2" y1="1090.8" x2="1273.2" y2="1096.8" stroke="#000" stroke-width="1.4"/>
<line x1="1275.6" y1="1090.8" x2="1275.6" y2="1096.8" stroke="#000" stroke-width="1.4"/>
<line x1="1276.0" y1="1090.8" x2="1276.0" y2="1102.8" stroke="#000" stroke-width="1.5"/>
<line x1="1296.2" y1="1090.8" x2="1296.2" y2="1096.8" stroke="#000" stroke-width="1.4"/>
<line x1="1087.1" y1="1090.8" x2="1087.1" y2="1096.8" stroke="#000" stroke-width="1.3"/>
<line x1="1091.7" y1="1090.8" x2="1091.7" y2="1096.8" stroke="#000" stroke-width="1.3"/>
<line x1="1096.4" y1="1090.8" x2="1096.4" y2="1096.8" stroke="#000" stroke-width="1.3"/>
<line x1="1101.0" y1="1090.8" x2="1101.0" y2="1096.8" stroke="#000" stroke-width="1.3"/>
<line x1="1111.0" y1="1090.8" x2="1111.0" y2="1096.8" stroke="#000" stroke-width="1.3"/>
<line x1="1113.0" y1="1090.8" x2="1113.0" y2="1096.8" stroke="#000" stroke-width="1.3"/>
<line x1="1115.0" y1="1090.8" x2="1115.0" y2="1096.8" stroke="#000" stroke-width="1.3"/>
<line x1="1117.0" y1="1090.8" x2="1117.0" y2="1096.8" stroke="#000" stroke-width="1.3"/>
<line x1="1119.0" y1="1090.8" x2="1119.0" y2="1096.8" stroke="#000" stroke-width="1.3"/>
<line x1="1121.0" y1="1090.8" x2="1121.0" y2="1096.8" stroke="#000" stroke-width="1.3"/>
<line x1="1123.0" y1="1090.8" x2="1123.0" y2="1096.8" stroke="#000" stroke-width="1.3"/>
<line x1="1125.0" y1="1090.8" x2="1125.0" y2="1096.8" stroke="#000" stroke-width="1.3"/>
<line x1="1127.0" y1="1090.8" x2="1127.0" y2="1096.8" stroke="#000" stroke-width="1.3"/>
<line x1="1103.5" y1="1090.8" x2="1103.5" y2="1102.8" stroke="#000" stroke-width="0.9"/>
<line x1="1105.5" y1="1090.8" x2="1105.5" y2="1102.8" stroke="#000" stroke-width="0.9"/>
<line x1="1107.5" y1="1090.8" x2="1107.5" y2="1102.8" stroke="#000" stroke-width="0.9"/>
<line x1="1109.5" y1="1090.8" x2="1109.5" y2="1102.8" stroke="#000" stroke-width="0.9"/>
<line x1="1086.4" y1="1090.8" x2="1086.4" y2="1102.8" stroke="#000" stroke-width="1.4"/>
<text transform="translate(1070.4,895.4) rotate(-90)" font-size="12" text-anchor="middle" y="4.3">250</text>
<text transform="translate(1070.4,935.2) rotate(-90)" font-size="12" text-anchor="middle" y="4.3">200</text>
<text transform="translate(1070.4,973.8) rotate(-90)" font-size="12" text-anchor="middle" y="4.3">150</text>
<text transform="translate(1070.4,1013.6) rotate(-90)" font-size="12" text-anchor="middle" y="4.3">100</text>
<text transform="translate(1070.4,1052.2) rotate(-90)" font-size="12" text-anchor="middle" y="4.3">50</text>
<text x="1105.0" y="1115.8" font-size="12.5" text-anchor="middle">0</text>
<text x="1132.6" y="1115.8" font-size="12.5" text-anchor="end">10</text><text x="1133.0" y="1110.3" font-size="9">2</text>
<text x="1183.1" y="1115.8" font-size="12.5" text-anchor="end">10</text><text x="1183.5" y="1110.3" font-size="9">3</text>
<text x="1231.8" y="1115.8" font-size="12.5" text-anchor="end">10</text><text x="1232.2" y="1110.3" font-size="9">4</text>
<text x="1278.6" y="1115.8" font-size="12.5" text-anchor="end">10</text><text x="1279.0" y="1110.3" font-size="9">5</text>
<text x="1192.1" y="880.9" font-size="17.5" font-weight="bold" text-anchor="middle">T cells-Control</text>
<polygon points="1222.5,937.5 1295.0,935.9 1275.1,1084.9 1180.4,1088.4" fill="none" stroke="#000" stroke-width="1.4"/>
<text x="1250.6" y="934.0" font-size="11" font-weight="bold" text-anchor="start">0.8%</text>
<rect x="1332.1" y="884.9" width="209.4" height="205.2" fill="none" stroke="#000" stroke-width="1.5"/>
<line x1="1327.1" y1="1082.8" x2="1332.1" y2="1082.8" stroke="#000" stroke-width="1.4"/>
<line x1="1327.1" y1="1074.9" x2="1332.1" y2="1074.9" stroke="#000" stroke-width="1.4"/>
<line x1="1327.1" y1="1066.9" x2="1332.1" y2="1066.9" stroke="#000" stroke-width="1.4"/>
<line x1="1327.1" y1="1059.0" x2="1332.1" y2="1059.0" stroke="#000" stroke-width="1.4"/>
<line x1="1323.1" y1="1051.0" x2="1332.1" y2="1051.0" stroke="#000" stroke-width="1.4"/>
<line x1="1327.1" y1="1043.0" x2="1332.1" y2="1043.0" stroke="#000" stroke-width="1.4"/>
<line x1="1327.1" y1="1035.1" x2="1332.1" y2="1035.1" stroke="#000" stroke-width="1.4"/>
<line x1="1327.1" y1="1027.1" x2="1332.1" y2="1027.1" stroke="#000" stroke-width="1.4"/>
<line x1="1327.1" y1="1019.2" x2="1332.1" y2="1019.2" stroke="#000" stroke-width="1.4"/>
<line x1="1323.1" y1="1011.2" x2="1332.1" y2="1011.2" stroke="#000" stroke-width="1.4"/>
<line x1="1327.1" y1="1003.3" x2="1332.1" y2="1003.3" stroke="#000" stroke-width="1.4"/>
<line x1="1327.1" y1="995.3" x2="1332.1" y2="995.3" stroke="#000" stroke-width="1.4"/>
<line x1="1327.1" y1="987.4" x2="1332.1" y2="987.4" stroke="#000" stroke-width="1.4"/>
<line x1="1327.1" y1="979.4" x2="1332.1" y2="979.4" stroke="#000" stroke-width="1.4"/>
<line x1="1323.1" y1="971.5" x2="1332.1" y2="971.5" stroke="#000" stroke-width="1.4"/>
<line x1="1327.1" y1="963.5" x2="1332.1" y2="963.5" stroke="#000" stroke-width="1.4"/>
<line x1="1327.1" y1="955.5" x2="1332.1" y2="955.5" stroke="#000" stroke-width="1.4"/>
<line x1="1327.1" y1="947.6" x2="1332.1" y2="947.6" stroke="#000" stroke-width="1.4"/>
<line x1="1327.1" y1="939.6" x2="1332.1" y2="939.6" stroke="#000" stroke-width="1.4"/>
<line x1="1323.1" y1="931.7" x2="1332.1" y2="931.7" stroke="#000" stroke-width="1.4"/>
<line x1="1327.1" y1="923.7" x2="1332.1" y2="923.7" stroke="#000" stroke-width="1.4"/>
<line x1="1327.1" y1="915.8" x2="1332.1" y2="915.8" stroke="#000" stroke-width="1.4"/>
<line x1="1327.1" y1="907.8" x2="1332.1" y2="907.8" stroke="#000" stroke-width="1.4"/>
<line x1="1327.1" y1="899.9" x2="1332.1" y2="899.9" stroke="#000" stroke-width="1.4"/>
<line x1="1323.1" y1="891.9" x2="1332.1" y2="891.9" stroke="#000" stroke-width="1.4"/>
<line x1="1379.5" y1="1090.1" x2="1379.5" y2="1102.1" stroke="#000" stroke-width="1.5"/>
<line x1="1393.7" y1="1090.1" x2="1393.7" y2="1096.1" stroke="#000" stroke-width="1.4"/>
<line x1="1402.1" y1="1090.1" x2="1402.1" y2="1096.1" stroke="#000" stroke-width="1.4"/>
<line x1="1408.0" y1="1090.1" x2="1408.0" y2="1096.1" stroke="#000" stroke-width="1.4"/>
<line x1="1412.5" y1="1090.1" x2="1412.5" y2="1096.1" stroke="#000" stroke-width="1.4"/>
<line x1="1416.3" y1="1090.1" x2="1416.3" y2="1096.1" stroke="#000" stroke-width="1.4"/>
<line x1="1419.4" y1="1090.1" x2="1419.4" y2="1096.1" stroke="#000" stroke-width="1.4"/>
<line x1="1422.2" y1="1090.1" x2="1422.2" y2="1096.1" stroke="#000" stroke-width="1.4"/>
<line x1="1424.6" y1="1090.1" x2="1424.6" y2="1096.1" stroke="#000" stroke-width="1.4"/>
<line x1="1428.9" y1="1090.1" x2="1428.9" y2="1102.1" stroke="#000" stroke-width="1.5"/>
<line x1="1443.1" y1="1090.1" x2="1443.1" y2="1096.1" stroke="#000" stroke-width="1.4"/>
<line x1="1451.5" y1="1090.1" x2="1451.5" y2="1096.1" stroke="#000" stroke-width="1.4"/>
<line x1="1457.4" y1="1090.1" x2="1457.4" y2="1096.1" stroke="#000" stroke-width="1.4"/>
<line x1="1461.9" y1="1090.1" x2="1461.9" y2="1096.1" stroke="#000" stroke-width="1.4"/>
<line x1="1465.7" y1="1090.1" x2="1465.7" y2="1096.1" stroke="#000" stroke-width="1.4"/>
<line x1="1468.8" y1="1090.1" x2="1468.8" y2="1096.1" stroke="#000" stroke-width="1.4"/>
<line x1="1471.6" y1="1090.1" x2="1471.6" y2="1096.1" stroke="#000" stroke-width="1.4"/>
<line x1="1474.0" y1="1090.1" x2="1474.0" y2="1096.1" stroke="#000" stroke-width="1.4"/>
<line x1="1474.5" y1="1090.1" x2="1474.5" y2="1102.1" stroke="#000" stroke-width="1.5"/>
<line x1="1488.7" y1="1090.1" x2="1488.7" y2="1096.1" stroke="#000" stroke-width="1.4"/>
<line x1="1497.1" y1="1090.1" x2="1497.1" y2="1096.1" stroke="#000" stroke-width="1.4"/>
<line x1="1503.0" y1="1090.1" x2="1503.0" y2="1096.1" stroke="#000" stroke-width="1.4"/>
<line x1="1507.5" y1="1090.1" x2="1507.5" y2="1096.1" stroke="#000" stroke-width="1.4"/>
<line x1="1511.3" y1="1090.1" x2="1511.3" y2="1096.1" stroke="#000" stroke-width="1.4"/>
<line x1="1514.4" y1="1090.1" x2="1514.4" y2="1096.1" stroke="#000" stroke-width="1.4"/>
<line x1="1517.2" y1="1090.1" x2="1517.2" y2="1096.1" stroke="#000" stroke-width="1.4"/>
<line x1="1519.6" y1="1090.1" x2="1519.6" y2="1096.1" stroke="#000" stroke-width="1.4"/>
<line x1="1521.3" y1="1090.1" x2="1521.3" y2="1102.1" stroke="#000" stroke-width="1.5"/>
<line x1="1540.9" y1="1090.1" x2="1540.9" y2="1096.1" stroke="#000" stroke-width="1.4"/>
<line x1="1333.6" y1="1090.1" x2="1333.6" y2="1096.1" stroke="#000" stroke-width="1.3"/>
<line x1="1334.1" y1="1090.1" x2="1334.1" y2="1096.1" stroke="#000" stroke-width="1.3"/>
<line x1="1334.6" y1="1090.1" x2="1334.6" y2="1096.1" stroke="#000" stroke-width="1.3"/>
<line x1="1335.1" y1="1090.1" x2="1335.1" y2="1096.1" stroke="#000" stroke-width="1.3"/>
<line x1="1345.1" y1="1090.1" x2="1345.1" y2="1096.1" stroke="#000" stroke-width="1.3"/>
<line x1="1349.0" y1="1090.1" x2="1349.0" y2="1096.1" stroke="#000" stroke-width="1.3"/>
<line x1="1352.9" y1="1090.1" x2="1352.9" y2="1096.1" stroke="#000" stroke-width="1.3"/>
<line x1="1356.9" y1="1090.1" x2="1356.9" y2="1096.1" stroke="#000" stroke-width="1.3"/>
<line x1="1360.8" y1="1090.1" x2="1360.8" y2="1096.1" stroke="#000" stroke-width="1.3"/>
<line x1="1364.7" y1="1090.1" x2="1364.7" y2="1096.1" stroke="#000" stroke-width="1.3"/>
<line x1="1368.7" y1="1090.1" x2="1368.7" y2="1096.1" stroke="#000" stroke-width="1.3"/>
<line x1="1372.6" y1="1090.1" x2="1372.6" y2="1096.1" stroke="#000" stroke-width="1.3"/>
<line x1="1376.5" y1="1090.1" x2="1376.5" y2="1096.1" stroke="#000" stroke-width="1.3"/>
<line x1="1337.6" y1="1090.1" x2="1337.6" y2="1102.1" stroke="#000" stroke-width="0.9"/>
<line x1="1339.6" y1="1090.1" x2="1339.6" y2="1102.1" stroke="#000" stroke-width="0.9"/>
<line x1="1341.6" y1="1090.1" x2="1341.6" y2="1102.1" stroke="#000" stroke-width="0.9"/>
<line x1="1343.6" y1="1090.1" x2="1343.6" y2="1102.1" stroke="#000" stroke-width="0.9"/>
<line x1="1332.9" y1="1090.1" x2="1332.9" y2="1102.1" stroke="#000" stroke-width="1.4"/>
<text transform="translate(1316.9,891.9) rotate(-90)" font-size="12" text-anchor="middle" y="4.3">250</text>
<text transform="translate(1316.9,932.9) rotate(-90)" font-size="12" text-anchor="middle" y="4.3">200</text>
<text transform="translate(1316.9,972.6) rotate(-90)" font-size="12" text-anchor="middle" y="4.3">150</text>
<text transform="translate(1316.9,1011.2) rotate(-90)" font-size="12" text-anchor="middle" y="4.3">100</text>
<text transform="translate(1316.9,1051.0) rotate(-90)" font-size="12" text-anchor="middle" y="4.3">50</text>
<text x="1339.1" y="1114.2" font-size="12.5" text-anchor="middle">0</text>
<text x="1382.1" y="1114.2" font-size="12.5" text-anchor="end">10</text><text x="1382.5" y="1108.7" font-size="9">2</text>
<text x="1431.5" y="1114.2" font-size="12.5" text-anchor="end">10</text><text x="1431.9" y="1108.7" font-size="9">3</text>
<text x="1477.1" y="1114.2" font-size="12.5" text-anchor="end">10</text><text x="1477.5" y="1108.7" font-size="9">4</text>
<text x="1523.9" y="1114.2" font-size="12.5" text-anchor="end">10</text><text x="1524.3" y="1108.7" font-size="9">5</text>
<text x="1431.6" y="876.2" font-size="17.5" font-weight="bold" text-anchor="middle">T cells-AZA</text>
<polygon points="1469.0,936.4 1541.5,934.7 1522.1,1083.8 1428.5,1087.3" fill="none" stroke="#000" stroke-width="1.4"/>
<text x="1497.1" y="933.3" font-size="11" font-weight="bold" text-anchor="start">6.9%</text>
<path d="M1155.5,615.8L1156.9,614.8L1158.8,613.9L1160.8,613.2L1163.1,612.6L1165.4,612.2L1167.7,612.1L1170.1,612.2L1172.8,612.5L1175.5,613.0L1178.1,613.7L1180.4,614.6L1182.2,615.8L1183.5,617.2L1184.4,618.9L1185.0,620.8L1185.4,622.9L1185.7,625.3L1185.9,627.9L1186.0,630.9L1185.9,634.2L1185.6,637.8L1185.3,641.5L1185.0,645.1L1184.7,648.5L1184.5,651.7L1184.3,654.7L1184.1,657.7L1183.9,660.7L1183.7,663.7L1183.4,666.7L1183.1,669.8L1182.7,673.0L1182.3,676.2L1181.9,679.4L1181.5,682.3L1181.0,685.0L1180.5,687.4L1179.9,689.5L1179.4,691.4L1178.7,693.3L1178.1,695.2L1177.4,697.1L1176.7,699.1L1176.0,701.2L1175.3,703.3L1174.5,705.3L1173.6,707.3L1172.5,709.2L1171.2,711.0L1169.7,712.8L1168.1,714.5L1166.4,716.1L1164.6,717.6L1162.8,718.9L1161.0,720.0L1159.2,721.0L1157.3,721.8L1155.3,722.5L1153.1,723.2L1150.7,723.8L1148.0,724.4L1145.0,724.9L1141.8,725.4L1138.5,725.8L1135.4,726.0L1132.5,726.2L1129.7,726.3L1127.0,726.5L1124.3,726.6L1121.8,726.4L1119.7,725.9L1117.9,725.0L1116.6,723.5L1115.7,721.4L1115.0,719.0L1114.6,716.5L1114.4,714.0L1114.3,711.7L1114.3,709.6L1114.5,707.5L1114.8,705.5L1115.3,703.5L1115.9,701.5L1116.7,699.5L1117.6,697.6L1118.6,695.7L1119.7,693.9L1121.0,692.0L1122.4,689.8L1124.0,687.4L1125.8,684.5L1127.9,681.3L1130.0,677.9L1132.2,674.5L1134.3,671.1L1136.1,668.0L1137.6,665.2L1138.9,662.5L1140.1,659.9L1141.2,657.3L1142.3,654.8L1143.4,652.2L1144.5,649.5L1145.6,646.8L1146.7,644.1L1147.7,641.4L1148.6,638.8L1149.5,636.4L1150.3,634.1L1150.9,632.0L1151.5,629.9L1152.1,627.9L1152.6,626.1L1153.1,624.3L1153.5,622.6L1153.6,621.0L1153.8,619.5L1154.0,618.1L1154.5,616.9Z" fill="#000"/>
<path d="M1120 596.5h0m13 8h0m24 3h0m3 0h0m1 0h0m-2 1h0m9 0h0m-21 1h0m22 0h0m2 0h0m-14 1h0m6 0h0m6 0h0m1 0h0m1 0h0m1 0h0m3 0h0m2 0h0m2 0h0m-29 1h0m3 0h0m2 0h0m1 0h0m1 0h0m2 0h0m3 0h0m1 0h0m1 0h0m3 0h0m3 0h0m3 0h0m1 0h0m1 0h0m3 0h0m2 0h0m3 0h0m1 0h0m-31 1h0m4 0h0m2 0h0m1 0h0m1 0h0m1 0h0m1 0h0m1 0h0m2 0h0m1 0h0m2 0h0m1 0h0m3 0h0m1 0h0m1 0h0m2 0h0m1 0h0m2 0h0m3 0h0m-39 1h0m10 0h0m3 0h0m2 0h0m1 0h0m2 0h0m13 0h0m1 0h0m1 0h0m1 0h0m5 0h0m-36 1h0m5 0h0m2 0h0m1 0h0m2 0h0m1 0h0m23 0h0m1 0h0m2 0h0m1 0h0m1 0h0m4 0h0m-50 1h0m7 0h0m6 0h0m28 0h0m2 0h0m3 0h0m-47 1h0m43 0h0m2 0h0m3 0h0m-35 1h0m1 0h0m31 0h0m1 0h0m1 0h0m-40 1h0m1 0h0m3 0h0m1 0h0m1 0h0m2 0h0m32 0h0m5 0h0m-56 1h0m11 0h0m1 0h0m7 0h0m32 0h0m1 0h0m1 0h0m2 0h0m-52 1h0m2 0h0m5 0h0m1 0h0m2 0h0m2 0h0m3 0h0m33 0h0m1 0h0m-42 1h0m42 0h0m3 0h0m1 0h0m-53 1h0m5 0h0m1 0h0m2 0h0m3 0h0m2 0h0m1 0h0m1 0h0m34 0h0m1 0h0m1 0h0m-49 1h0m3 0h0m4 0h0m3 0h0m1 0h0m1 0h0m34 0h0m2 0h0m1 0h0m2 0h0m-68 1h0m15 0h0m13 0h0m36 0h0m1 0h0m1 0h0m1 0h0m2 0h0m-44 1h0m1 0h0m1 0h0m36 0h0m2 0h0m6 0h0m-67 1h0m14 0h0m3 0h0m2 0h0m1 0h0m3 0h0m1 0h0m37 0h0m-65 1h0m19 0h0m3 0h0m1 0h0m1 0h0m1 0h0m1 0h0m1 0h0m1 0h0m1 0h0m35 0h0m2 0h0m-75 1h0m37 0h0m36 0h0m5 0h0m16 0h0m-68 1h0m6 0h0m3 0h0m37 0h0m1 0h0m5 0h0m-63 1h0m17 0h0m5 0h0m35 0h0m1 0h0m1 0h0m1 0h0m1 0h0m4 0h0m-54 1h0m3 0h0m2 0h0m4 0h0m37 0h0m1 0h0m2 0h0m-79 1h0m28 0h0m8 0h0m1 0h0m3 0h0m37 0h0m1 0h0m2 0h0m2 0h0m1 0h0m-68 1h0m13 0h0m2 0h0m5 0h0m4 0h0m37 0h0m3 0h0m4 0h0m-52 1h0m1 0h0m6 0h0m38 0h0m1 0h0m3 0h0m4 0h0m2 0h0m-62 1h0m3 0h0m9 0h0m4 0h0m37 0h0m1 0h0m1 0h0m-60 1h0m3 0h0m3 0h0m4 0h0m1 0h0m4 0h0m3 0h0m2 0h0m37 0h0m2 0h0m1 0h0m-50 1h0m4 0h0m2 0h0m3 0h0m38 0h0m2 0h0m2 0h0m1 0h0m-51 1h0m1 0h0m1 0h0m2 0h0m1 0h0m3 0h0m38 0h0m1 0h0m1 0h0m2 0h0m4 0h0m1 0h0m-62 1h0m6 0h0m2 0h0m7 0h0m38 0h0m1 0h0m4 0h0m-50 1h0m2 0h0m2 0h0m1 0h0m1 0h0m39 0h0m2 0h0m2 0h0m-60 1h0m1 0h0m16 0h0m38 0h0m1 0h0m1 0h0m2 0h0m7 0h0m13 0h0m-88 1h0m14 0h0m3 0h0m1 0h0m1 0h0m5 0h0m41 0h0m1 0h0m2 0h0m1 0h0m11 0h0m-97 1h0m28 0h0m4 0h0m3 0h0m1 0h0m4 0h0m1 0h0m41 0h0m1 0h0m2 0h0m6 0h0m-71 1h0m14 0h0m2 0h0m2 0h0m1 0h0m2 0h0m43 0h0m1 0h0m-52 1h0m2 0h0m1 0h0m2 0h0m2 0h0m1 0h0m41 0h0m1 0h0m3 0h0m29 0h0m-85 1h0m2 0h0m2 0h0m3 0h0m2 0h0m1 0h0m1 0h0m1 0h0m40 0h0m2 0h0m1 0h0m1 0h0m1 0h0m-97 1h0m34 0h0m2 0h0m6 0h0m1 0h0m1 0h0m5 0h0m1 0h0m1 0h0m41 0h0m1 0h0m1 0h0m1 0h0m-54 1h0m4 0h0m1 0h0m1 0h0m1 0h0m3 0h0m43 0h0m1 0h0m3 0h0m-61 1h0m1 0h0m1 0h0m2 0h0m3 0h0m1 0h0m2 0h0m3 0h0m41 0h0m2 0h0m2 0h0m2 0h0m1 0h0m-59 1h0m9 0h0m2 0h0m45 0h0m1 0h0m-89 1h0m34 0h0m3 0h0m2 0h0m45 0h0m1 0h0m1 0h0m3 0h0m-56 1h0m1 0h0m2 0h0m5 0h0m44 0h0m2 0h0m1 0h0m3 0h0m7 0h0m3 0h0m-76 1h0m8 0h0m3 0h0m3 0h0m45 0h0m1 0h0m1 0h0m1 0h0m23 0h0m3 0h0m-98 1h0m10 0h0m14 0h0m45 0h0m1 0h0m2 0h0m-56 1h0m5 0h0m2 0h0m1 0h0m1 0h0m1 0h0m43 0h0m5 0h0m1 0h0m35 0h0m-104 1h0m9 0h0m5 0h0m4 0h0m1 0h0m1 0h0m43 0h0m2 0h0m2 0h0m1 0h0m25 0h0m-78 1h0m2 0h0m46 0h0m2 0h0m2 0h0m1 0h0m3 0h0m2 0h0m-78 1h0m10 0h0m4 0h0m6 0h0m1 0h0m47 0h0m1 0h0m2 0h0m1 0h0m2 0h0m20 0h0m-78 1h0m2 0h0m4 0h0m46 0h0m4 0h0m22 0h0m13 0h0m-92 1h0m1 0h0m1 0h0m3 0h0m1 0h0m46 0h0m1 0h0m24 0h0m-80 1h0m4 0h0m5 0h0m1 0h0m46 0h0m2 0h0m10 0h0m5 0h0m12 0h0m-103 1h0m11 0h0m4 0h0m7 0h0m1 0h0m1 0h0m1 0h0m1 0h0m47 0h0m1 0h0m1 0h0m4 0h0m1 0h0m1 0h0m1 0h0m16 0h0m4 0h0m-85 1h0m1 0h0m2 0h0m1 0h0m1 0h0m1 0h0m3 0h0m47 0h0m1 0h0m1 0h0m1 0h0m3 0h0m21 0h0m10 0h0m-94 1h0m2 0h0m4 0h0m2 0h0m2 0h0m47 0h0m1 0h0m5 0h0m4 0h0m6 0h0m6 0h0m7 0h0m7 0h0m-94 1h0m5 0h0m3 0h0m50 0h0m2 0h0m1 0h0m1 0h0m3 0h0m1 0h0m-60 1h0m3 0h0m1 0h0m1 0h0m47 0h0m2 0h0m1 0h0m2 0h0m6 0h0m8 0h0m10 0h0m-91 1h0m4 0h0m5 0h0m1 0h0m3 0h0m1 0h0m50 0h0m1 0h0m1 0h0m1 0h0m18 0h0m3 0h0m2 0h0m-87 1h0m4 0h0m4 0h0m51 0h0m2 0h0m38 0h0m-106 1h0m9 0h0m3 0h0m3 0h0m50 0h0m3 0h0m1 0h0m1 0h0m2 0h0m14 0h0m4 0h0m1 0h0m-86 1h0m4 0h0m1 0h0m3 0h0m1 0h0m3 0h0m49 0h0m1 0h0m1 0h0m1 0h0m1 0h0m2 0h0m1 0h0m17 0h0m4 0h0m-86 1h0m1 0h0m3 0h0m2 0h0m1 0h0m52 0h0m1 0h0m9 0h0m8 0h0m9 0h0m4 0h0m-98 1h0m12 0h0m53 0h0m1 0h0m3 0h0m2 0h0m3 0h0m12 0h0m7 0h0m2 0h0m1 0h0m-93 1h0m3 0h0m1 0h0m1 0h0m2 0h0m2 0h0m53 0h0m5 0h0m4 0h0m-75 1h0m8 0h0m3 0h0m2 0h0m56 0h0m1 0h0m1 0h0m1 0h0m3 0h0m1 0h0m12 0h0m-88 1h0m3 0h0m1 0h0m3 0h0m2 0h0m1 0h0m2 0h0m1 0h0m53 0h0m2 0h0m3 0h0m1 0h0m16 0h0m4 0h0m27 0h0m-118 1h0m2 0h0m2 0h0m1 0h0m5 0h0m1 0h0m1 0h0m53 0h0m3 0h0m4 0h0m8 0h0m6 0h0m6 0h0m8 0h0m8 0h0m-104 1h0m7 0h0m1 0h0m53 0h0m12 0h0m9 0h0m29 0h0m-114 1h0m5 0h0m2 0h0m2 0h0m1 0h0m53 0h0m1 0h0m1 0h0m2 0h0m4 0h0m11 0h0m1 0h0m2 0h0m-85 1h0m8 0h0m57 0h0m1 0h0m1 0h0m1 0h0m2 0h0m1 0h0m1 0h0m5 0h0m5 0h0m-85 1h0m2 0h0m6 0h0m1 0h0m2 0h0m1 0h0m57 0h0m15 0h0m-94 1h0m9 0h0m5 0h0m2 0h0m2 0h0m2 0h0m1 0h0m1 0h0m54 0h0m4 0h0m2 0h0m2 0h0m6 0h0m1 0h0m10 0h0m7 0h0m3 0h0m-97 1h0m3 0h0m2 0h0m1 0h0m56 0h0m1 0h0m2 0h0m2 0h0m1 0h0m1 0h0m4 0h0m3 0h0m18 0h0m6 0h0m-100 1h0m3 0h0m1 0h0m2 0h0m56 0h0m3 0h0m6 0h0m23 0h0m7 0h0m1 0h0m-118 1h0m14 0h0m1 0h0m2 0h0m1 0h0m3 0h0m1 0h0m58 0h0m15 0h0m3 0h0m1 0h0m1 0h0m2 0h0m-89 1h0m2 0h0m3 0h0m1 0h0m58 0h0m1 0h0m2 0h0m1 0h0m19 0h0m-92 1h0m6 0h0m3 0h0m1 0h0m2 0h0m58 0h0m2 0h0m2 0h0m14 0h0m4 0h0m-102 1h0m7 0h0m10 0h0m2 0h0m2 0h0m59 0h0m1 0h0m1 0h0m1 0h0m5 0h0m7 0h0m8 0h0m11 0h0m-115 1h0m16 0h0m1 0h0m3 0h0m2 0h0m59 0h0m1 0h0m2 0h0m1 0h0m3 0h0m32 0h0m-117 1h0m9 0h0m1 0h0m1 0h0m4 0h0m1 0h0m1 0h0m1 0h0m58 0h0m1 0h0m2 0h0m1 0h0m1 0h0m23 0h0m3 0h0m11 0h0m-107 1h0m4 0h0m4 0h0m57 0h0m3 0h0m1 0h0m11 0h0m15 0h0m8 0h0m2 0h0m-118 1h0m12 0h0m2 0h0m1 0h0m2 0h0m61 0h0m1 0h0m1 0h0m1 0h0m15 0h0m7 0h0m10 0h0m13 0h0m-109 1h0m1 0h0m60 0h0m1 0h0m1 0h0m20 0h0m13 0h0m-116 1h0m12 0h0m4 0h0m2 0h0m2 0h0m62 0h0m2 0h0m23 0h0m11 0h0m-117 1h0m11 0h0m7 0h0m1 0h0m1 0h0m59 0h0m3 0h0m1 0h0m25 0h0m9 0h0m-114 1h0m7 0h0m3 0h0m1 0h0m3 0h0m63 0h0m1 0h0m1 0h0m24 0h0m-102 1h0m4 0h0m1 0h0m1 0h0m2 0h0m6 0h0m60 0h0m1 0h0m4 0h0m2 0h0m18 0h0m1 0h0m5 0h0m-100 1h0m5 0h0m2 0h0m62 0h0m1 0h0m2 0h0m2 0h0m12 0h0m2 0h0m17 0h0m-107 1h0m3 0h0m3 0h0m1 0h0m3 0h0m62 0h0m1 0h0m1 0h0m4 0h0m11 0h0m14 0h0m6 0h0m11 0h0m-132 1h0m6 0h0m10 0h0m5 0h0m62 0h0m1 0h0m-80 1h0m7 0h0m3 0h0m3 0h0m2 0h0m63 0h0m1 0h0m2 0h0m9 0h0m23 0h0m4 0h0m-101 1h0m61 0h0m1 0h0m4 0h0m7 0h0m27 0h0m-110 1h0m7 0h0m1 0h0m1 0h0m63 0h0m1 0h0m-72 1h0m1 0h0m2 0h0m1 0h0m1 0h0m4 0h0m61 0h0m2 0h0m2 0h0m3 0h0m24 0h0m1 0h0m-109 1h0m2 0h0m9 0h0m4 0h0m61 0h0m1 0h0m1 0h0m1 0h0m3 0h0m1 0h0m1 0h0m-82 1h0m7 0h0m4 0h0m2 0h0m1 0h0m60 0h0m1 0h0m1 0h0m1 0h0m5 0h0m22 0h0m-113 1h0m11 0h0m2 0h0m5 0h0m1 0h0m1 0h0m2 0h0m65 0h0m31 0h0m-113 1h0m3 0h0m1 0h0m2 0h0m72 0h0m1 0h0m1 0h0m1 0h0m-77 1h0m1 0h0m3 0h0m3 0h0m1 0h0m4 0h0m1 0h0m60 0h0m1 0h0m2 0h0m1 0h0m2 0h0m-74 1h0m1 0h0m6 0h0m59 0h0m1 0h0m1 0h0m3 0h0m-74 1h0m10 0h0m59 0h0m1 0h0m33 0h0m-112 1h0m7 0h0m2 0h0m6 0h0m2 0h0m63 0h0m1 0h0m2 0h0m1 0h0m5 0h0m9 0h0m-92 1h0m5 0h0m1 0h0m4 0h0m1 0h0m3 0h0m60 0h0m30 0h0m-106 1h0m6 0h0m2 0h0m4 0h0m1 0h0m1 0h0m1 0h0m1 0h0m57 0h0m2 0h0m-75 1h0m6 0h0m6 0h0m1 0h0m2 0h0m57 0h0m1 0h0m1 0h0m1 0h0m3 0h0m1 0h0m-85 1h0m5 0h0m3 0h0m3 0h0m2 0h0m4 0h0m2 0h0m1 0h0m1 0h0m1 0h0m54 0h0m1 0h0m1 0h0m-71 1h0m4 0h0m6 0h0m1 0h0m1 0h0m3 0h0m53 0h0m4 0h0m4 0h0m1 0h0m-71 1h0m6 0h0m1 0h0m1 0h0m53 0h0m1 0h0m3 0h0m1 0h0m1 0h0m-71 1h0m1 0h0m6 0h0m2 0h0m4 0h0m54 0h0m2 0h0m23 0h0m22 0h0m-113 1h0m7 0h0m2 0h0m2 0h0m51 0h0m2 0h0m2 0h0m-65 1h0m3 0h0m2 0h0m5 0h0m47 0h0m3 0h0m2 0h0m1 0h0m3 0h0m6 0h0m-67 1h0m1 0h0m49 0h0m2 0h0m5 0h0m3 0h0m1 0h0m2 0h0m-68 1h0m6 0h0m2 0h0m1 0h0m2 0h0m42 0h0m3 0h0m1 0h0m1 0h0m3 0h0m2 0h0m1 0h0m-59 1h0m3 0h0m2 0h0m3 0h0m38 0h0m1 0h0m2 0h0m1 0h0m1 0h0m4 0h0m3 0h0m2 0h0m-58 1h0m5 0h0m2 0h0m32 0h0m2 0h0m1 0h0m1 0h0m1 0h0m1 0h0m2 0h0m1 0h0m2 0h0m3 0h0m-54 1h0m2 0h0m7 0h0m25 0h0m1 0h0m1 0h0m1 0h0m2 0h0m1 0h0m1 0h0m1 0h0m1 0h0m1 0h0m1 0h0m1 0h0m1 0h0m1 0h0m2 0h0m4 0h0m-68 1h0m3 0h0m16 0h0m4 0h0m1 0h0m1 0h0m13 0h0m1 0h0m2 0h0m1 0h0m1 0h0m1 0h0m3 0h0m1 0h0m1 0h0m1 0h0m1 0h0m1 0h0m1 0h0m3 0h0m2 0h0m1 0h0m1 0h0m-54 1h0m2 0h0m3 0h0m11 0h0m3 0h0m2 0h0m1 0h0m1 0h0m1 0h0m1 0h0m1 0h0m2 0h0m1 0h0m1 0h0m1 0h0m1 0h0m3 0h0m1 0h0m2 0h0m1 0h0m3 0h0m1 0h0m1 0h0m4 0h0m7 0h0m1 0h0m1 0h0m-60 1h0m5 0h0m3 0h0m4 0h0m3 0h0m3 0h0m1 0h0m5 0h0m1 0h0m3 0h0m1 0h0m2 0h0m1 0h0m1 0h0m1 0h0m2 0h0m2 0h0m1 0h0m1 0h0m2 0h0m4 0h0m3 0h0m2 0h0m1 0h0m2 0h0m1 0h0m5 0h0m-46 1h0m4 0h0m2 0h0m2 0h0m1 0h0m2 0h0m2 0h0m1 0h0m1 0h0m2 0h0m3 0h0m2 0h0m1 0h0m10 0h0m10 0h0m-61 1h0m23 0h0m4 0h0m2 0h0m1 0h0m1 0h0m1 0h0m2 0h0m2 0h0m5 0h0m3 0h0m2 0h0m5 0h0m2 0h0m-53 1h0m11 0h0m8 0h0m7 0h0m3 0h0m5 0h0m3 0h0m1 0h0m6 0h0m1 0h0m3 0h0m-30 1h0m3 0h0m3 0h0m7 0h0m15 0h0m1 0h0m7 0h0m-22 1h0m16 0h0m6 0h0m-43 1h0m2 0h0m8 0h0m3 0h0m15 0h0m-23 3h0m9 2h0" stroke="#000" stroke-width="1.5" stroke-linecap="square" fill="none"/>
<path d="M1433.6,612.2L1434.4,612.1L1435.2,612.4L1436.0,613.0L1436.9,613.9L1437.8,615.4L1438.6,617.2L1439.4,619.6L1440.2,622.6L1441.0,626.1L1441.7,629.8L1442.4,633.5L1442.9,637.2L1443.4,640.9L1443.8,644.8L1444.1,648.8L1444.3,652.8L1444.4,656.6L1444.4,660.1L1444.2,663.3L1443.9,666.2L1443.4,669.0L1442.8,671.7L1442.2,674.4L1441.5,677.2L1440.7,680.1L1439.9,683.0L1438.9,686.0L1437.9,688.9L1436.9,691.7L1435.8,694.4L1434.7,697.0L1433.6,699.5L1432.5,702.0L1431.3,704.4L1430.0,706.6L1428.6,708.7L1427.1,710.6L1425.6,712.5L1424.0,714.2L1422.4,715.7L1420.5,717.3L1418.6,718.7L1416.5,720.1L1414.4,721.5L1412.1,722.8L1409.6,724.0L1407.1,725.0L1404.3,725.8L1401.1,726.4L1397.5,726.9L1393.8,727.2L1390.1,727.2L1386.9,727.0L1384.3,726.5L1382.4,725.6L1381.0,724.3L1379.9,722.8L1379.2,721.0L1378.8,719.2L1378.6,717.2L1378.7,715.1L1379.1,712.8L1379.8,710.4L1380.7,707.9L1381.7,705.3L1382.9,702.9L1384.2,700.5L1385.8,698.2L1387.5,695.9L1389.3,693.6L1391.1,691.1L1392.9,688.6L1394.7,685.9L1396.6,683.2L1398.5,680.4L1400.4,677.5L1402.4,674.6L1404.3,671.5L1406.2,668.3L1408.2,664.9L1410.2,661.5L1412.2,658.1L1414.0,654.7L1415.8,651.5L1417.4,648.4L1419.0,645.5L1420.5,642.5L1421.9,639.7L1423.2,637.0L1424.4,634.3L1425.5,631.7L1426.6,629.1L1427.6,626.6L1428.5,624.2L1429.3,622.0L1430.1,620.0L1430.8,618.2L1431.4,616.4L1431.9,614.9L1432.4,613.6L1433.0,612.7Z" fill="#000"/>
<path d="M1469 573.5h0m7 15h0m3 1h0m13 6h0m7 2h0m-29 2h0m-18 2h0m-2 1h0m41 1h0m-29 1h0m7 0h0m-7 1h0m9 0h0m-8 1h0m-21 1h0m-6 1h0m55 0h0m-106 1h0m32 0h0m17 0h0m11 0h0m46 0h0m-64 1h0m7 0h0m6 0h0m1 0h0m3 0h0m-19 1h0m9 0h0m2 0h0m2 0h0m21 0h0m-41 1h0m13 0h0m3 0h0m1 0h0m1 0h0m2 0h0m3 0h0m35 0h0m10 0h0m-74 1h0m8 0h0m6 0h0m2 0h0m1 0h0m7 0h0m7 0h0m13 0h0m-32 1h0m6 0h0m7 0h0m1 0h0m1 0h0m1 0h0m3 0h0m-24 1h0m3 0h0m6 0h0m10 0h0m2 0h0m1 0h0m4 0h0m-35 1h0m5 0h0m2 0h0m5 0h0m1 0h0m2 0h0m1 0h0m2 0h0m11 0h0m3 0h0m2 0h0m31 0h0m-54 1h0m8 0h0m10 0h0m2 0h0m1 0h0m1 0h0m1 0h0m43 0h0m-65 1h0m6 0h0m12 0h0m1 0h0m1 0h0m14 0h0m2 0h0m30 0h0m-79 1h0m17 0h0m1 0h0m1 0h0m12 0h0m1 0h0m1 0h0m1 0h0m6 0h0m36 0h0m-66 1h0m3 0h0m1 0h0m5 0h0m1 0h0m11 0h0m1 0h0m1 0h0m2 0h0m5 0h0m37 0h0m-74 1h0m9 0h0m1 0h0m4 0h0m2 0h0m1 0h0m12 0h0m1 0h0m1 0h0m1 0h0m1 0h0m1 0h0m10 0h0m18 0h0m-61 1h0m3 0h0m1 0h0m11 0h0m14 0h0m4 0h0m47 0h0m9 0h0m-116 1h0m33 0h0m2 0h0m3 0h0m4 0h0m13 0h0m2 0h0m1 0h0m3 0h0m5 0h0m5 0h0m27 0h0m-66 1h0m1 0h0m5 0h0m4 0h0m14 0h0m1 0h0m6 0h0m9 0h0m3 0h0m17 0h0m-77 1h0m18 0h0m22 0h0m1 0h0m1 0h0m2 0h0m3 0h0m45 0h0m13 0h0m-95 1h0m5 0h0m10 0h0m16 0h0m2 0h0m9 0h0m22 0h0m-88 1h0m17 0h0m10 0h0m6 0h0m3 0h0m2 0h0m18 0h0m6 0h0m26 0h0m7 0h0m-72 1h0m8 0h0m4 0h0m20 0h0m2 0h0m6 0h0m18 0h0m7 0h0m1 0h0m-55 1h0m5 0h0m16 0h0m3 0h0m1 0h0m2 0h0m5 0h0m1 0h0m8 0h0m4 0h0m11 0h0m20 0h0m-76 1h0m1 0h0m22 0h0m2 0h0m1 0h0m3 0h0m1 0h0m14 0h0m21 0h0m-75 1h0m7 0h0m3 0h0m5 0h0m16 0h0m1 0h0m3 0h0m1 0h0m2 0h0m3 0h0m7 0h0m1 0h0m6 0h0m2 0h0m7 0h0m2 0h0m14 0h0m-80 1h0m6 0h0m2 0h0m24 0h0m3 0h0m1 0h0m3 0h0m8 0h0m4 0h0m7 0h0m15 0h0m-103 1h0m28 0h0m3 0h0m4 0h0m1 0h0m2 0h0m5 0h0m23 0h0m1 0h0m11 0h0m5 0h0m1 0h0m13 0h0m-67 1h0m6 0h0m1 0h0m4 0h0m23 0h0m1 0h0m1 0h0m2 0h0m4 0h0m2 0h0m25 0h0m20 0h0m-88 1h0m3 0h0m3 0h0m2 0h0m24 0h0m1 0h0m1 0h0m4 0h0m23 0h0m12 0h0m-82 1h0m5 0h0m10 0h0m31 0h0m5 0h0m6 0h0m2 0h0m16 0h0m6 0h0m-76 1h0m4 0h0m3 0h0m1 0h0m2 0h0m25 0h0m1 0h0m19 0h0m12 0h0m7 0h0m-59 1h0m20 0h0m2 0h0m1 0h0m1 0h0m10 0h0m2 0h0m29 0h0m-70 1h0m1 0h0m1 0h0m1 0h0m31 0h0m8 0h0m4 0h0m1 0h0m2 0h0m26 0h0m-91 1h0m17 0h0m1 0h0m24 0h0m1 0h0m1 0h0m2 0h0m1 0h0m3 0h0m3 0h0m2 0h0m7 0h0m5 0h0m1 0h0m11 0h0m7 0h0m11 0h0m-105 1h0m2 0h0m10 0h0m39 0h0m4 0h0m1 0h0m4 0h0m2 0h0m2 0h0m4 0h0m1 0h0m3 0h0m6 0h0m8 0h0m-89 1h0m10 0h0m13 0h0m1 0h0m29 0h0m2 0h0m1 0h0m1 0h0m2 0h0m5 0h0m7 0h0m7 0h0m27 0h0m-94 1h0m5 0h0m1 0h0m4 0h0m2 0h0m3 0h0m1 0h0m26 0h0m2 0h0m2 0h0m1 0h0m3 0h0m8 0h0m6 0h0m1 0h0m2 0h0m1 0h0m5 0h0m19 0h0m2 0h0m-109 1h0m8 0h0m10 0h0m6 0h0m3 0h0m33 0h0m1 0h0m17 0h0m8 0h0m12 0h0m17 0h0m-97 1h0m1 0h0m9 0h0m2 0h0m1 0h0m28 0h0m5 0h0m6 0h0m1 0h0m5 0h0m2 0h0m1 0h0m7 0h0m2 0h0m1 0h0m19 0h0m-91 1h0m6 0h0m4 0h0m3 0h0m1 0h0m26 0h0m2 0h0m1 0h0m8 0h0m1 0h0m5 0h0m16 0h0m-69 1h0m8 0h0m30 0h0m4 0h0m1 0h0m13 0h0m9 0h0m2 0h0m4 0h0m5 0h0m35 0h0m-130 1h0m18 0h0m2 0h0m3 0h0m1 0h0m1 0h0m3 0h0m28 0h0m1 0h0m1 0h0m3 0h0m1 0h0m10 0h0m2 0h0m2 0h0m2 0h0m6 0h0m-63 1h0m2 0h0m2 0h0m32 0h0m3 0h0m1 0h0m2 0h0m2 0h0m10 0h0m3 0h0m17 0h0m13 0h0m-96 1h0m5 0h0m4 0h0m4 0h0m1 0h0m31 0h0m1 0h0m2 0h0m1 0h0m1 0h0m2 0h0m2 0h0m2 0h0m3 0h0m1 0h0m2 0h0m5 0h0m1 0h0m6 0h0m4 0h0m5 0h0m-80 1h0m4 0h0m3 0h0m2 0h0m1 0h0m1 0h0m30 0h0m1 0h0m2 0h0m1 0h0m5 0h0m1 0h0m1 0h0m6 0h0m2 0h0m1 0h0m5 0h0m1 0h0m1 0h0m1 0h0m-70 1h0m2 0h0m4 0h0m1 0h0m1 0h0m2 0h0m1 0h0m31 0h0m1 0h0m1 0h0m1 0h0m1 0h0m1 0h0m1 0h0m4 0h0m1 0h0m1 0h0m1 0h0m3 0h0m43 0h0m-100 1h0m6 0h0m1 0h0m2 0h0m32 0h0m2 0h0m4 0h0m2 0h0m4 0h0m12 0h0m1 0h0m6 0h0m10 0h0m-105 1h0m12 0h0m1 0h0m11 0h0m1 0h0m3 0h0m1 0h0m3 0h0m35 0h0m1 0h0m1 0h0m6 0h0m1 0h0m2 0h0m2 0h0m6 0h0m2 0h0m1 0h0m1 0h0m19 0h0m5 0h0m-86 1h0m3 0h0m1 0h0m32 0h0m2 0h0m1 0h0m1 0h0m1 0h0m1 0h0m1 0h0m3 0h0m2 0h0m3 0h0m1 0h0m1 0h0m1 0h0m3 0h0m1 0h0m4 0h0m3 0h0m9 0h0m-80 1h0m1 0h0m3 0h0m1 0h0m3 0h0m35 0h0m4 0h0m2 0h0m3 0h0m2 0h0m3 0h0m14 0h0m1 0h0m9 0h0m9 0h0m-90 1h0m4 0h0m4 0h0m34 0h0m2 0h0m1 0h0m5 0h0m1 0h0m3 0h0m5 0h0m4 0h0m4 0h0m17 0h0m9 0h0m8 0h0m8 0h0m-113 1h0m4 0h0m2 0h0m7 0h0m35 0h0m3 0h0m2 0h0m8 0h0m4 0h0m3 0h0m8 0h0m4 0h0m8 0h0m5 0h0m21 0h0m-115 1h0m10 0h0m38 0h0m1 0h0m3 0h0m2 0h0m2 0h0m7 0h0m9 0h0m5 0h0m1 0h0m3 0h0m2 0h0m-103 1h0m22 0h0m4 0h0m2 0h0m40 0h0m1 0h0m8 0h0m1 0h0m1 0h0m4 0h0m6 0h0m29 0h0m-99 1h0m6 0h0m2 0h0m2 0h0m3 0h0m36 0h0m2 0h0m2 0h0m1 0h0m4 0h0m1 0h0m4 0h0m1 0h0m3 0h0m2 0h0m6 0h0m11 0h0m-83 1h0m9 0h0m1 0h0m38 0h0m1 0h0m4 0h0m2 0h0m3 0h0m5 0h0m9 0h0m4 0h0m16 0h0m14 0h0m-101 1h0m41 0h0m1 0h0m6 0h0m3 0h0m4 0h0m5 0h0m1 0h0m1 0h0m1 0h0m3 0h0m1 0h0m2 0h0m3 0h0m-87 1h0m11 0h0m2 0h0m41 0h0m1 0h0m2 0h0m1 0h0m1 0h0m2 0h0m2 0h0m2 0h0m4 0h0m4 0h0m6 0h0m4 0h0m35 0h0m10 0h0m-128 1h0m2 0h0m8 0h0m3 0h0m1 0h0m1 0h0m2 0h0m37 0h0m2 0h0m3 0h0m1 0h0m2 0h0m1 0h0m4 0h0m6 0h0m3 0h0m1 0h0m1 0h0m17 0h0m-88 1h0m1 0h0m5 0h0m3 0h0m1 0h0m38 0h0m1 0h0m1 0h0m1 0h0m2 0h0m1 0h0m5 0h0m4 0h0m7 0h0m2 0h0m15 0h0m-82 1h0m5 0h0m38 0h0m1 0h0m2 0h0m2 0h0m2 0h0m2 0h0m1 0h0m1 0h0m3 0h0m4 0h0m5 0h0m1 0h0m3 0h0m7 0h0m3 0h0m7 0h0m7 0h0m14 0h0m-114 1h0m3 0h0m2 0h0m4 0h0m39 0h0m1 0h0m1 0h0m3 0h0m2 0h0m4 0h0m2 0h0m1 0h0m1 0h0m1 0h0m2 0h0m3 0h0m7 0h0m7 0h0m-82 1h0m1 0h0m7 0h0m40 0h0m1 0h0m2 0h0m9 0h0m1 0h0m2 0h0m1 0h0m1 0h0m10 0h0m19 0h0m-95 1h0m1 0h0m1 0h0m1 0h0m1 0h0m2 0h0m1 0h0m1 0h0m43 0h0m3 0h0m1 0h0m1 0h0m2 0h0m7 0h0m6 0h0m1 0h0m5 0h0m3 0h0m39 0h0m-125 1h0m4 0h0m3 0h0m3 0h0m3 0h0m43 0h0m1 0h0m1 0h0m1 0h0m1 0h0m3 0h0m1 0h0m1 0h0m3 0h0m1 0h0m2 0h0m3 0h0m2 0h0m7 0h0m8 0h0m12 0h0m-97 1h0m2 0h0m4 0h0m41 0h0m1 0h0m2 0h0m2 0h0m3 0h0m3 0h0m9 0h0m2 0h0m3 0h0m1 0h0m4 0h0m1 0h0m1 0h0m3 0h0m12 0h0m-105 1h0m11 0h0m2 0h0m4 0h0m41 0h0m2 0h0m3 0h0m1 0h0m1 0h0m2 0h0m1 0h0m1 0h0m3 0h0m8 0h0m1 0h0m4 0h0m6 0h0m23 0h0m2 0h0m-111 1h0m4 0h0m2 0h0m4 0h0m2 0h0m1 0h0m39 0h0m1 0h0m1 0h0m4 0h0m6 0h0m2 0h0m2 0h0m1 0h0m1 0h0m6 0h0m2 0h0m1 0h0m4 0h0m17 0h0m-100 1h0m6 0h0m2 0h0m3 0h0m43 0h0m1 0h0m2 0h0m1 0h0m1 0h0m1 0h0m1 0h0m1 0h0m1 0h0m1 0h0m1 0h0m1 0h0m1 0h0m2 0h0m3 0h0m1 0h0m5 0h0m2 0h0m11 0h0m17 0h0m-107 1h0m5 0h0m5 0h0m41 0h0m1 0h0m1 0h0m1 0h0m1 0h0m2 0h0m1 0h0m1 0h0m5 0h0m1 0h0m1 0h0m4 0h0m1 0h0m1 0h0m3 0h0m4 0h0m12 0h0m-90 1h0m2 0h0m1 0h0m1 0h0m3 0h0m2 0h0m42 0h0m1 0h0m1 0h0m1 0h0m1 0h0m7 0h0m1 0h0m1 0h0m1 0h0m1 0h0m4 0h0m1 0h0m3 0h0m3 0h0m1 0h0m4 0h0m3 0h0m4 0h0m-88 1h0m2 0h0m3 0h0m44 0h0m2 0h0m1 0h0m2 0h0m1 0h0m2 0h0m2 0h0m3 0h0m2 0h0m1 0h0m1 0h0m4 0h0m6 0h0m1 0h0m2 0h0m1 0h0m6 0h0m3 0h0m5 0h0m9 0h0m1 0h0m-108 1h0m4 0h0m1 0h0m4 0h0m45 0h0m1 0h0m2 0h0m2 0h0m2 0h0m4 0h0m1 0h0m4 0h0m1 0h0m1 0h0m1 0h0m7 0h0m4 0h0m1 0h0m5 0h0m2 0h0m-98 1h0m3 0h0m3 0h0m3 0h0m6 0h0m44 0h0m2 0h0m1 0h0m2 0h0m2 0h0m1 0h0m2 0h0m4 0h0m1 0h0m2 0h0m1 0h0m1 0h0m1 0h0m24 0h0m1 0h0m8 0h0m16 0h0m-120 1h0m1 0h0m1 0h0m2 0h0m1 0h0m45 0h0m1 0h0m3 0h0m5 0h0m1 0h0m1 0h0m3 0h0m4 0h0m1 0h0m2 0h0m4 0h0m1 0h0m5 0h0m3 0h0m7 0h0m19 0h0m-126 1h0m13 0h0m1 0h0m2 0h0m5 0h0m44 0h0m1 0h0m2 0h0m2 0h0m1 0h0m1 0h0m4 0h0m1 0h0m1 0h0m1 0h0m1 0h0m1 0h0m2 0h0m1 0h0m2 0h0m2 0h0m15 0h0m39 0h0m-131 1h0m5 0h0m1 0h0m1 0h0m3 0h0m44 0h0m1 0h0m1 0h0m2 0h0m1 0h0m5 0h0m1 0h0m4 0h0m8 0h0m1 0h0m1 0h0m6 0h0m1 0h0m1 0h0m22 0h0m-108 1h0m2 0h0m3 0h0m3 0h0m47 0h0m2 0h0m1 0h0m2 0h0m2 0h0m1 0h0m1 0h0m1 0h0m1 0h0m1 0h0m1 0h0m1 0h0m5 0h0m4 0h0m1 0h0m2 0h0m2 0h0m1 0h0m3 0h0m6 0h0m7 0h0m11 0h0m5 0h0m7 0h0m-129 1h0m58 0h0m1 0h0m1 0h0m2 0h0m1 0h0m2 0h0m1 0h0m1 0h0m1 0h0m1 0h0m1 0h0m1 0h0m1 0h0m4 0h0m1 0h0m2 0h0m4 0h0m4 0h0m1 0h0m1 0h0m2 0h0m3 0h0m15 0h0m-103 1h0m2 0h0m1 0h0m2 0h0m1 0h0m1 0h0m46 0h0m2 0h0m1 0h0m2 0h0m1 0h0m1 0h0m1 0h0m1 0h0m6 0h0m1 0h0m5 0h0m1 0h0m1 0h0m1 0h0m5 0h0m2 0h0m47 0h0m-134 1h0m7 0h0m48 0h0m1 0h0m1 0h0m1 0h0m2 0h0m2 0h0m2 0h0m1 0h0m1 0h0m1 0h0m2 0h0m2 0h0m2 0h0m6 0h0m4 0h0m6 0h0m5 0h0m-86 1h0m46 0h0m1 0h0m3 0h0m1 0h0m3 0h0m1 0h0m1 0h0m1 0h0m4 0h0m1 0h0m1 0h0m1 0h0m2 0h0m1 0h0m1 0h0m1 0h0m2 0h0m1 0h0m1 0h0m3 0h0m1 0h0m2 0h0m1 0h0m1 0h0m3 0h0m1 0h0m1 0h0m1 0h0m-104 1h0m1 0h0m6 0h0m4 0h0m2 0h0m1 0h0m3 0h0m1 0h0m46 0h0m4 0h0m1 0h0m1 0h0m2 0h0m2 0h0m1 0h0m3 0h0m2 0h0m5 0h0m4 0h0m1 0h0m1 0h0m2 0h0m4 0h0m3 0h0m2 0h0m7 0h0m2 0h0m-110 1h0m14 0h0m1 0h0m48 0h0m2 0h0m3 0h0m6 0h0m4 0h0m2 0h0m1 0h0m2 0h0m1 0h0m3 0h0m1 0h0m1 0h0m6 0h0m1 0h0m2 0h0m3 0h0m15 0h0m-108 1h0m2 0h0m2 0h0m2 0h0m48 0h0m1 0h0m1 0h0m1 0h0m1 0h0m2 0h0m1 0h0m4 0h0m4 0h0m1 0h0m4 0h0m1 0h0m3 0h0m1 0h0m1 0h0m10 0h0m1 0h0m3 0h0m6 0h0m10 0h0m3 0h0m-115 1h0m4 0h0m4 0h0m50 0h0m5 0h0m1 0h0m4 0h0m1 0h0m1 0h0m1 0h0m4 0h0m2 0h0m3 0h0m3 0h0m8 0h0m9 0h0m-99 1h0m5 0h0m49 0h0m1 0h0m1 0h0m4 0h0m7 0h0m1 0h0m1 0h0m2 0h0m1 0h0m5 0h0m6 0h0m3 0h0m3 0h0m5 0h0m10 0h0m26 0h0m-138 1h0m11 0h0m52 0h0m3 0h0m2 0h0m1 0h0m3 0h0m1 0h0m1 0h0m1 0h0m6 0h0m1 0h0m2 0h0m1 0h0m3 0h0m6 0h0m6 0h0m6 0h0m-102 1h0m5 0h0m1 0h0m1 0h0m53 0h0m10 0h0m4 0h0m1 0h0m3 0h0m3 0h0m1 0h0m1 0h0m5 0h0m17 0h0m-110 1h0m4 0h0m2 0h0m1 0h0m1 0h0m1 0h0m2 0h0m1 0h0m54 0h0m1 0h0m1 0h0m4 0h0m2 0h0m1 0h0m1 0h0m1 0h0m1 0h0m1 0h0m3 0h0m1 0h0m3 0h0m8 0h0m14 0h0m6 0h0m5 0h0m-142 1h0m19 0h0m6 0h0m4 0h0m1 0h0m1 0h0m54 0h0m10 0h0m3 0h0m2 0h0m2 0h0m1 0h0m4 0h0m1 0h0m3 0h0m5 0h0m3 0h0m1 0h0m3 0h0m7 0h0m16 0h0m1 0h0m-154 1h0m20 0h0m15 0h0m2 0h0m3 0h0m66 0h0m4 0h0m3 0h0m1 0h0m2 0h0m1 0h0m1 0h0m3 0h0m1 0h0m2 0h0m2 0h0m8 0h0m5 0h0m-133 1h0m12 0h0m75 0h0m1 0h0m1 0h0m4 0h0m2 0h0m7 0h0m1 0h0m1 0h0m2 0h0m3 0h0m1 0h0m1 0h0m1 0h0m11 0h0m12 0h0m-112 1h0m3 0h0m2 0h0m2 0h0m4 0h0m50 0h0m2 0h0m1 0h0m4 0h0m5 0h0m5 0h0m1 0h0m4 0h0m3 0h0m4 0h0m2 0h0m9 0h0m5 0h0m1 0h0m4 0h0m-126 1h0m18 0h0m2 0h0m2 0h0m3 0h0m50 0h0m1 0h0m1 0h0m1 0h0m1 0h0m2 0h0m7 0h0m1 0h0m3 0h0m2 0h0m3 0h0m1 0h0m1 0h0m2 0h0m4 0h0m1 0h0m1 0h0m2 0h0m7 0h0m-126 1h0m32 0h0m3 0h0m51 0h0m1 0h0m1 0h0m1 0h0m5 0h0m6 0h0m4 0h0m6 0h0m6 0h0m1 0h0m6 0h0m2 0h0m-136 1h0m12 0h0m13 0h0m16 0h0m1 0h0m3 0h0m53 0h0m1 0h0m1 0h0m2 0h0m2 0h0m6 0h0m1 0h0m3 0h0m7 0h0m1 0h0m6 0h0m3 0h0m17 0h0m-110 1h0m6 0h0m51 0h0m1 0h0m1 0h0m1 0h0m2 0h0m1 0h0m3 0h0m1 0h0m1 0h0m2 0h0m1 0h0m5 0h0m2 0h0m1 0h0m2 0h0m3 0h0m4 0h0m5 0h0m3 0h0m4 0h0m1 0h0m2 0h0m5 0h0m23 0h0m-148 1h0m11 0h0m1 0h0m7 0h0m1 0h0m4 0h0m49 0h0m3 0h0m4 0h0m2 0h0m11 0h0m3 0h0m4 0h0m1 0h0m2 0h0m1 0h0m26 0h0m-154 1h0m34 0h0m3 0h0m3 0h0m5 0h0m1 0h0m53 0h0m2 0h0m2 0h0m7 0h0m7 0h0m3 0h0m7 0h0m1 0h0m1 0h0m1 0h0m9 0h0m2 0h0m2 0h0m-128 1h0m7 0h0m6 0h0m6 0h0m4 0h0m3 0h0m4 0h0m51 0h0m1 0h0m3 0h0m14 0h0m4 0h0m2 0h0m7 0h0m1 0h0m2 0h0m22 0h0m-113 1h0m1 0h0m1 0h0m2 0h0m1 0h0m1 0h0m1 0h0m50 0h0m1 0h0m1 0h0m4 0h0m7 0h0m2 0h0m2 0h0m5 0h0m4 0h0m5 0h0m2 0h0m1 0h0m19 0h0m-140 1h0m25 0h0m2 0h0m1 0h0m1 0h0m1 0h0m2 0h0m2 0h0m2 0h0m56 0h0m11 0h0m4 0h0m5 0h0m5 0h0m7 0h0m2 0h0m2 0h0m2 0h0m22 0h0m5 0h0m-151 1h0m3 0h0m6 0h0m5 0h0m2 0h0m9 0h0m1 0h0m5 0h0m48 0h0m1 0h0m16 0h0m8 0h0m2 0h0m12 0h0m12 0h0m-130 1h0m4 0h0m10 0h0m12 0h0m1 0h0m1 0h0m1 0h0m51 0h0m2 0h0m1 0h0m1 0h0m8 0h0m7 0h0m6 0h0m4 0h0m5 0h0m3 0h0m22 0h0m-152 1h0m8 0h0m21 0h0m2 0h0m8 0h0m4 0h0m47 0h0m1 0h0m1 0h0m1 0h0m2 0h0m5 0h0m2 0h0m4 0h0m1 0h0m8 0h0m13 0h0m4 0h0m8 0h0m-139 1h0m9 0h0m14 0h0m2 0h0m2 0h0m3 0h0m1 0h0m5 0h0m5 0h0m49 0h0m3 0h0m1 0h0m2 0h0m11 0h0m9 0h0m2 0h0m3 0h0m1 0h0m2 0h0m4 0h0m5 0h0m1 0h0m11 0h0m4 0h0m-139 1h0m19 0h0m6 0h0m2 0h0m5 0h0m46 0h0m1 0h0m1 0h0m3 0h0m1 0h0m1 0h0m16 0h0m1 0h0m3 0h0m6 0h0m26 0h0m-144 1h0m25 0h0m5 0h0m3 0h0m2 0h0m1 0h0m48 0h0m2 0h0m2 0h0m14 0h0m10 0h0m15 0h0m1 0h0m-124 1h0m7 0h0m8 0h0m8 0h0m3 0h0m2 0h0m2 0h0m1 0h0m3 0h0m44 0h0m1 0h0m1 0h0m4 0h0m14 0h0m4 0h0m11 0h0m1 0h0m1 0h0m18 0h0m7 0h0m-143 1h0m16 0h0m8 0h0m2 0h0m2 0h0m4 0h0m3 0h0m45 0h0m2 0h0m3 0h0m8 0h0m4 0h0m5 0h0m1 0h0m4 0h0m9 0h0m2 0h0m4 0h0m1 0h0m5 0h0m18 0h0m-151 1h0m19 0h0m5 0h0m2 0h0m8 0h0m1 0h0m2 0h0m2 0h0m48 0h0m5 0h0m16 0h0m7 0h0m-116 1h0m3 0h0m4 0h0m3 0h0m1 0h0m28 0h0m2 0h0m1 0h0m1 0h0m51 0h0m17 0h0m10 0h0m5 0h0m5 0h0m1 0h0m2 0h0m-131 1h0m3 0h0m8 0h0m7 0h0m4 0h0m1 0h0m4 0h0m2 0h0m2 0h0m5 0h0m2 0h0m2 0h0m39 0h0m1 0h0m3 0h0m4 0h0m7 0h0m12 0h0m5 0h0m10 0h0m1 0h0m8 0h0m2 0h0m13 0h0m8 0h0m-148 1h0m14 0h0m4 0h0m3 0h0m1 0h0m2 0h0m6 0h0m5 0h0m40 0h0m2 0h0m32 0h0m7 0h0m1 0h0m9 0h0m-120 1h0m9 0h0m8 0h0m5 0h0m7 0h0m35 0h0m1 0h0m2 0h0m4 0h0m29 0h0m5 0h0m9 0h0m11 0h0m-132 1h0m5 0h0m3 0h0m27 0h0m1 0h0m34 0h0m3 0h0m5 0h0m23 0h0m9 0h0m16 0h0m-135 1h0m15 0h0m2 0h0m10 0h0m2 0h0m4 0h0m5 0h0m6 0h0m1 0h0m32 0h0m1 0h0m1 0h0m2 0h0m1 0h0m1 0h0m5 0h0m13 0h0m14 0h0m10 0h0m10 0h0m-130 1h0m13 0h0m13 0h0m13 0h0m1 0h0m3 0h0m27 0h0m1 0h0m2 0h0m2 0h0m6 0h0m43 0h0m2 0h0m2 0h0m1 0h0m-120 1h0m25 0h0m3 0h0m6 0h0m2 0h0m19 0h0m2 0h0m1 0h0m1 0h0m1 0h0m1 0h0m1 0h0m4 0h0m5 0h0m16 0h0m12 0h0m5 0h0m1 0h0m13 0h0m3 0h0m19 0h0m-118 1h0m15 0h0m2 0h0m4 0h0m3 0h0m5 0h0m1 0h0m2 0h0m2 0h0m1 0h0m1 0h0m1 0h0m1 0h0m4 0h0m3 0h0m35 0h0m1 0h0m12 0h0m5 0h0m-102 1h0m13 0h0m2 0h0m1 0h0m2 0h0m2 0h0m1 0h0m1 0h0m2 0h0m2 0h0m1 0h0m1 0h0m1 0h0m3 0h0m2 0h0m1 0h0m5 0h0m5 0h0m34 0h0m-84 1h0m12 0h0m9 0h0m3 0h0m2 0h0m2 0h0m3 0h0m1 0h0m1 0h0m1 0h0m5 0h0m1 0h0m6 0h0m1 0h0m1 0h0m1 0h0m-58 1h0m25 0h0m1 0h0m4 0h0m1 0h0m4 0h0m2 0h0m5 0h0m1 0h0m2 0h0m1 0h0m5 0h0m1 0h0m1 0h0m9 0h0m33 0h0m6 0h0m3 0h0m3 0h0m1 0h0m6 0h0m3 0h0m-135 1h0m27 0h0m1 0h0m16 0h0m4 0h0m7 0h0m1 0h0m8 0h0m6 0h0m52 0h0m27 0h0m4 0h0m-133 1h0m3 0h0m19 0h0m16 0h0m6 0h0m42 0h0m4 0h0m19 0h0m8 0h0m-124 1h0m35 0h0m15 0h0m49 0h0m13 0h0m22 0h0m-105 1h0m85 0h0m10 0h0m4 0h0m-92 3h0" stroke="#000" stroke-width="1.5" stroke-linecap="square" fill="none"/>
<path d="M1189.4,979.6L1190.0,979.6L1190.5,979.9L1190.8,980.5L1191.1,981.4L1191.4,982.7L1191.8,984.3L1192.2,986.4L1192.7,989.0L1193.2,991.9L1193.6,995.1L1193.9,998.4L1194.1,1001.8L1194.1,1005.4L1194.0,1009.4L1193.8,1013.5L1193.5,1017.6L1193.2,1021.6L1193.0,1025.2L1192.8,1028.5L1192.7,1031.7L1192.5,1034.7L1192.4,1037.6L1192.1,1040.3L1191.8,1042.8L1191.4,1045.1L1190.9,1047.1L1190.4,1049.0L1189.8,1050.8L1189.1,1052.6L1188.3,1054.5L1187.4,1056.5L1186.3,1058.6L1185.2,1060.7L1183.9,1062.7L1182.6,1064.6L1181.3,1066.2L1179.9,1067.5L1178.4,1068.7L1176.9,1069.7L1175.3,1070.5L1173.6,1071.3L1171.9,1072.0L1170.1,1072.6L1168.1,1073.2L1166.0,1073.7L1164.0,1074.0L1162.0,1074.2L1160.2,1074.3L1158.5,1074.3L1156.8,1074.1L1155.1,1073.8L1153.6,1073.4L1152.1,1072.8L1150.8,1072.0L1149.6,1071.0L1148.4,1069.7L1147.4,1068.3L1146.5,1066.8L1145.7,1065.3L1145.0,1063.8L1144.5,1062.3L1144.0,1060.9L1143.7,1059.4L1143.6,1057.8L1143.6,1056.2L1143.8,1054.5L1144.2,1052.7L1144.8,1050.7L1145.5,1048.7L1146.4,1046.7L1147.4,1044.7L1148.5,1042.8L1149.8,1041.0L1151.4,1039.2L1153.1,1037.5L1154.8,1035.8L1156.4,1034.0L1157.9,1032.2L1159.2,1030.4L1160.4,1028.6L1161.6,1026.7L1162.7,1024.8L1163.8,1022.7L1164.9,1020.5L1166.1,1018.0L1167.2,1015.2L1168.4,1012.2L1169.6,1009.3L1170.7,1006.5L1171.9,1004.1L1173.1,1002.0L1174.3,1000.1L1175.5,998.3L1176.7,996.7L1177.9,995.1L1178.9,993.6L1179.8,992.1L1180.6,990.6L1181.3,989.2L1182.0,987.9L1182.8,986.6L1183.6,985.4L1184.5,984.2L1185.6,982.9L1186.6,981.7L1187.7,980.7L1188.6,979.9Z" fill="#000"/>
<path d="M1147 947.5h0m28 17h0m-57 1h0m45 0h0m8 0h0m-7 1h0m5 0h0m3 0h0m1 0h0m6 0h0m2 0h0m10 0h0m3 0h0m-40 1h0m3 0h0m3 0h0m1 0h0m1 0h0m3 0h0m2 0h0m2 0h0m7 0h0m1 0h0m16 0h0m-38 1h0m4 0h0m3 0h0m1 0h0m2 0h0m6 0h0m3 0h0m1 0h0m1 0h0m1 0h0m1 0h0m9 0h0m4 0h0m-37 1h0m2 0h0m4 0h0m3 0h0m2 0h0m4 0h0m7 0h0m1 0h0m4 0h0m1 0h0m3 0h0m4 0h0m1 0h0m-34 1h0m4 0h0m2 0h0m2 0h0m2 0h0m6 0h0m3 0h0m1 0h0m7 0h0m8 0h0m-39 1h0m6 0h0m10 0h0m2 0h0m5 0h0m1 0h0m1 0h0m-27 1h0m2 0h0m4 0h0m11 0h0m1 0h0m2 0h0m2 0h0m2 0h0m6 0h0m2 0h0m10 0h0m-40 1h0m6 0h0m2 0h0m5 0h0m2 0h0m2 0h0m3 0h0m3 0h0m2 0h0m2 0h0m5 0h0m6 0h0m-41 1h0m1 0h0m2 0h0m12 0h0m2 0h0m18 0h0m14 0h0m-45 1h0m4 0h0m6 0h0m1 0h0m6 0h0m2 0h0m5 0h0m1 0h0m1 0h0m5 0h0m-38 1h0m2 0h0m3 0h0m4 0h0m5 0h0m10 0h0m3 0h0m3 0h0m1 0h0m3 0h0m1 0h0m1 0h0m2 0h0m4 0h0m4 0h0m5 0h0m-50 1h0m14 0h0m3 0h0m7 0h0m3 0h0m1 0h0m1 0h0m1 0h0m5 0h0m1 0h0m4 0h0m5 0h0m1 0h0m-46 1h0m4 0h0m4 0h0m16 0h0m3 0h0m1 0h0m1 0h0m7 0h0m1 0h0m1 0h0m1 0h0m2 0h0m3 0h0m-36 1h0m6 0h0m1 0h0m12 0h0m1 0h0m3 0h0m2 0h0m1 0h0m3 0h0m6 0h0m2 0h0m1 0h0m-46 1h0m3 0h0m7 0h0m2 0h0m8 0h0m7 0h0m4 0h0m2 0h0m2 0h0m2 0h0m2 0h0m1 0h0m1 0h0m3 0h0m1 0h0m1 0h0m1 0h0m-48 1h0m3 0h0m4 0h0m8 0h0m2 0h0m2 0h0m9 0h0m1 0h0m2 0h0m1 0h0m1 0h0m1 0h0m3 0h0m1 0h0m7 0h0m3 0h0m8 0h0m-91 1h0m36 0h0m4 0h0m2 0h0m1 0h0m4 0h0m3 0h0m1 0h0m9 0h0m1 0h0m1 0h0m2 0h0m1 0h0m3 0h0m2 0h0m1 0h0m1 0h0m1 0h0m1 0h0m1 0h0m8 0h0m1 0h0m-64 1h0m14 0h0m1 0h0m2 0h0m6 0h0m3 0h0m5 0h0m1 0h0m4 0h0m3 0h0m3 0h0m9 0h0m1 0h0m1 0h0m1 0h0m7 0h0m6 0h0m-54 1h0m1 0h0m3 0h0m4 0h0m10 0h0m6 0h0m2 0h0m2 0h0m2 0h0m4 0h0m1 0h0m4 0h0m1 0h0m1 0h0m10 0h0m1 0h0m-59 1h0m13 0h0m1 0h0m6 0h0m2 0h0m5 0h0m2 0h0m1 0h0m2 0h0m5 0h0m2 0h0m3 0h0m1 0h0m3 0h0m9 0h0m2 0h0m1 0h0m2 0h0m-69 1h0m16 0h0m6 0h0m2 0h0m5 0h0m4 0h0m1 0h0m7 0h0m6 0h0m3 0h0m1 0h0m1 0h0m1 0h0m16 0h0m-54 1h0m3 0h0m3 0h0m2 0h0m6 0h0m1 0h0m6 0h0m1 0h0m1 0h0m3 0h0m1 0h0m1 0h0m1 0h0m1 0h0m7 0h0m2 0h0m12 0h0m1 0h0m3 0h0m-92 1h0m42 0h0m1 0h0m4 0h0m2 0h0m2 0h0m1 0h0m2 0h0m1 0h0m2 0h0m7 0h0m4 0h0m1 0h0m1 0h0m1 0h0m1 0h0m1 0h0m2 0h0m1 0h0m11 0h0m-52 1h0m12 0h0m11 0h0m1 0h0m2 0h0m1 0h0m4 0h0m1 0h0m1 0h0m3 0h0m1 0h0m2 0h0m15 0h0m1 0h0m3 0h0m1 0h0m-59 1h0m2 0h0m5 0h0m1 0h0m1 0h0m2 0h0m6 0h0m1 0h0m1 0h0m1 0h0m3 0h0m10 0h0m2 0h0m1 0h0m1 0h0m2 0h0m13 0h0m2 0h0m3 0h0m1 0h0m-51 1h0m2 0h0m1 0h0m1 0h0m2 0h0m4 0h0m1 0h0m1 0h0m3 0h0m6 0h0m4 0h0m1 0h0m3 0h0m2 0h0m1 0h0m20 0h0m-61 1h0m14 0h0m2 0h0m5 0h0m2 0h0m1 0h0m7 0h0m5 0h0m1 0h0m3 0h0m15 0h0m1 0h0m3 0h0m-61 1h0m2 0h0m1 0h0m4 0h0m2 0h0m10 0h0m9 0h0m1 0h0m1 0h0m1 0h0m5 0h0m4 0h0m1 0h0m16 0h0m1 0h0m-51 1h0m7 0h0m1 0h0m3 0h0m1 0h0m3 0h0m4 0h0m2 0h0m3 0h0m1 0h0m1 0h0m1 0h0m1 0h0m2 0h0m1 0h0m1 0h0m18 0h0m4 0h0m-56 1h0m4 0h0m6 0h0m1 0h0m2 0h0m3 0h0m3 0h0m1 0h0m1 0h0m1 0h0m2 0h0m1 0h0m2 0h0m1 0h0m1 0h0m2 0h0m1 0h0m2 0h0m1 0h0m1 0h0m17 0h0m13 0h0m7 0h0m-71 1h0m2 0h0m2 0h0m10 0h0m1 0h0m5 0h0m1 0h0m3 0h0m1 0h0m1 0h0m1 0h0m1 0h0m1 0h0m4 0h0m21 0h0m5 0h0m-61 1h0m12 0h0m2 0h0m1 0h0m2 0h0m3 0h0m3 0h0m1 0h0m1 0h0m3 0h0m1 0h0m2 0h0m1 0h0m20 0h0m1 0h0m4 0h0m-50 1h0m4 0h0m1 0h0m8 0h0m2 0h0m3 0h0m1 0h0m1 0h0m1 0h0m2 0h0m1 0h0m1 0h0m1 0h0m22 0h0m1 0h0m-61 1h0m2 0h0m3 0h0m8 0h0m5 0h0m2 0h0m1 0h0m2 0h0m2 0h0m1 0h0m2 0h0m1 0h0m2 0h0m1 0h0m2 0h0m1 0h0m1 0h0m21 0h0m22 0h0m-73 1h0m8 0h0m12 0h0m1 0h0m1 0h0m3 0h0m1 0h0m1 0h0m2 0h0m24 0h0m1 0h0m1 0h0m-61 1h0m2 0h0m7 0h0m2 0h0m2 0h0m5 0h0m3 0h0m3 0h0m3 0h0m3 0h0m1 0h0m1 0h0m3 0h0m1 0h0m21 0h0m1 0h0m2 0h0m2 0h0m-61 1h0m4 0h0m1 0h0m4 0h0m8 0h0m7 0h0m4 0h0m3 0h0m2 0h0m1 0h0m26 0h0m-89 1h0m27 0h0m4 0h0m1 0h0m6 0h0m2 0h0m1 0h0m1 0h0m1 0h0m1 0h0m3 0h0m1 0h0m1 0h0m3 0h0m2 0h0m1 0h0m1 0h0m29 0h0m1 0h0m2 0h0m1 0h0m-61 1h0m3 0h0m5 0h0m5 0h0m1 0h0m6 0h0m12 0h0m1 0h0m1 0h0m1 0h0m22 0h0m2 0h0m1 0h0m-61 1h0m1 0h0m2 0h0m2 0h0m6 0h0m4 0h0m7 0h0m1 0h0m5 0h0m2 0h0m2 0h0m28 0h0m1 0h0m1 0h0m24 0h0m-81 1h0m6 0h0m2 0h0m3 0h0m1 0h0m1 0h0m2 0h0m2 0h0m3 0h0m1 0h0m4 0h0m3 0h0m1 0h0m25 0h0m-59 1h0m4 0h0m2 0h0m3 0h0m3 0h0m3 0h0m1 0h0m4 0h0m2 0h0m1 0h0m5 0h0m2 0h0m3 0h0m1 0h0m27 0h0m3 0h0m-67 1h0m2 0h0m4 0h0m1 0h0m4 0h0m3 0h0m2 0h0m1 0h0m1 0h0m1 0h0m2 0h0m3 0h0m1 0h0m1 0h0m1 0h0m1 0h0m1 0h0m1 0h0m1 0h0m1 0h0m1 0h0m1 0h0m1 0h0m1 0h0m1 0h0m24 0h0m2 0h0m2 0h0m1 0h0m4 0h0m-72 1h0m1 0h0m7 0h0m2 0h0m2 0h0m6 0h0m1 0h0m3 0h0m2 0h0m2 0h0m4 0h0m4 0h0m1 0h0m1 0h0m1 0h0m1 0h0m25 0h0m1 0h0m2 0h0m2 0h0m-68 1h0m3 0h0m2 0h0m3 0h0m5 0h0m1 0h0m5 0h0m1 0h0m3 0h0m1 0h0m2 0h0m2 0h0m3 0h0m3 0h0m2 0h0m27 0h0m7 0h0m-70 1h0m2 0h0m1 0h0m2 0h0m1 0h0m7 0h0m2 0h0m2 0h0m1 0h0m1 0h0m2 0h0m4 0h0m1 0h0m2 0h0m3 0h0m3 0h0m3 0h0m26 0h0m1 0h0m15 0h0m-94 1h0m10 0h0m3 0h0m2 0h0m1 0h0m6 0h0m6 0h0m7 0h0m1 0h0m2 0h0m1 0h0m6 0h0m1 0h0m2 0h0m1 0h0m1 0h0m1 0h0m1 0h0m31 0h0m14 0h0m-83 1h0m2 0h0m6 0h0m7 0h0m2 0h0m5 0h0m4 0h0m1 0h0m2 0h0m2 0h0m3 0h0m1 0h0m3 0h0m28 0h0m1 0h0m2 0h0m-58 1h0m7 0h0m5 0h0m1 0h0m4 0h0m7 0h0m3 0h0m26 0h0m1 0h0m1 0h0m1 0h0m-68 1h0m12 0h0m2 0h0m3 0h0m2 0h0m8 0h0m1 0h0m1 0h0m2 0h0m1 0h0m4 0h0m1 0h0m28 0h0m1 0h0m1 0h0m2 0h0m2 0h0m1 0h0m-68 1h0m1 0h0m1 0h0m3 0h0m1 0h0m1 0h0m3 0h0m8 0h0m1 0h0m5 0h0m1 0h0m2 0h0m1 0h0m2 0h0m1 0h0m2 0h0m28 0h0m2 0h0m3 0h0m-78 1h0m8 0h0m9 0h0m8 0h0m2 0h0m1 0h0m3 0h0m6 0h0m1 0h0m3 0h0m2 0h0m30 0h0m1 0h0m6 0h0m11 0h0m-80 1h0m5 0h0m5 0h0m2 0h0m3 0h0m1 0h0m2 0h0m2 0h0m1 0h0m1 0h0m1 0h0m4 0h0m4 0h0m1 0h0m2 0h0m28 0h0m1 0h0m2 0h0m-70 1h0m11 0h0m1 0h0m2 0h0m4 0h0m1 0h0m1 0h0m1 0h0m1 0h0m5 0h0m3 0h0m4 0h0m1 0h0m2 0h0m30 0h0m1 0h0m1 0h0m1 0h0m3 0h0m11 0h0m22 0h0m-108 1h0m1 0h0m9 0h0m4 0h0m4 0h0m1 0h0m1 0h0m1 0h0m1 0h0m2 0h0m2 0h0m3 0h0m1 0h0m1 0h0m3 0h0m2 0h0m2 0h0m31 0h0m3 0h0m-72 1h0m1 0h0m2 0h0m4 0h0m1 0h0m1 0h0m1 0h0m1 0h0m7 0h0m1 0h0m5 0h0m1 0h0m3 0h0m2 0h0m1 0h0m2 0h0m3 0h0m1 0h0m1 0h0m31 0h0m3 0h0m27 0h0m-102 1h0m4 0h0m3 0h0m12 0h0m2 0h0m8 0h0m5 0h0m2 0h0m1 0h0m1 0h0m2 0h0m2 0h0m30 0h0m6 0h0m15 0h0m-89 1h0m5 0h0m5 0h0m3 0h0m8 0h0m1 0h0m5 0h0m1 0h0m1 0h0m1 0h0m2 0h0m1 0h0m1 0h0m1 0h0m1 0h0m1 0h0m31 0h0m2 0h0m-72 1h0m5 0h0m3 0h0m1 0h0m8 0h0m2 0h0m2 0h0m1 0h0m1 0h0m2 0h0m2 0h0m2 0h0m6 0h0m2 0h0m1 0h0m32 0h0m4 0h0m1 0h0m7 0h0m20 0h0m-103 1h0m4 0h0m10 0h0m3 0h0m5 0h0m8 0h0m2 0h0m1 0h0m2 0h0m1 0h0m3 0h0m32 0h0m3 0h0m-72 1h0m5 0h0m4 0h0m2 0h0m6 0h0m2 0h0m3 0h0m6 0h0m2 0h0m5 0h0m1 0h0m33 0h0m1 0h0m1 0h0m5 0h0m11 0h0m-80 1h0m2 0h0m1 0h0m4 0h0m1 0h0m2 0h0m10 0h0m1 0h0m2 0h0m4 0h0m2 0h0m36 0h0m6 0h0m-79 1h0m5 0h0m15 0h0m2 0h0m1 0h0m1 0h0m1 0h0m2 0h0m1 0h0m4 0h0m2 0h0m1 0h0m35 0h0m-81 1h0m10 0h0m2 0h0m1 0h0m5 0h0m5 0h0m1 0h0m4 0h0m1 0h0m1 0h0m1 0h0m1 0h0m4 0h0m1 0h0m1 0h0m6 0h0m1 0h0m37 0h0m2 0h0m11 0h0m19 0h0m-106 1h0m4 0h0m10 0h0m4 0h0m1 0h0m3 0h0m2 0h0m5 0h0m2 0h0m3 0h0m3 0h0m1 0h0m35 0h0m2 0h0m1 0h0m3 0h0m-59 1h0m2 0h0m1 0h0m1 0h0m5 0h0m1 0h0m1 0h0m1 0h0m1 0h0m1 0h0m1 0h0m3 0h0m35 0h0m1 0h0m3 0h0m-73 1h0m3 0h0m1 0h0m17 0h0m5 0h0m3 0h0m2 0h0m1 0h0m36 0h0m1 0h0m1 0h0m2 0h0m1 0h0m-72 1h0m2 0h0m13 0h0m2 0h0m3 0h0m1 0h0m7 0h0m2 0h0m1 0h0m43 0h0m-80 1h0m3 0h0m3 0h0m2 0h0m5 0h0m2 0h0m5 0h0m1 0h0m2 0h0m1 0h0m4 0h0m1 0h0m2 0h0m1 0h0m2 0h0m39 0h0m1 0h0m1 0h0m2 0h0m4 0h0m-79 1h0m3 0h0m6 0h0m6 0h0m1 0h0m7 0h0m2 0h0m5 0h0m3 0h0m38 0h0m2 0h0m1 0h0m1 0h0m-74 1h0m4 0h0m1 0h0m3 0h0m9 0h0m2 0h0m2 0h0m1 0h0m3 0h0m45 0h0m10 0h0m-82 1h0m3 0h0m2 0h0m1 0h0m3 0h0m2 0h0m6 0h0m6 0h0m1 0h0m2 0h0m2 0h0m3 0h0m41 0h0m1 0h0m3 0h0m1 0h0m1 0h0m-79 1h0m6 0h0m2 0h0m9 0h0m2 0h0m7 0h0m3 0h0m1 0h0m1 0h0m43 0h0m2 0h0m12 0h0m3 0h0m-94 1h0m5 0h0m2 0h0m1 0h0m7 0h0m4 0h0m4 0h0m1 0h0m1 0h0m2 0h0m2 0h0m1 0h0m1 0h0m1 0h0m1 0h0m1 0h0m1 0h0m41 0h0m3 0h0m3 0h0m1 0h0m33 0h0m-111 1h0m4 0h0m2 0h0m10 0h0m1 0h0m8 0h0m3 0h0m43 0h0m1 0h0m2 0h0m1 0h0m-84 1h0m11 0h0m5 0h0m3 0h0m2 0h0m1 0h0m3 0h0m2 0h0m1 0h0m2 0h0m5 0h0m44 0h0m-76 1h0m9 0h0m4 0h0m2 0h0m1 0h0m7 0h0m3 0h0m2 0h0m1 0h0m47 0h0m1 0h0m1 0h0m-77 1h0m5 0h0m4 0h0m2 0h0m3 0h0m1 0h0m1 0h0m1 0h0m2 0h0m1 0h0m2 0h0m1 0h0m3 0h0m3 0h0m1 0h0m1 0h0m1 0h0m45 0h0m2 0h0m1 0h0m-82 1h0m5 0h0m2 0h0m17 0h0m1 0h0m1 0h0m1 0h0m4 0h0m1 0h0m1 0h0m45 0h0m2 0h0m-78 1h0m4 0h0m1 0h0m3 0h0m1 0h0m2 0h0m3 0h0m11 0h0m1 0h0m2 0h0m1 0h0m50 0h0m16 0h0m-109 1h0m14 0h0m6 0h0m1 0h0m3 0h0m1 0h0m5 0h0m3 0h0m4 0h0m4 0h0m50 0h0m1 0h0m1 0h0m1 0h0m-89 1h0m7 0h0m8 0h0m3 0h0m4 0h0m3 0h0m1 0h0m2 0h0m2 0h0m2 0h0m1 0h0m53 0h0m1 0h0m11 0h0m-90 1h0m10 0h0m1 0h0m1 0h0m3 0h0m2 0h0m2 0h0m1 0h0m2 0h0m2 0h0m2 0h0m2 0h0m47 0h0m3 0h0m10 0h0m-103 1h0m2 0h0m13 0h0m3 0h0m2 0h0m6 0h0m10 0h0m1 0h0m3 0h0m1 0h0m1 0h0m2 0h0m46 0h0m2 0h0m3 0h0m8 0h0m-99 1h0m8 0h0m3 0h0m1 0h0m5 0h0m1 0h0m1 0h0m1 0h0m1 0h0m2 0h0m1 0h0m4 0h0m2 0h0m2 0h0m5 0h0m49 0h0m2 0h0m-84 1h0m1 0h0m1 0h0m2 0h0m6 0h0m3 0h0m1 0h0m3 0h0m2 0h0m1 0h0m1 0h0m1 0h0m2 0h0m2 0h0m1 0h0m2 0h0m1 0h0m1 0h0m4 0h0m50 0h0m-70 1h0m7 0h0m2 0h0m2 0h0m60 0h0m-97 1h0m13 0h0m3 0h0m3 0h0m1 0h0m3 0h0m1 0h0m6 0h0m2 0h0m1 0h0m1 0h0m1 0h0m3 0h0m1 0h0m3 0h0m1 0h0m1 0h0m1 0h0m46 0h0m2 0h0m1 0h0m-90 1h0m4 0h0m7 0h0m1 0h0m1 0h0m13 0h0m2 0h0m3 0h0m8 0h0m1 0h0m47 0h0m3 0h0m1 0h0m-94 1h0m7 0h0m9 0h0m1 0h0m2 0h0m1 0h0m1 0h0m1 0h0m2 0h0m1 0h0m3 0h0m3 0h0m3 0h0m1 0h0m1 0h0m1 0h0m2 0h0m1 0h0m2 0h0m50 0h0m2 0h0m9 0h0m-104 1h0m1 0h0m3 0h0m6 0h0m1 0h0m3 0h0m1 0h0m5 0h0m2 0h0m1 0h0m1 0h0m1 0h0m2 0h0m2 0h0m6 0h0m4 0h0m1 0h0m3 0h0m1 0h0m46 0h0m2 0h0m-97 1h0m15 0h0m3 0h0m1 0h0m2 0h0m1 0h0m2 0h0m2 0h0m2 0h0m2 0h0m8 0h0m2 0h0m2 0h0m1 0h0m2 0h0m2 0h0m3 0h0m44 0h0m-81 1h0m8 0h0m1 0h0m8 0h0m3 0h0m1 0h0m2 0h0m4 0h0m6 0h0m4 0h0m-33 1h0m1 0h0m1 0h0m4 0h0m1 0h0m1 0h0m2 0h0m1 0h0m1 0h0m2 0h0m2 0h0m2 0h0m1 0h0m1 0h0m7 0h0m2 0h0m50 0h0m1 0h0m1 0h0m1 0h0m-94 1h0m10 0h0m2 0h0m1 0h0m2 0h0m2 0h0m1 0h0m1 0h0m1 0h0m1 0h0m2 0h0m1 0h0m2 0h0m1 0h0m1 0h0m1 0h0m2 0h0m1 0h0m3 0h0m53 0h0m2 0h0m1 0h0m-99 1h0m11 0h0m1 0h0m3 0h0m3 0h0m1 0h0m2 0h0m1 0h0m3 0h0m1 0h0m3 0h0m1 0h0m1 0h0m1 0h0m2 0h0m1 0h0m1 0h0m1 0h0m2 0h0m2 0h0m1 0h0m1 0h0m5 0h0m1 0h0m1 0h0m1 0h0m44 0h0m1 0h0m3 0h0m-88 1h0m2 0h0m2 0h0m4 0h0m1 0h0m4 0h0m1 0h0m1 0h0m1 0h0m1 0h0m1 0h0m1 0h0m1 0h0m1 0h0m2 0h0m1 0h0m4 0h0m5 0h0m2 0h0m1 0h0m1 0h0m1 0h0m4 0h0m1 0h0m41 0h0m3 0h0m2 0h0m1 0h0m-89 1h0m2 0h0m3 0h0m1 0h0m1 0h0m1 0h0m1 0h0m3 0h0m1 0h0m2 0h0m5 0h0m1 0h0m1 0h0m3 0h0m1 0h0m1 0h0m1 0h0m2 0h0m1 0h0m1 0h0m1 0h0m5 0h0m2 0h0m1 0h0m44 0h0m-89 1h0m7 0h0m7 0h0m2 0h0m2 0h0m1 0h0m5 0h0m1 0h0m1 0h0m3 0h0m1 0h0m1 0h0m3 0h0m2 0h0m1 0h0m1 0h0m1 0h0m1 0h0m5 0h0m2 0h0m40 0h0m1 0h0m4 0h0m-91 1h0m10 0h0m1 0h0m1 0h0m1 0h0m3 0h0m2 0h0m2 0h0m2 0h0m3 0h0m1 0h0m1 0h0m1 0h0m2 0h0m3 0h0m1 0h0m5 0h0m2 0h0m1 0h0m1 0h0m2 0h0m1 0h0m37 0h0m6 0h0m1 0h0m-82 1h0m3 0h0m3 0h0m1 0h0m3 0h0m2 0h0m1 0h0m2 0h0m1 0h0m2 0h0m1 0h0m1 0h0m2 0h0m2 0h0m4 0h0m2 0h0m1 0h0m2 0h0m3 0h0m2 0h0m1 0h0m36 0h0m1 0h0m2 0h0m3 0h0m3 0h0m-100 1h0m13 0h0m2 0h0m1 0h0m1 0h0m1 0h0m1 0h0m1 0h0m1 0h0m2 0h0m1 0h0m2 0h0m1 0h0m1 0h0m1 0h0m2 0h0m1 0h0m3 0h0m2 0h0m3 0h0m1 0h0m2 0h0m1 0h0m1 0h0m2 0h0m1 0h0m3 0h0m1 0h0m1 0h0m38 0h0m1 0h0m37 0h0m-130 1h0m6 0h0m6 0h0m2 0h0m3 0h0m3 0h0m1 0h0m1 0h0m3 0h0m2 0h0m1 0h0m1 0h0m2 0h0m1 0h0m1 0h0m2 0h0m1 0h0m2 0h0m1 0h0m3 0h0m2 0h0m3 0h0m1 0h0m1 0h0m2 0h0m1 0h0m2 0h0m3 0h0m32 0h0m3 0h0m2 0h0m2 0h0m3 0h0m-97 1h0m14 0h0m1 0h0m1 0h0m1 0h0m1 0h0m4 0h0m1 0h0m1 0h0m2 0h0m1 0h0m1 0h0m2 0h0m1 0h0m2 0h0m1 0h0m2 0h0m2 0h0m1 0h0m9 0h0m2 0h0m3 0h0m3 0h0m31 0h0m2 0h0m1 0h0m-81 1h0m1 0h0m2 0h0m1 0h0m1 0h0m3 0h0m1 0h0m2 0h0m2 0h0m1 0h0m1 0h0m1 0h0m1 0h0m2 0h0m2 0h0m3 0h0m2 0h0m2 0h0m4 0h0m5 0h0m5 0h0m5 0h0m1 0h0m29 0h0m1 0h0m2 0h0m1 0h0m-90 1h0m14 0h0m2 0h0m1 0h0m1 0h0m2 0h0m2 0h0m2 0h0m1 0h0m2 0h0m1 0h0m2 0h0m2 0h0m3 0h0m1 0h0m1 0h0m1 0h0m2 0h0m1 0h0m2 0h0m3 0h0m5 0h0m3 0h0m2 0h0m27 0h0m5 0h0m34 0h0m-125 1h0m16 0h0m1 0h0m1 0h0m4 0h0m1 0h0m2 0h0m2 0h0m2 0h0m1 0h0m2 0h0m1 0h0m1 0h0m2 0h0m1 0h0m2 0h0m4 0h0m1 0h0m2 0h0m1 0h0m1 0h0m1 0h0m5 0h0m2 0h0m1 0h0m2 0h0m26 0h0m1 0h0m1 0h0m2 0h0m1 0h0m1 0h0m2 0h0m-89 1h0m4 0h0m4 0h0m4 0h0m3 0h0m2 0h0m1 0h0m2 0h0m1 0h0m1 0h0m1 0h0m2 0h0m1 0h0m1 0h0m1 0h0m1 0h0m1 0h0m1 0h0m5 0h0m1 0h0m1 0h0m2 0h0m9 0h0m2 0h0m2 0h0m1 0h0m5 0h0m17 0h0m2 0h0m1 0h0m2 0h0m1 0h0m1 0h0m2 0h0m2 0h0m7 0h0m-83 1h0m5 0h0m1 0h0m1 0h0m2 0h0m2 0h0m4 0h0m5 0h0m1 0h0m1 0h0m2 0h0m1 0h0m4 0h0m3 0h0m4 0h0m2 0h0m2 0h0m2 0h0m1 0h0m2 0h0m1 0h0m1 0h0m2 0h0m1 0h0m1 0h0m2 0h0m8 0h0m1 0h0m2 0h0m3 0h0m-83 1h0m6 0h0m10 0h0m3 0h0m4 0h0m1 0h0m3 0h0m3 0h0m3 0h0m1 0h0m1 0h0m6 0h0m1 0h0m1 0h0m1 0h0m3 0h0m1 0h0m1 0h0m1 0h0m3 0h0m2 0h0m4 0h0m1 0h0m1 0h0m2 0h0m1 0h0m3 0h0m1 0h0m1 0h0m1 0h0m4 0h0m2 0h0m4 0h0m1 0h0m1 0h0m1 0h0m3 0h0m11 0h0m-86 1h0m3 0h0m2 0h0m1 0h0m8 0h0m3 0h0m4 0h0m2 0h0m3 0h0m1 0h0m1 0h0m1 0h0m13 0h0m6 0h0m8 0h0m1 0h0m2 0h0m2 0h0m1 0h0m2 0h0m1 0h0m6 0h0m6 0h0m-82 1h0m8 0h0m1 0h0m5 0h0m1 0h0m2 0h0m11 0h0m2 0h0m2 0h0m1 0h0m1 0h0m1 0h0m2 0h0m1 0h0m1 0h0m1 0h0m6 0h0m2 0h0m3 0h0m1 0h0m2 0h0m4 0h0m3 0h0m2 0h0m2 0h0m1 0h0m1 0h0m4 0h0m1 0h0m-68 1h0m6 0h0m5 0h0m1 0h0m1 0h0m1 0h0m2 0h0m1 0h0m3 0h0m3 0h0m1 0h0m3 0h0m2 0h0m2 0h0m3 0h0m5 0h0m1 0h0m16 0h0m3 0h0m4 0h0m-50 1h0m2 0h0m1 0h0m7 0h0m32 0h0m7 0h0m-47 1h0m3 0h0m4 0h0m9 0h0m17 0h0m-41 1h0m7 0h0m8 0h0m5 0h0m5 0h0m1 0h0m3 0h0m2 1h0m-40 1h0m19 0h0m10 0h0m-22 1h0m11 0h0m118 0h0m-121 1h0m6 0h0m-20 1h0m10 1h0" stroke="#000" stroke-width="1.5" stroke-linecap="square" fill="none"/>
<path d="M1450.8,963.2L1451.8,963.6L1452.8,964.6L1453.6,966.2L1454.4,968.2L1455.0,970.3L1455.5,972.6L1455.9,975.0L1456.1,977.8L1456.2,980.8L1456.2,984.0L1456.2,987.1L1456.1,990.1L1456.0,993.0L1455.9,995.9L1455.7,998.8L1455.5,1001.8L1455.2,1004.7L1454.9,1007.6L1454.5,1010.5L1454.1,1013.5L1453.7,1016.4L1453.2,1019.3L1452.6,1022.3L1452.0,1025.2L1451.3,1028.2L1450.6,1031.2L1449.8,1034.2L1449.0,1037.1L1448.2,1040.0L1447.3,1042.8L1446.4,1045.5L1445.5,1048.1L1444.5,1050.7L1443.6,1053.2L1442.5,1055.6L1441.5,1058.0L1440.4,1060.3L1439.3,1062.7L1438.2,1064.9L1437.0,1067.0L1435.8,1069.0L1434.5,1070.8L1433.3,1072.4L1432.2,1073.8L1431.1,1075.1L1429.9,1076.2L1428.3,1077.1L1426.3,1077.9L1423.6,1078.5L1420.2,1079.1L1416.5,1079.4L1412.9,1079.5L1409.8,1079.4L1407.5,1079.0L1406.1,1078.2L1405.3,1077.1L1405.0,1075.8L1405.0,1074.2L1405.1,1072.5L1405.2,1070.8L1405.2,1068.9L1405.4,1066.9L1405.6,1064.8L1406.0,1062.5L1406.7,1060.3L1407.5,1058.0L1408.7,1055.7L1410.1,1053.4L1411.8,1051.0L1413.5,1048.6L1415.3,1046.2L1416.9,1043.9L1418.5,1041.7L1420.1,1039.7L1421.7,1037.7L1423.3,1035.6L1424.8,1033.4L1426.3,1031.0L1427.8,1028.4L1429.2,1025.7L1430.6,1022.9L1432.0,1019.9L1433.3,1016.8L1434.5,1013.5L1435.6,1009.9L1436.7,1005.9L1437.8,1001.8L1438.7,997.7L1439.6,993.7L1440.3,990.1L1440.8,986.7L1441.1,983.5L1441.3,980.5L1441.5,977.6L1441.9,975.0L1442.6,972.6L1443.7,970.3L1445.0,968.2L1446.5,966.2L1448.1,964.6L1449.6,963.6Z" fill="#000"/>
<path d="M1443 957.5h0m1 1h0m0 1h0m8 0h0m-5 1h0m2 0h0m-2 1h0m2 0h0m3 0h0m3 0h0m-11 1h0m4 0h0m2 0h0m1 0h0m1 0h0m2 0h0m5 0h0m-14 1h0m2 0h0m2 0h0m2 0h0m1 0h0m2 0h0m1 0h0m-15 1h0m4 0h0m1 0h0m4 0h0m3 0h0m-14 1h0m4 0h0m5 0h0m6 0h0m-11 1h0m2 0h0m3 0h0m10 0h0m1 0h0m-18 1h0m5 0h0m10 0h0m4 0h0m-19 1h0m1 0h0m1 0h0m1 0h0m1 0h0m12 0h0m2 0h0m8 0h0m-28 1h0m4 0h0m1 0h0m15 0h0m6 0h0m-21 1h0m1 0h0m12 0h0m-19 1h0m5 0h0m15 0h0m-20 1h0m24 0h0m5 0h0m-28 1h0m3 0h0m1 0h0m14 0h0m1 0h0m1 0h0m1 0h0m1 0h0m5 0h0m-25 1h0m1 0h0m1 0h0m17 0h0m2 0h0m-21 1h0m-9 1h0m8 0h0m17 0h0m1 0h0m2 0h0m-18 1h0m15 0h0m1 0h0m3 0h0m2 0h0m-21 1h0m15 0h0m1 1h0m1 0h0m2 0h0m3 0h0m-22 1h0m15 0h0m1 0h0m1 0h0m2 0h0m1 0h0m-4 1h0m1 0h0m4 0h0m-1 1h0m-4 1h0m2 0h0m5 0h0m2 0h0m-9 1h0m3 0h0m-4 1h0m1 0h0m7 0h0m-7 1h0m1 0h0m2 0h0m2 0h0m2 0h0m-31 1h0m4 0h0m3 0h0m19 0h0m1 0h0m1 0h0m4 0h0m-25 1h0m18 0h0m1 0h0m-25 1h0m1 0h0m21 0h0m5 0h0m-41 1h0m1 0h0m14 0h0m-1 1h0m3 0h0m24 0h0m-29 1h0m7 0h0m17 0h0m6 0h0m-53 1h0m11 0h0m14 0h0m3 0h0m22 0h0m1 0h0m2 0h0m-29 1h0m5 0h0m20 0h0m1 0h0m-40 1h0m11 0h0m2 0h0m5 0h0m1 0h0m20 0h0m1 0h0m-23 1h0m1 0h0m1 0h0m19 0h0m1 0h0m4 0h0m3 0h0m-54 1h0m27 0h0m18 0h0m-25 1h0m5 0h0m1 0h0m1 0h0m18 0h0m2 0h0m-28 1h0m26 0h0m1 0h0m4 0h0m25 0h0m-51 1h0m1 0h0m20 0h0m2 0h0m3 0h0m2 0h0m-28 1h0m23 0h0m-48 1h0m19 0h0m3 0h0m1 0h0m1 0h0m1 0h0m1 0h0m1 0h0m20 0h0m-27 1h0m1 0h0m27 0h0m1 0h0m-37 1h0m11 0h0m2 0h0m1 0h0m23 0h0m2 0h0m2 0h0m-35 1h0m1 0h0m4 0h0m2 0h0m1 0h0m20 0h0m-31 1h0m4 0h0m4 0h0m2 0h0m22 0h0m2 0h0m4 0h0m-34 1h0m6 0h0m21 0h0m25 0h0m-52 1h0m3 0h0m1 0h0m2 0h0m20 0h0m1 0h0m1 0h0m-37 1h0m8 0h0m5 0h0m22 0h0m2 0h0m1 0h0m-47 1h0m18 0h0m2 0h0m3 0h0m22 0h0m2 0h0m1 0h0m-48 1h0m18 0h0m4 0h0m2 0h0m21 0h0m3 0h0m17 0h0m15 0h0m-61 1h0m2 0h0m2 0h0m21 0h0m4 0h0m1 0h0m-51 1h0m19 0h0m5 0h0m1 0h0m25 0h0m1 0h0m1 0h0m-41 1h0m1 0h0m9 0h0m1 0h0m1 0h0m24 0h0m1 0h0m4 0h0m2 0h0m-43 1h0m4 0h0m5 0h0m2 0h0m23 0h0m1 0h0m3 0h0m30 0h0m-63 1h0m3 0h0m5 0h0m21 0h0m3 0h0m2 0h0m17 0h0m21 0h0m-71 1h0m1 0h0m3 0h0m24 0h0m1 0h0m-48 1h0m9 0h0m15 0h0m23 0h0m1 0h0m1 0h0m2 0h0m22 0h0m-59 1h0m10 0h0m24 0h0m2 0h0m4 0h0m2 0h0m1 0h0m-38 1h0m1 0h0m1 0h0m35 0h0m-42 1h0m1 0h0m5 0h0m1 0h0m26 0h0m2 0h0m-28 1h0m1 0h0m24 0h0m1 0h0m-57 1h0m16 0h0m13 0h0m1 0h0m2 0h0m25 0h0m1 0h0m-43 1h0m7 0h0m6 0h0m2 0h0m2 0h0m24 0h0m1 0h0m-49 1h0m17 0h0m1 0h0m29 0h0m2 0h0m20 0h0m-51 1h0m5 0h0m26 0h0m3 0h0m2 0h0m-40 1h0m6 0h0m27 0h0m46 0h0m-85 1h0m6 0h0m3 0h0m30 0h0m1 0h0m2 0h0m8 0h0m3 0h0m4 0h0m-58 1h0m39 0h0m1 0h0m1 0h0m1 0h0m2 0h0m-32 1h0m3 0h0m25 0h0m2 0h0m1 0h0m12 0h0m5 0h0m-55 1h0m3 0h0m3 0h0m1 0h0m27 0h0m1 0h0m1 0h0m1 0h0m1 0h0m-34 1h0m1 0h0m29 0h0m1 0h0m-33 1h0m3 0h0m33 0h0m20 0h0m17 0h0m-70 1h0m1 0h0m1 0h0m1 0h0m25 0h0m9 0h0m3 0h0m18 0h0m-61 1h0m31 0h0m1 0h0m13 0h0m10 0h0m-55 1h0m1 0h0m30 0h0m-36 1h0m66 0h0m-68 1h0m4 0h0m1 0h0m1 0h0m3 0h0m30 0h0m1 0h0m-38 1h0m1 0h0m2 0h0m1 0h0m1 0h0m30 0h0m-32 1h0m3 0h0m33 0h0m40 0h0m-87 1h0m2 0h0m1 0h0m4 0h0m3 0h0m1 0h0m32 0h0m1 0h0m1 0h0m40 0h0m-76 1h0m3 0h0m30 0h0m2 0h0m27 0h0m-71 1h0m3 0h0m4 0h0m4 0h0m32 0h0m39 0h0m-141 1h0m61 0h0m4 0h0m2 0h0m34 0h0m-43 1h0m6 0h0m3 0h0m2 0h0m36 0h0m2 0h0m24 0h0m-78 1h0m11 0h0m36 0h0m3 0h0m-47 1h0m3 0h0m2 0h0m5 0h0m33 0h0m4 0h0m1 0h0m2 0h0m22 0h0m-115 1h0m24 0h0m28 0h0m1 0h0m1 0h0m32 0h0m18 0h0m2 0h0m3 0h0m24 0h0m-87 1h0m4 0h0m3 0h0m32 0h0m1 0h0m47 0h0m-113 1h0m24 0h0m2 0h0m2 0h0m38 0h0m2 0h0m4 0h0m-84 1h0m5 0h0m37 0h0m1 0h0m34 0h0m1 0h0m1 0h0m4 0h0m27 0h0m-73 1h0m3 0h0m37 0h0m2 0h0m27 0h0m24 0h0m-147 1h0m15 0h0m34 0h0m8 0h0m37 0h0m3 0h0m1 0h0m16 0h0m-63 1h0m6 0h0m39 0h0m33 0h0m9 0h0m-86 1h0m40 0h0m1 0h0m52 0h0m-134 1h0m33 0h0m48 0h0m1 0h0m4 0h0m3 0h0m21 0h0m-116 1h0m49 0h0m1 0h0m2 0h0m35 0h0m2 0h0m5 0h0m67 0h0m-162 1h0m87 0h0m1 0h0m2 0h0m2 0h0m1 0h0m2 0h0m-103 1h0m60 0h0m35 0h0m-92 1h0m35 0h0m7 0h0m8 0h0m3 0h0m40 0h0m4 0h0m61 0h0m-113 1h0m5 0h0m2 0h0m38 0h0m1 0h0m1 0h0m1 0h0m-85 1h0m11 0h0m6 0h0m67 0h0m-80 1h0m9 0h0m14 0h0m55 0h0m60 0h0m6 0h0m-145 1h0m5 0h0m2 0h0m4 0h0m26 0h0m1 0h0m2 0h0m3 0h0m1 0h0m34 0h0m5 0h0m34 0h0m16 0h0m-137 1h0m1 0h0m9 0h0m12 0h0m13 0h0m7 0h0m39 0h0m3 0h0m-75 1h0m30 0h0m6 0h0m38 0h0m1 0h0m3 0h0m40 0h0m-129 1h0m1 0h0m28 0h0m17 0h0m3 0h0m1 0h0m33 0h0m49 0h0m15 0h0m-104 1h0m3 0h0m36 0h0m1 0h0m-68 1h0m5 0h0m24 0h0m2 0h0m1 0h0m35 0h0m-95 1h0m56 0h0m4 0h0m3 0h0m31 0h0m13 0h0m-86 1h0m41 0h0m32 0h0m-81 1h0m20 0h0m26 0h0m42 0h0m5 0h0m-102 1h0m89 0h0m2 0h0m13 0h0m43 0h0m-123 1h0m15 0h0m7 0h0m10 0h0m3 0h0m28 0h0m8 0h0m-94 1h0m49 0h0m4 0h0m2 0h0m30 0h0m1 0h0m1 0h0m2 0h0m1 0h0m2 0h0m32 0h0m-132 1h0m92 0h0m5 0h0m3 0h0m73 0h0m-174 1h0m13 0h0m25 0h0m24 0h0m2 0h0m26 0h0m1 0h0m6 0h0m6 0h0m-52 1h0m16 0h0m16 1h0m3 0h0m2 0h0m4 0h0m1 0h0m5 0h0m54 0h0m-89 1h0m7 0h0m4 0h0m9 0h0m1 0h0m1 0h0m2 0h0m-52 1h0m27 0h0m5 0h0m1 0h0m5 0h0m5 0h0m3 0h0m1 0h0m3 0h0m6 0h0m1 0h0m-73 1h0m27 0h0m16 0h0m11 0h0m3 0h0m4 0h0m3 0h0m2 0h0m5 0h0m-60 1h0m36 0h0m4 0h0m2 0h0m5 0h0m2 0h0m2 0h0m3 0h0m5 0h0m-17 1h0m6 0h0m-42 2h0m102 0h0" stroke="#000" stroke-width="1.5" stroke-linecap="square" fill="none"/>
<path d="M308 606.5h0m-33 9h0m-66 2h0m17 3h0m75 5h0m-81 2h0m-55 3h0m-37 1h0m24 2h0m148 2h0m-81 1h0m-32 6h0m39 1h0m-46 1h0m4 1h0m-49 7h0m67 0h0m-44 3h0m-8 1h0m86 1h0m-27 1h0m29 0h0m5 0h0m-131 1h0m124 0h0m-111 1h0m25 1h0m116 0h0m13 0h0m18 0h0m-157 1h0m8 0h0m26 0h0m-29 1h0m3 0h0m23 0h0m10 0h0m-49 1h0m24 0h0m120 0h0m23 0h0m-168 1h0m10 0h0m15 0h0m-37 1h0m15 0h0m3 0h0m2 0h0m13 0h0m92 0h0m-109 1h0m1 0h0m17 0h0m1 0h0m90 0h0m-110 1h0m3 0h0m6 0h0m6 0h0m20 0h0m22 0h0m20 0h0m28 0h0m9 0h0m-137 1h0m20 0h0m1 0h0m10 0h0m5 0h0m45 0h0m9 0h0m19 0h0m30 0h0m8 0h0m-128 1h0m15 0h0m3 0h0m4 0h0m11 0h0m3 0h0m4 0h0m1 0h0m3 0h0m33 0h0m92 0h0m-169 1h0m5 0h0m2 0h0m1 0h0m2 0h0m1 0h0m5 0h0m8 0h0m2 0h0m5 0h0m15 0h0m12 0h0m1 0h0m21 0h0m34 0h0m30 0h0m23 0h0m-178 1h0m18 0h0m3 0h0m6 0h0m16 0h0m8 0h0m8 0h0m13 0h0m42 0h0m-101 1h0m11 0h0m1 0h0m1 0h0m2 0h0m3 0h0m8 0h0m3 0h0m12 0h0m41 0h0m70 0h0m15 0h0m-185 1h0m4 0h0m6 0h0m13 0h0m2 0h0m6 0h0m1 0h0m5 0h0m4 0h0m8 0h0m23 0h0m70 0h0m27 0h0m-169 1h0m7 0h0m4 0h0m3 0h0m9 0h0m4 0h0m4 0h0m2 0h0m5 0h0m5 0h0m6 0h0m1 0h0m1 0h0m2 0h0m47 0h0m62 0h0m1 0h0m5 0h0m11 0h0m11 0h0m-191 1h0m6 0h0m12 0h0m7 0h0m5 0h0m2 0h0m1 0h0m4 0h0m7 0h0m2 0h0m25 0h0m55 0h0m32 0h0m2 0h0m8 0h0m-138 1h0m1 0h0m8 0h0m4 0h0m10 0h0m9 0h0m19 0h0m9 0h0m44 0h0m5 0h0m4 0h0m41 0h0m-170 1h0m2 0h0m6 0h0m4 0h0m6 0h0m10 0h0m4 0h0m1 0h0m18 0h0m62 0h0m39 0h0m12 0h0m-172 1h0m21 0h0m29 0h0m5 0h0m4 0h0m37 0h0m5 0h0m8 0h0m5 0h0m23 0h0m1 0h0m10 0h0m2 0h0m11 0h0m2 0h0m5 0h0m8 0h0m10 0h0m-194 1h0m19 0h0m8 0h0m10 0h0m1 0h0m2 0h0m8 0h0m3 0h0m29 0h0m3 0h0m46 0h0m2 0h0m10 0h0m11 0h0m4 0h0m4 0h0m13 0h0m1 0h0m-146 1h0m6 0h0m8 0h0m6 0h0m3 0h0m50 0h0m6 0h0m12 0h0m7 0h0m30 0h0m2 0h0m2 0h0m2 0h0m1 0h0m2 0h0m3 0h0m1 0h0m1 0h0m-123 1h0m56 0h0m13 0h0m10 0h0m4 0h0m6 0h0m2 0h0m2 0h0m5 0h0m3 0h0m5 0h0m2 0h0m18 0h0m9 0h0m-177 1h0m16 0h0m3 0h0m7 0h0m29 0h0m30 0h0m1 0h0m4 0h0m8 0h0m2 0h0m20 0h0m4 0h0m10 0h0m8 0h0m7 0h0m9 0h0m2 0h0m2 0h0m14 0h0m3 0h0m7 0h0m-189 1h0m26 0h0m14 0h0m42 0h0m2 0h0m1 0h0m3 0h0m4 0h0m1 0h0m4 0h0m11 0h0m2 0h0m5 0h0m1 0h0m13 0h0m7 0h0m1 0h0m3 0h0m4 0h0m6 0h0m6 0h0m2 0h0m1 0h0m4 0h0m2 0h0m5 0h0m1 0h0m4 0h0m9 0h0m4 0h0m1 0h0m-189 1h0m34 0h0m6 0h0m2 0h0m22 0h0m2 0h0m6 0h0m18 0h0m14 0h0m4 0h0m5 0h0m1 0h0m9 0h0m3 0h0m8 0h0m2 0h0m1 0h0m1 0h0m1 0h0m1 0h0m7 0h0m4 0h0m9 0h0m2 0h0m1 0h0m3 0h0m2 0h0m3 0h0m1 0h0m5 0h0m3 0h0m1 0h0m-183 1h0m6 0h0m21 0h0m13 0h0m15 0h0m10 0h0m11 0h0m25 0h0m7 0h0m1 0h0m4 0h0m4 0h0m9 0h0m2 0h0m2 0h0m1 0h0m7 0h0m3 0h0m9 0h0m4 0h0m2 0h0m8 0h0m1 0h0m1 0h0m1 0h0m5 0h0m2 0h0m11 0h0m-136 1h0m13 0h0m11 0h0m2 0h0m3 0h0m13 0h0m5 0h0m4 0h0m2 0h0m1 0h0m7 0h0m1 0h0m1 0h0m2 0h0m3 0h0m1 0h0m5 0h0m1 0h0m2 0h0m1 0h0m2 0h0m1 0h0m2 0h0m2 0h0m1 0h0m1 0h0m3 0h0m1 0h0m4 0h0m2 0h0m2 0h0m1 0h0m4 0h0m1 0h0m5 0h0m1 0h0m1 0h0m2 0h0m7 0h0m1 0h0m1 0h0m4 0h0m8 0h0m-137 1h0m17 0h0m2 0h0m8 0h0m3 0h0m1 0h0m3 0h0m1 0h0m3 0h0m6 0h0m4 0h0m2 0h0m1 0h0m1 0h0m7 0h0m2 0h0m1 0h0m6 0h0m3 0h0m3 0h0m3 0h0m3 0h0m1 0h0m2 0h0m16 0h0m1 0h0m1 0h0m1 0h0m4 0h0m1 0h0m1 0h0m3 0h0m3 0h0m2 0h0m2 0h0m7 0h0m6 0h0m5 0h0m1 0h0m5 0h0m3 0h0m-188 1h0m42 0h0m9 0h0m1 0h0m10 0h0m1 0h0m3 0h0m5 0h0m1 0h0m3 0h0m4 0h0m2 0h0m1 0h0m1 0h0m1 0h0m1 0h0m5 0h0m11 0h0m1 0h0m1 0h0m1 0h0m2 0h0m2 0h0m5 0h0m2 0h0m1 0h0m4 0h0m8 0h0m3 0h0m1 0h0m1 0h0m4 0h0m5 0h0m4 0h0m1 0h0m2 0h0m1 0h0m4 0h0m2 0h0m1 0h0m1 0h0m1 0h0m1 0h0m2 0h0m4 0h0m5 0h0m3 0h0m1 0h0m1 0h0m8 0h0m-147 1h0m20 0h0m6 0h0m7 0h0m1 0h0m3 0h0m1 0h0m2 0h0m1 0h0m7 0h0m2 0h0m1 0h0m3 0h0m2 0h0m2 0h0m2 0h0m1 0h0m2 0h0m1 0h0m6 0h0m2 0h0m4 0h0m3 0h0m3 0h0m3 0h0m1 0h0m3 0h0m3 0h0m1 0h0m3 0h0m2 0h0m3 0h0m1 0h0m1 0h0m1 0h0m1 0h0m3 0h0m2 0h0m1 0h0m6 0h0m3 0h0m1 0h0m1 0h0m1 0h0m2 0h0m2 0h0m1 0h0m1 0h0m3 0h0m1 0h0m1 0h0m1 0h0m5 0h0m5 0h0m2 0h0m1 0h0m-147 1h0m6 0h0m7 0h0m3 0h0m1 0h0m5 0h0m2 0h0m2 0h0m1 0h0m3 0h0m1 0h0m1 0h0m2 0h0m1 0h0m5 0h0m1 0h0m1 0h0m1 0h0m1 0h0m2 0h0m2 0h0m1 0h0m1 0h0m5 0h0m1 0h0m1 0h0m1 0h0m2 0h0m1 0h0m2 0h0m1 0h0m4 0h0m3 0h0m4 0h0m2 0h0m1 0h0m3 0h0m1 0h0m1 0h0m1 0h0m1 0h0m3 0h0m3 0h0m2 0h0m1 0h0m3 0h0m1 0h0m1 0h0m2 0h0m3 0h0m1 0h0m1 0h0m4 0h0m3 0h0m1 0h0m1 0h0m3 0h0m2 0h0m1 0h0m2 0h0m1 0h0m1 0h0m2 0h0m1 0h0m3 0h0m2 0h0m1 0h0m5 0h0m6 0h0m4 0h0m-143 1h0m8 0h0m1 0h0m2 0h0m4 0h0m4 0h0m5 0h0m2 0h0m1 0h0m1 0h0m2 0h0m2 0h0m3 0h0m1 0h0m3 0h0m1 0h0m6 0h0m1 0h0m1 0h0m1 0h0m2 0h0m1 0h0m1 0h0m1 0h0m1 0h0m3 0h0m1 0h0m1 0h0m1 0h0m2 0h0m2 0h0m4 0h0m2 0h0m4 0h0m1 0h0m1 0h0m1 0h0m1 0h0m1 0h0m1 0h0m5 0h0m1 0h0m3 0h0m1 0h0m2 0h0m1 0h0m1 0h0m1 0h0m4 0h0m1 0h0m3 0h0m1 0h0m3 0h0m3 0h0m3 0h0m1 0h0m1 0h0m1 0h0m2 0h0m1 0h0m1 0h0m2 0h0m1 0h0m2 0h0m7 0h0m3 0h0m1 0h0m4 0h0m-150 1h0m4 0h0m6 0h0m6 0h0m6 0h0m2 0h0m7 0h0m3 0h0m1 0h0m1 0h0m2 0h0m2 0h0m4 0h0m1 0h0m1 0h0m6 0h0m1 0h0m1 0h0m8 0h0m1 0h0m1 0h0m1 0h0m1 0h0m1 0h0m1 0h0m1 0h0m4 0h0m1 0h0m1 0h0m2 0h0m1 0h0m1 0h0m1 0h0m1 0h0m3 0h0m1 0h0m1 0h0m4 0h0m4 0h0m6 0h0m2 0h0m4 0h0m1 0h0m2 0h0m1 0h0m1 0h0m1 0h0m1 0h0m1 0h0m2 0h0m1 0h0m1 0h0m1 0h0m3 0h0m1 0h0m1 0h0m2 0h0m6 0h0m1 0h0m1 0h0m2 0h0m5 0h0m1 0h0m1 0h0m5 0h0m2 0h0m-175 1h0m24 0h0m7 0h0m5 0h0m4 0h0m1 0h0m4 0h0m2 0h0m6 0h0m9 0h0m2 0h0m2 0h0m1 0h0m1 0h0m4 0h0m1 0h0m1 0h0m2 0h0m1 0h0m5 0h0m3 0h0m2 0h0m1 0h0m1 0h0m1 0h0m3 0h0m2 0h0m1 0h0m1 0h0m2 0h0m6 0h0m1 0h0m3 0h0m1 0h0m1 0h0m1 0h0m1 0h0m1 0h0m2 0h0m2 0h0m2 0h0m5 0h0m3 0h0m1 0h0m2 0h0m1 0h0m1 0h0m1 0h0m1 0h0m1 0h0m1 0h0m1 0h0m1 0h0m2 0h0m2 0h0m4 0h0m3 0h0m2 0h0m4 0h0m1 0h0m1 0h0m2 0h0m1 0h0m1 0h0m1 0h0m3 0h0m2 0h0m2 0h0m3 0h0m1 0h0m2 0h0m-158 1h0m3 0h0m5 0h0m9 0h0m2 0h0m2 0h0m1 0h0m2 0h0m2 0h0m2 0h0m6 0h0m4 0h0m2 0h0m3 0h0m2 0h0m2 0h0m3 0h0m2 0h0m6 0h0m2 0h0m3 0h0m1 0h0m1 0h0m2 0h0m1 0h0m1 0h0m3 0h0m1 0h0m1 0h0m6 0h0m1 0h0m3 0h0m1 0h0m2 0h0m1 0h0m1 0h0m1 0h0m2 0h0m1 0h0m1 0h0m1 0h0m1 0h0m3 0h0m2 0h0m2 0h0m1 0h0m4 0h0m2 0h0m3 0h0m3 0h0m8 0h0m2 0h0m1 0h0m3 0h0m1 0h0m2 0h0m4 0h0m6 0h0m3 0h0m6 0h0m7 0h0m-163 1h0m5 0h0m5 0h0m2 0h0m2 0h0m4 0h0m1 0h0m1 0h0m1 0h0m1 0h0m1 0h0m1 0h0m1 0h0m2 0h0m3 0h0m1 0h0m1 0h0m1 0h0m1 0h0m4 0h0m4 0h0m3 0h0m3 0h0m1 0h0m3 0h0m3 0h0m4 0h0m5 0h0m1 0h0m2 0h0m1 0h0m2 0h0m1 0h0m1 0h0m1 0h0m1 0h0m5 0h0m1 0h0m1 0h0m1 0h0m1 0h0m1 0h0m2 0h0m1 0h0m4 0h0m3 0h0m2 0h0m1 0h0m3 0h0m3 0h0m1 0h0m6 0h0m3 0h0m1 0h0m1 0h0m2 0h0m1 0h0m2 0h0m2 0h0m5 0h0m1 0h0m2 0h0m2 0h0m1 0h0m2 0h0m2 0h0m1 0h0m1 0h0m1 0h0m1 0h0m2 0h0m3 0h0m8 0h0m3 0h0m2 0h0m-149 1h0m1 0h0m10 0h0m1 0h0m2 0h0m2 0h0m1 0h0m2 0h0m4 0h0m2 0h0m1 0h0m1 0h0m2 0h0m2 0h0m1 0h0m3 0h0m2 0h0m1 0h0m1 0h0m1 0h0m2 0h0m1 0h0m2 0h0m1 0h0m3 0h0m3 0h0m3 0h0m1 0h0m1 0h0m1 0h0m1 0h0m1 0h0m1 0h0m1 0h0m2 0h0m1 0h0m1 0h0m1 0h0m4 0h0m6 0h0m4 0h0m1 0h0m2 0h0m3 0h0m1 0h0m1 0h0m1 0h0m2 0h0m1 0h0m1 0h0m1 0h0m1 0h0m1 0h0m1 0h0m7 0h0m1 0h0m3 0h0m1 0h0m4 0h0m3 0h0m2 0h0m4 0h0m2 0h0m2 0h0m1 0h0m2 0h0m5 0h0m4 0h0m2 0h0m10 0h0m-157 1h0m5 0h0m1 0h0m1 0h0m4 0h0m7 0h0m1 0h0m3 0h0m2 0h0m1 0h0m2 0h0m3 0h0m1 0h0m1 0h0m2 0h0m4 0h0m1 0h0m1 0h0m1 0h0m4 0h0m2 0h0m1 0h0m1 0h0m1 0h0m1 0h0m4 0h0m4 0h0m4 0h0m3 0h0m1 0h0m1 0h0m4 0h0m2 0h0m1 0h0m1 0h0m1 0h0m3 0h0m4 0h0m1 0h0m1 0h0m2 0h0m2 0h0m1 0h0m1 0h0m6 0h0m1 0h0m1 0h0m2 0h0m1 0h0m1 0h0m1 0h0m2 0h0m1 0h0m1 0h0m1 0h0m1 0h0m2 0h0m6 0h0m5 0h0m2 0h0m4 0h0m2 0h0m2 0h0m1 0h0m11 0h0m5 0h0m2 0h0m1 0h0m-155 1h0m1 0h0m3 0h0m7 0h0m1 0h0m2 0h0m2 0h0m2 0h0m1 0h0m2 0h0m1 0h0m2 0h0m3 0h0m1 0h0m5 0h0m4 0h0m1 0h0m1 0h0m1 0h0m1 0h0m1 0h0m1 0h0m1 0h0m2 0h0m2 0h0m2 0h0m2 0h0m1 0h0m1 0h0m2 0h0m3 0h0m1 0h0m1 0h0m2 0h0m2 0h0m2 0h0m1 0h0m1 0h0m3 0h0m1 0h0m1 0h0m1 0h0m3 0h0m1 0h0m1 0h0m1 0h0m1 0h0m2 0h0m1 0h0m1 0h0m1 0h0m2 0h0m3 0h0m2 0h0m1 0h0m1 0h0m2 0h0m1 0h0m2 0h0m1 0h0m5 0h0m1 0h0m1 0h0m3 0h0m4 0h0m2 0h0m1 0h0m3 0h0m7 0h0m1 0h0m1 0h0m1 0h0m2 0h0m1 0h0m3 0h0m3 0h0m4 0h0m1 0h0m6 0h0m3 0h0m-180 1h0m18 0h0m5 0h0m2 0h0m4 0h0m3 0h0m10 0h0m4 0h0m2 0h0m3 0h0m6 0h0m2 0h0m1 0h0m1 0h0m1 0h0m2 0h0m1 0h0m6 0h0m2 0h0m1 0h0m2 0h0m6 0h0m1 0h0m1 0h0m1 0h0m1 0h0m4 0h0m1 0h0m1 0h0m2 0h0m1 0h0m1 0h0m1 0h0m1 0h0m1 0h0m2 0h0m2 0h0m1 0h0m1 0h0m1 0h0m2 0h0m7 0h0m1 0h0m2 0h0m1 0h0m1 0h0m2 0h0m2 0h0m2 0h0m1 0h0m5 0h0m1 0h0m4 0h0m4 0h0m2 0h0m3 0h0m6 0h0m1 0h0m1 0h0m3 0h0m7 0h0m1 0h0m3 0h0m1 0h0m1 0h0m2 0h0m4 0h0m8 0h0m-160 1h0m1 0h0m3 0h0m2 0h0m2 0h0m2 0h0m2 0h0m1 0h0m3 0h0m4 0h0m2 0h0m2 0h0m1 0h0m2 0h0m2 0h0m2 0h0m2 0h0m1 0h0m1 0h0m3 0h0m1 0h0m1 0h0m1 0h0m1 0h0m2 0h0m1 0h0m1 0h0m1 0h0m1 0h0m1 0h0m1 0h0m1 0h0m1 0h0m1 0h0m1 0h0m1 0h0m4 0h0m1 0h0m1 0h0m1 0h0m2 0h0m1 0h0m1 0h0m6 0h0m2 0h0m2 0h0m3 0h0m4 0h0m3 0h0m2 0h0m1 0h0m2 0h0m5 0h0m2 0h0m1 0h0m3 0h0m2 0h0m2 0h0m1 0h0m5 0h0m1 0h0m1 0h0m3 0h0m1 0h0m4 0h0m1 0h0m3 0h0m2 0h0m2 0h0m9 0h0m1 0h0m1 0h0m1 0h0m5 0h0m5 0h0m2 0h0m6 0h0m2 0h0m-170 1h0m16 0h0m2 0h0m1 0h0m4 0h0m2 0h0m4 0h0m2 0h0m1 0h0m1 0h0m2 0h0m1 0h0m2 0h0m2 0h0m2 0h0m5 0h0m1 0h0m1 0h0m3 0h0m1 0h0m4 0h0m4 0h0m4 0h0m1 0h0m1 0h0m1 0h0m2 0h0m6 0h0m1 0h0m1 0h0m1 0h0m3 0h0m6 0h0m1 0h0m7 0h0m3 0h0m4 0h0m6 0h0m1 0h0m1 0h0m2 0h0m3 0h0m3 0h0m5 0h0m1 0h0m2 0h0m14 0h0m4 0h0m2 0h0m2 0h0m5 0h0m2 0h0m1 0h0m3 0h0m-163 1h0m3 0h0m4 0h0m5 0h0m3 0h0m2 0h0m1 0h0m1 0h0m4 0h0m2 0h0m1 0h0m2 0h0m1 0h0m1 0h0m3 0h0m1 0h0m2 0h0m3 0h0m1 0h0m1 0h0m2 0h0m2 0h0m1 0h0m3 0h0m4 0h0m3 0h0m1 0h0m4 0h0m3 0h0m2 0h0m2 0h0m2 0h0m2 0h0m6 0h0m1 0h0m3 0h0m1 0h0m1 0h0m4 0h0m1 0h0m6 0h0m7 0h0m3 0h0m12 0h0m9 0h0m2 0h0m3 0h0m1 0h0m6 0h0m1 0h0m3 0h0m6 0h0m5 0h0m1 0h0m4 0h0m6 0h0m11 0h0m-186 1h0m13 0h0m1 0h0m1 0h0m3 0h0m9 0h0m2 0h0m1 0h0m4 0h0m3 0h0m4 0h0m1 0h0m5 0h0m7 0h0m1 0h0m1 0h0m7 0h0m3 0h0m9 0h0m1 0h0m2 0h0m1 0h0m2 0h0m1 0h0m2 0h0m3 0h0m1 0h0m1 0h0m2 0h0m2 0h0m1 0h0m3 0h0m1 0h0m3 0h0m2 0h0m2 0h0m6 0h0m3 0h0m2 0h0m2 0h0m7 0h0m1 0h0m5 0h0m10 0h0m5 0h0m3 0h0m3 0h0m1 0h0m2 0h0m1 0h0m5 0h0m2 0h0m5 0h0m2 0h0m4 0h0m7 0h0m-180 1h0m2 0h0m7 0h0m6 0h0m3 0h0m1 0h0m8 0h0m1 0h0m1 0h0m2 0h0m2 0h0m5 0h0m3 0h0m1 0h0m1 0h0m1 0h0m1 0h0m9 0h0m1 0h0m2 0h0m1 0h0m3 0h0m4 0h0m2 0h0m5 0h0m1 0h0m3 0h0m1 0h0m1 0h0m2 0h0m1 0h0m2 0h0m1 0h0m2 0h0m1 0h0m12 0h0m3 0h0m1 0h0m1 0h0m2 0h0m1 0h0m4 0h0m3 0h0m9 0h0m11 0h0m1 0h0m6 0h0m2 0h0m10 0h0m3 0h0m4 0h0m6 0h0m2 0h0m2 0h0m3 0h0m6 0h0m-189 1h0m6 0h0m1 0h0m2 0h0m13 0h0m7 0h0m1 0h0m1 0h0m3 0h0m1 0h0m1 0h0m2 0h0m2 0h0m2 0h0m2 0h0m2 0h0m1 0h0m1 0h0m3 0h0m1 0h0m6 0h0m3 0h0m7 0h0m5 0h0m4 0h0m3 0h0m3 0h0m2 0h0m1 0h0m2 0h0m3 0h0m7 0h0m1 0h0m3 0h0m2 0h0m10 0h0m6 0h0m2 0h0m1 0h0m2 0h0m6 0h0m12 0h0m5 0h0m4 0h0m7 0h0m2 0h0m1 0h0m10 0h0m4 0h0m1 0h0m-171 1h0m1 0h0m3 0h0m1 0h0m3 0h0m1 0h0m8 0h0m6 0h0m5 0h0m2 0h0m1 0h0m2 0h0m7 0h0m4 0h0m3 0h0m3 0h0m3 0h0m5 0h0m1 0h0m1 0h0m2 0h0m4 0h0m5 0h0m2 0h0m4 0h0m1 0h0m9 0h0m4 0h0m2 0h0m2 0h0m7 0h0m2 0h0m1 0h0m3 0h0m2 0h0m8 0h0m1 0h0m11 0h0m1 0h0m2 0h0m1 0h0m1 0h0m2 0h0m5 0h0m12 0h0m4 0h0m1 0h0m2 0h0m1 0h0m1 0h0m-165 1h0m2 0h0m2 0h0m2 0h0m6 0h0m5 0h0m1 0h0m3 0h0m2 0h0m2 0h0m1 0h0m5 0h0m1 0h0m17 0h0m2 0h0m3 0h0m2 0h0m1 0h0m1 0h0m1 0h0m7 0h0m1 0h0m1 0h0m6 0h0m1 0h0m8 0h0m3 0h0m2 0h0m2 0h0m6 0h0m6 0h0m1 0h0m4 0h0m9 0h0m1 0h0m3 0h0m5 0h0m7 0h0m13 0h0m2 0h0m3 0h0m2 0h0m4 0h0m-157 1h0m1 0h0m3 0h0m1 0h0m2 0h0m1 0h0m1 0h0m2 0h0m1 0h0m7 0h0m2 0h0m3 0h0m2 0h0m1 0h0m2 0h0m1 0h0m3 0h0m1 0h0m5 0h0m5 0h0m1 0h0m4 0h0m1 0h0m1 0h0m1 0h0m2 0h0m6 0h0m8 0h0m4 0h0m3 0h0m7 0h0m1 0h0m2 0h0m4 0h0m2 0h0m3 0h0m34 0h0m10 0h0m1 0h0m2 0h0m11 0h0m10 0h0m25 0h0m-186 1h0m2 0h0m1 0h0m1 0h0m1 0h0m1 0h0m2 0h0m1 0h0m18 0h0m6 0h0m2 0h0m13 0h0m1 0h0m2 0h0m3 0h0m2 0h0m21 0h0m3 0h0m6 0h0m18 0h0m3 0h0m33 0h0m2 0h0m10 0h0m8 0h0m7 0h0m6 0h0m2 0h0m6 0h0m3 0h0m3 0h0m-192 1h0m1 0h0m2 0h0m1 0h0m2 0h0m1 0h0m1 0h0m1 0h0m1 0h0m1 0h0m1 0h0m1 0h0m2 0h0m1 0h0m1 0h0m3 0h0m1 0h0m17 0h0m2 0h0m5 0h0m11 0h0m3 0h0m6 0h0m12 0h0m5 0h0m11 0h0m34 0h0m5 0h0m7 0h0m1 0h0m6 0h0m32 0h0m-176 1h0m2 0h0m1 0h0m1 0h0m1 0h0m1 0h0m1 0h0m1 0h0m1 0h0m1 0h0m1 0h0m1 0h0m3 0h0m6 0h0m5 0h0m6 0h0m4 0h0m2 0h0m2 0h0m13 0h0m4 0h0m2 0h0m4 0h0m4 0h0m4 0h0m5 0h0m7 0h0m21 0h0m2 0h0m4 0h0m1 0h0m58 0h0m-170 1h0m1 0h0m1 0h0m2 0h0m1 0h0m1 0h0m1 0h0m1 0h0m1 0h0m1 0h0m1 0h0m1 0h0m1 0h0m1 0h0m25 0h0m7 0h0m2 0h0m1 0h0m16 0h0m5 0h0m52 0h0m49 0h0m-171 1h0m1 0h0m1 0h0m1 0h0m2 0h0m1 0h0m1 0h0m2 0h0m1 0h0m1 0h0m1 0h0m1 0h0m5 0h0m4 0h0m10 0h0m4 0h0m11 0h0m3 0h0m32 0h0m81 0h0m-162 1h0m1 0h0m1 0h0m1 0h0m1 0h0m1 0h0m1 0h0m1 0h0m1 0h0m1 0h0m1 0h0m1 0h0m2 0h0m2 0h0m20 0h0m3 0h0m51 0h0m30 0h0m20 0h0m13 0h0m-155 1h0m1 0h0m1 0h0m1 0h0m1 0h0m1 0h0m1 0h0m1 0h0m1 0h0m1 0h0m1 0h0m1 0h0m1 0h0m1 0h0m1 0h0m1 0h0m1 0h0m1 0h0m20 0h0m6 0h0m6 0h0m14 0h0m-63 1h0m2 0h0m1 0h0m1 0h0m1 0h0m1 0h0m1 0h0m1 0h0m1 0h0m1 0h0m1 0h0m1 0h0m1 0h0m1 0h0m1 0h0m2 0h0m1 0h0m25 0h0m2 0h0m119 0h0m-163 1h0m1 0h0m1 0h0m1 0h0m1 0h0m1 0h0m1 0h0m1 0h0m1 0h0m1 0h0m1 0h0m1 0h0m1 0h0m2 0h0m2 0h0m3 0h0m8 0h0m8 0h0m21 0h0m-56 1h0m1 0h0m1 0h0m1 0h0m1 0h0m1 0h0m1 0h0m1 0h0m1 0h0m1 0h0m1 0h0m1 0h0m1 0h0m4 0h0m-17 1h0m1 0h0m1 0h0m1 0h0m1 0h0m1 0h0m1 0h0m1 0h0m1 0h0m1 0h0m1 0h0m1 0h0m1 0h0m1 0h0m1 0h0m3 0h0m19 0h0m16 0h0m-54 1h0m3 0h0m1 0h0m1 0h0m1 0h0m1 0h0m1 0h0m1 0h0m1 0h0m1 0h0m1 0h0m1 0h0m2 0h0m1 0h0m1 0h0m1 0h0m2 0h0m-19 1h0m1 0h0m1 0h0m1 0h0m1 0h0m1 0h0m1 0h0m1 0h0m1 0h0m1 0h0m1 0h0m1 0h0m1 0h0m1 0h0m3 0h0m1 0h0m1 0h0m6 0h0m38 0h0m-60 1h0m1 0h0m2 0h0m1 0h0m1 0h0m1 0h0m1 0h0m1 0h0m1 0h0m1 0h0m2 0h0m1 0h0m1 0h0m1 0h0m-15 1h0m2 0h0m1 0h0m2 0h0m1 0h0m1 0h0m1 0h0m1 0h0m1 0h0m1 0h0m7 0h0m-18 1h0m3 0h0m1 0h0m1 0h0m1 0h0m1 0h0m3 0h0m132 0h0m-143 1h0m4 0h0m2 0h0m1 0h0m1 0h0m1 0h0m1 0h0m1 0h0m1 0h0m-12 1h0m2 0h0m1 0h0m1 0h0m3 0h0m1 0h0m1 0h0m2 0h0m5 0h0m-14 1h0m6 0h0m-4 1h0m2 0h0m-4 1h0" stroke="#000" stroke-width="1.5" stroke-linecap="square" fill="none"/>
<path d="M425 599.5h0m31 0h0m4 1h0m29 0h0m25 0h0m-60 2h0m53 1h0m-112 1h0m27 0h0m42 0h0m6 0h0m1 0h0m10 0h0m7 0h0m-49 1h0m6 0h0m6 0h0m14 0h0m11 0h0m1 0h0m43 0h0m-98 1h0m9 0h0m4 0h0m18 0h0m13 0h0m19 0h0m36 0h0m-103 1h0m5 0h0m3 0h0m9 0h0m10 0h0m1 0h0m3 0h0m11 0h0m2 0h0m23 0h0m11 0h0m-83 1h0m11 0h0m34 0h0m4 0h0m2 0h0m7 0h0m5 0h0m6 0h0m2 0h0m1 0h0m14 0h0m13 0h0m-101 1h0m8 0h0m1 0h0m15 0h0m13 0h0m4 0h0m2 0h0m1 0h0m6 0h0m1 0h0m6 0h0m7 0h0m2 0h0m10 0h0m3 0h0m3 0h0m13 0h0m1 0h0m3 0h0m1 0h0m-122 1h0m13 0h0m32 0h0m15 0h0m1 0h0m1 0h0m8 0h0m14 0h0m1 0h0m2 0h0m5 0h0m20 0h0m2 0h0m4 0h0m4 0h0m-121 1h0m21 0h0m4 0h0m5 0h0m4 0h0m14 0h0m2 0h0m9 0h0m9 0h0m3 0h0m1 0h0m3 0h0m7 0h0m1 0h0m3 0h0m5 0h0m2 0h0m1 0h0m33 0h0m1 0h0m15 0h0m-134 1h0m4 0h0m23 0h0m3 0h0m2 0h0m10 0h0m4 0h0m1 0h0m2 0h0m4 0h0m3 0h0m6 0h0m7 0h0m1 0h0m6 0h0m6 0h0m4 0h0m9 0h0m5 0h0m3 0h0m4 0h0m4 0h0m12 0h0m-121 1h0m4 0h0m2 0h0m7 0h0m13 0h0m6 0h0m1 0h0m1 0h0m1 0h0m5 0h0m13 0h0m1 0h0m3 0h0m8 0h0m2 0h0m1 0h0m1 0h0m11 0h0m3 0h0m2 0h0m2 0h0m7 0h0m11 0h0m21 0h0m1 0h0m-133 1h0m6 0h0m8 0h0m1 0h0m6 0h0m5 0h0m4 0h0m6 0h0m2 0h0m8 0h0m1 0h0m1 0h0m6 0h0m2 0h0m2 0h0m2 0h0m2 0h0m1 0h0m3 0h0m5 0h0m1 0h0m2 0h0m1 0h0m7 0h0m1 0h0m1 0h0m19 0h0m3 0h0m4 0h0m5 0h0m4 0h0m7 0h0m-139 1h0m6 0h0m7 0h0m2 0h0m3 0h0m9 0h0m10 0h0m9 0h0m4 0h0m1 0h0m6 0h0m5 0h0m1 0h0m2 0h0m9 0h0m1 0h0m11 0h0m16 0h0m1 0h0m3 0h0m1 0h0m2 0h0m36 0h0m-139 1h0m3 0h0m3 0h0m3 0h0m2 0h0m3 0h0m5 0h0m1 0h0m6 0h0m3 0h0m11 0h0m5 0h0m2 0h0m3 0h0m2 0h0m7 0h0m3 0h0m2 0h0m3 0h0m5 0h0m6 0h0m3 0h0m6 0h0m1 0h0m3 0h0m2 0h0m4 0h0m6 0h0m10 0h0m11 0h0m3 0h0m4 0h0m8 0h0m3 0h0m2 0h0m-158 1h0m26 0h0m3 0h0m9 0h0m2 0h0m9 0h0m1 0h0m3 0h0m1 0h0m3 0h0m3 0h0m2 0h0m3 0h0m4 0h0m2 0h0m3 0h0m1 0h0m3 0h0m2 0h0m2 0h0m1 0h0m7 0h0m1 0h0m2 0h0m1 0h0m2 0h0m2 0h0m1 0h0m4 0h0m2 0h0m24 0h0m14 0h0m22 0h0m-152 1h0m5 0h0m2 0h0m1 0h0m3 0h0m2 0h0m3 0h0m4 0h0m4 0h0m1 0h0m3 0h0m1 0h0m1 0h0m1 0h0m5 0h0m1 0h0m1 0h0m7 0h0m1 0h0m1 0h0m1 0h0m2 0h0m1 0h0m2 0h0m1 0h0m1 0h0m5 0h0m1 0h0m1 0h0m10 0h0m3 0h0m2 0h0m3 0h0m1 0h0m1 0h0m1 0h0m1 0h0m3 0h0m1 0h0m1 0h0m4 0h0m1 0h0m8 0h0m2 0h0m3 0h0m3 0h0m5 0h0m6 0h0m5 0h0m8 0h0m15 0h0m-153 1h0m4 0h0m9 0h0m3 0h0m2 0h0m4 0h0m3 0h0m1 0h0m5 0h0m2 0h0m3 0h0m2 0h0m1 0h0m1 0h0m1 0h0m3 0h0m2 0h0m5 0h0m1 0h0m1 0h0m1 0h0m2 0h0m1 0h0m1 0h0m3 0h0m1 0h0m2 0h0m2 0h0m1 0h0m3 0h0m1 0h0m1 0h0m2 0h0m2 0h0m4 0h0m2 0h0m2 0h0m1 0h0m1 0h0m2 0h0m1 0h0m2 0h0m7 0h0m1 0h0m12 0h0m3 0h0m10 0h0m2 0h0m9 0h0m-136 1h0m9 0h0m1 0h0m3 0h0m2 0h0m3 0h0m5 0h0m1 0h0m1 0h0m5 0h0m2 0h0m2 0h0m1 0h0m1 0h0m1 0h0m4 0h0m2 0h0m1 0h0m3 0h0m2 0h0m5 0h0m1 0h0m4 0h0m1 0h0m2 0h0m1 0h0m1 0h0m1 0h0m1 0h0m1 0h0m1 0h0m7 0h0m5 0h0m1 0h0m1 0h0m1 0h0m1 0h0m2 0h0m2 0h0m2 0h0m1 0h0m2 0h0m1 0h0m2 0h0m10 0h0m5 0h0m9 0h0m4 0h0m8 0h0m9 0h0m-151 1h0m7 0h0m9 0h0m3 0h0m1 0h0m3 0h0m5 0h0m2 0h0m2 0h0m3 0h0m1 0h0m1 0h0m9 0h0m1 0h0m3 0h0m3 0h0m2 0h0m1 0h0m2 0h0m1 0h0m4 0h0m2 0h0m1 0h0m1 0h0m3 0h0m2 0h0m2 0h0m1 0h0m3 0h0m1 0h0m1 0h0m1 0h0m1 0h0m2 0h0m2 0h0m2 0h0m1 0h0m1 0h0m12 0h0m2 0h0m4 0h0m1 0h0m3 0h0m1 0h0m8 0h0m11 0h0m1 0h0m1 0h0m9 0h0m16 0h0m-156 1h0m5 0h0m1 0h0m10 0h0m1 0h0m1 0h0m6 0h0m1 0h0m2 0h0m3 0h0m1 0h0m1 0h0m1 0h0m2 0h0m3 0h0m1 0h0m2 0h0m3 0h0m1 0h0m2 0h0m5 0h0m1 0h0m1 0h0m1 0h0m1 0h0m1 0h0m1 0h0m1 0h0m2 0h0m3 0h0m1 0h0m1 0h0m5 0h0m2 0h0m1 0h0m1 0h0m2 0h0m3 0h0m2 0h0m7 0h0m2 0h0m2 0h0m1 0h0m2 0h0m1 0h0m2 0h0m1 0h0m5 0h0m2 0h0m1 0h0m3 0h0m10 0h0m6 0h0m1 0h0m12 0h0m14 0h0m-153 1h0m3 0h0m4 0h0m3 0h0m6 0h0m1 0h0m1 0h0m6 0h0m1 0h0m2 0h0m5 0h0m1 0h0m1 0h0m1 0h0m1 0h0m1 0h0m1 0h0m3 0h0m1 0h0m2 0h0m2 0h0m1 0h0m3 0h0m1 0h0m1 0h0m1 0h0m4 0h0m1 0h0m2 0h0m2 0h0m2 0h0m1 0h0m3 0h0m1 0h0m4 0h0m2 0h0m5 0h0m2 0h0m2 0h0m1 0h0m6 0h0m11 0h0m2 0h0m2 0h0m2 0h0m1 0h0m4 0h0m1 0h0m1 0h0m1 0h0m9 0h0m6 0h0m5 0h0m8 0h0m3 0h0m-155 1h0m7 0h0m2 0h0m1 0h0m9 0h0m1 0h0m1 0h0m2 0h0m1 0h0m2 0h0m2 0h0m1 0h0m2 0h0m1 0h0m4 0h0m1 0h0m2 0h0m1 0h0m4 0h0m1 0h0m1 0h0m2 0h0m1 0h0m1 0h0m5 0h0m2 0h0m2 0h0m3 0h0m1 0h0m3 0h0m2 0h0m2 0h0m2 0h0m1 0h0m2 0h0m1 0h0m1 0h0m1 0h0m4 0h0m2 0h0m2 0h0m4 0h0m1 0h0m1 0h0m1 0h0m1 0h0m2 0h0m4 0h0m2 0h0m3 0h0m4 0h0m5 0h0m1 0h0m1 0h0m4 0h0m2 0h0m15 0h0m1 0h0m1 0h0m1 0h0m10 0h0m4 0h0m-146 1h0m1 0h0m2 0h0m4 0h0m8 0h0m1 0h0m2 0h0m1 0h0m1 0h0m1 0h0m2 0h0m2 0h0m1 0h0m2 0h0m1 0h0m2 0h0m1 0h0m1 0h0m1 0h0m2 0h0m3 0h0m10 0h0m1 0h0m1 0h0m1 0h0m2 0h0m2 0h0m4 0h0m3 0h0m1 0h0m2 0h0m1 0h0m1 0h0m1 0h0m1 0h0m1 0h0m1 0h0m4 0h0m5 0h0m3 0h0m2 0h0m3 0h0m2 0h0m1 0h0m1 0h0m1 0h0m1 0h0m7 0h0m3 0h0m2 0h0m5 0h0m2 0h0m8 0h0m9 0h0m5 0h0m-147 1h0m8 0h0m9 0h0m1 0h0m2 0h0m4 0h0m1 0h0m1 0h0m2 0h0m5 0h0m2 0h0m3 0h0m1 0h0m1 0h0m3 0h0m3 0h0m2 0h0m1 0h0m3 0h0m1 0h0m1 0h0m1 0h0m2 0h0m2 0h0m1 0h0m1 0h0m2 0h0m3 0h0m1 0h0m3 0h0m2 0h0m2 0h0m2 0h0m3 0h0m1 0h0m1 0h0m2 0h0m1 0h0m1 0h0m3 0h0m1 0h0m1 0h0m9 0h0m2 0h0m3 0h0m2 0h0m2 0h0m2 0h0m7 0h0m6 0h0m3 0h0m1 0h0m5 0h0m44 0h0m-180 1h0m9 0h0m2 0h0m4 0h0m2 0h0m2 0h0m3 0h0m6 0h0m1 0h0m1 0h0m1 0h0m3 0h0m3 0h0m1 0h0m1 0h0m1 0h0m1 0h0m1 0h0m1 0h0m3 0h0m1 0h0m3 0h0m5 0h0m2 0h0m2 0h0m1 0h0m2 0h0m1 0h0m2 0h0m9 0h0m6 0h0m4 0h0m3 0h0m1 0h0m4 0h0m1 0h0m1 0h0m1 0h0m2 0h0m1 0h0m7 0h0m5 0h0m7 0h0m13 0h0m7 0h0m4 0h0m13 0h0m-153 1h0m2 0h0m11 0h0m1 0h0m6 0h0m3 0h0m1 0h0m2 0h0m1 0h0m2 0h0m1 0h0m1 0h0m1 0h0m1 0h0m2 0h0m1 0h0m1 0h0m1 0h0m4 0h0m1 0h0m1 0h0m2 0h0m1 0h0m1 0h0m2 0h0m2 0h0m1 0h0m3 0h0m3 0h0m4 0h0m1 0h0m2 0h0m1 0h0m1 0h0m1 0h0m1 0h0m2 0h0m1 0h0m2 0h0m5 0h0m3 0h0m6 0h0m2 0h0m2 0h0m16 0h0m17 0h0m16 0h0m-131 1h0m4 0h0m6 0h0m1 0h0m2 0h0m1 0h0m2 0h0m1 0h0m2 0h0m1 0h0m3 0h0m1 0h0m2 0h0m1 0h0m10 0h0m1 0h0m1 0h0m1 0h0m1 0h0m4 0h0m3 0h0m2 0h0m5 0h0m1 0h0m6 0h0m3 0h0m3 0h0m1 0h0m3 0h0m2 0h0m3 0h0m1 0h0m2 0h0m3 0h0m8 0h0m14 0h0m2 0h0m1 0h0m1 0h0m8 0h0m8 0h0m19 0h0m-151 1h0m3 0h0m1 0h0m2 0h0m7 0h0m4 0h0m2 0h0m1 0h0m1 0h0m1 0h0m2 0h0m1 0h0m1 0h0m1 0h0m3 0h0m1 0h0m1 0h0m1 0h0m1 0h0m1 0h0m1 0h0m1 0h0m1 0h0m4 0h0m2 0h0m2 0h0m1 0h0m2 0h0m1 0h0m1 0h0m4 0h0m1 0h0m3 0h0m4 0h0m3 0h0m4 0h0m2 0h0m12 0h0m6 0h0m1 0h0m3 0h0m1 0h0m2 0h0m3 0h0m5 0h0m13 0h0m2 0h0m14 0h0m5 0h0m-143 1h0m6 0h0m3 0h0m3 0h0m1 0h0m2 0h0m1 0h0m3 0h0m2 0h0m1 0h0m1 0h0m1 0h0m2 0h0m1 0h0m1 0h0m1 0h0m2 0h0m2 0h0m1 0h0m2 0h0m1 0h0m5 0h0m2 0h0m2 0h0m3 0h0m5 0h0m1 0h0m2 0h0m1 0h0m3 0h0m3 0h0m2 0h0m1 0h0m2 0h0m2 0h0m1 0h0m1 0h0m1 0h0m2 0h0m7 0h0m6 0h0m1 0h0m5 0h0m7 0h0m13 0h0m5 0h0m43 0h0m-155 1h0m1 0h0m2 0h0m2 0h0m3 0h0m5 0h0m2 0h0m1 0h0m1 0h0m1 0h0m1 0h0m1 0h0m2 0h0m5 0h0m1 0h0m1 0h0m1 0h0m1 0h0m2 0h0m2 0h0m1 0h0m1 0h0m1 0h0m4 0h0m3 0h0m2 0h0m2 0h0m2 0h0m1 0h0m1 0h0m1 0h0m2 0h0m1 0h0m6 0h0m5 0h0m2 0h0m1 0h0m1 0h0m2 0h0m7 0h0m6 0h0m1 0h0m2 0h0m21 0h0m6 0h0m6 0h0m-128 1h0m3 0h0m8 0h0m3 0h0m1 0h0m1 0h0m2 0h0m1 0h0m5 0h0m3 0h0m1 0h0m2 0h0m1 0h0m1 0h0m1 0h0m1 0h0m1 0h0m1 0h0m2 0h0m4 0h0m1 0h0m2 0h0m1 0h0m3 0h0m1 0h0m1 0h0m4 0h0m3 0h0m1 0h0m1 0h0m1 0h0m1 0h0m3 0h0m5 0h0m1 0h0m7 0h0m3 0h0m16 0h0m3 0h0m15 0h0m38 0h0m8 0h0m-154 1h0m2 0h0m1 0h0m3 0h0m2 0h0m1 0h0m3 0h0m4 0h0m1 0h0m3 0h0m6 0h0m1 0h0m2 0h0m1 0h0m2 0h0m2 0h0m1 0h0m1 0h0m1 0h0m1 0h0m2 0h0m1 0h0m2 0h0m4 0h0m4 0h0m2 0h0m3 0h0m3 0h0m3 0h0m4 0h0m11 0h0m-86 1h0m8 0h0m2 0h0m1 0h0m3 0h0m3 0h0m2 0h0m2 0h0m1 0h0m1 0h0m1 0h0m1 0h0m3 0h0m5 0h0m2 0h0m2 0h0m1 0h0m1 0h0m1 0h0m3 0h0m1 0h0m3 0h0m9 0h0m2 0h0m2 0h0m1 0h0m17 0h0m6 0h0m2 0h0m24 0h0m1 0h0m-109 1h0m2 0h0m1 0h0m1 0h0m1 0h0m2 0h0m1 0h0m2 0h0m2 0h0m1 0h0m1 0h0m1 0h0m3 0h0m1 0h0m2 0h0m1 0h0m2 0h0m2 0h0m2 0h0m4 0h0m1 0h0m7 0h0m4 0h0m2 0h0m1 0h0m3 0h0m9 0h0m1 0h0m3 0h0m3 0h0m8 0h0m10 0h0m-83 1h0m8 0h0m2 0h0m8 0h0m1 0h0m2 0h0m1 0h0m2 0h0m5 0h0m3 0h0m2 0h0m1 0h0m3 0h0m4 0h0m3 0h0m2 0h0m6 0h0m9 0h0m4 0h0m18 0h0m-89 1h0m3 0h0m2 0h0m1 0h0m1 0h0m4 0h0m3 0h0m1 0h0m5 0h0m2 0h0m4 0h0m1 0h0m2 0h0m1 0h0m1 0h0m1 0h0m3 0h0m3 0h0m3 0h0m8 0h0m9 0h0m8 0h0m5 0h0m21 0h0m3 0h0m4 0h0m-97 1h0m1 0h0m3 0h0m2 0h0m2 0h0m1 0h0m2 0h0m1 0h0m2 0h0m4 0h0m1 0h0m3 0h0m2 0h0m8 0h0m2 0h0m5 0h0m5 0h0m22 0h0m17 0h0m-81 1h0m6 0h0m4 0h0m2 0h0m2 0h0m1 0h0m1 0h0m1 0h0m2 0h0m2 0h0m4 0h0m2 0h0m14 0h0m4 0h0m16 0h0m7 0h0m-69 1h0m4 0h0m4 0h0m8 0h0m2 0h0m2 0h0m12 0h0m2 0h0m1 0h0m1 0h0m4 0h0m1 0h0m1 0h0m9 0h0m2 0h0m5 0h0m1 0h0m14 0h0m-76 1h0m4 0h0m1 0h0m2 0h0m1 0h0m2 0h0m1 0h0m4 0h0m2 0h0m1 0h0m2 0h0m1 0h0m3 0h0m2 0h0m3 0h0m1 0h0m3 0h0m41 0h0m-73 1h0m1 0h0m3 0h0m1 0h0m3 0h0m2 0h0m1 0h0m7 0h0m1 0h0m2 0h0m9 0h0m2 0h0m4 0h0m2 0h0m2 0h0m3 0h0m16 0h0m2 0h0m11 0h0m-66 1h0m1 0h0m1 0h0m1 0h0m1 0h0m3 0h0m5 0h0m1 0h0m7 0h0m9 0h0m18 0h0m45 0h0m62 0h0m7 0h0m-168 1h0m6 0h0m1 0h0m5 0h0m4 0h0m13 0h0m7 0h0m1 0h0m5 0h0m39 0h0m34 0h0m8 0h0m44 0h0m-167 1h0m2 0h0m2 0h0m1 0h0m1 0h0m1 0h0m1 0h0m1 0h0m1 0h0m1 0h0m2 0h0m1 0h0m4 0h0m1 0h0m3 0h0m9 0h0m30 0h0m2 0h0m91 0h0m-155 1h0m1 0h0m3 0h0m2 0h0m2 0h0m1 0h0m2 0h0m5 0h0m2 0h0m10 0h0m10 0h0m2 0h0m92 0h0m50 0h0m-183 1h0m2 0h0m3 0h0m3 0h0m5 0h0m3 0h0m1 0h0m9 0h0m1 0h0m2 0h0m79 0h0m16 0h0m-122 1h0m1 0h0m1 0h0m1 0h0m3 0h0m2 0h0m2 0h0m1 0h0m5 0h0m1 0h0m4 0h0m3 0h0m1 0h0m53 0h0m21 0h0m22 0h0m3 0h0m-115 1h0m1 0h0m6 0h0m4 0h0m26 0h0m4 0h0m36 0h0m64 0h0m34 0h0m-182 1h0m5 0h0m4 0h0m3 0h0m2 0h0m3 0h0m6 0h0m12 0h0m15 0h0m4 0h0m80 0h0m30 0h0m1 0h0m7 0h0m9 0h0m-173 1h0m3 0h0m8 0h0m3 0h0m19 0h0m3 0h0m14 0h0m3 0h0m37 0h0m9 0h0m2 0h0m28 0h0m13 0h0m35 0h0m-185 1h0m10 0h0m42 0h0m12 0h0m48 0h0m2 0h0m2 0h0m4 0h0m14 0h0m6 0h0m5 0h0m44 0h0m-189 1h0m13 0h0m8 0h0m11 0h0m14 0h0m32 0h0m42 0h0m22 0h0m41 0h0m-180 1h0m13 0h0m5 0h0m2 0h0m2 0h0m10 0h0m2 0h0m11 0h0m38 0h0m10 0h0m9 0h0m11 0h0m9 0h0m3 0h0m17 0h0m14 0h0m4 0h0m7 0h0m1 0h0m3 0h0m15 0h0m-193 1h0m17 0h0m3 0h0m16 0h0m9 0h0m10 0h0m32 0h0m4 0h0m2 0h0m30 0h0m7 0h0m10 0h0m19 0h0m5 0h0m-156 1h0m3 0h0m3 0h0m64 0h0m10 0h0m7 0h0m27 0h0m2 0h0m21 0h0m1 0h0m7 0h0m-147 1h0m4 0h0m1 0h0m8 0h0m5 0h0m19 0h0m16 0h0m5 0h0m13 0h0m2 0h0m2 0h0m10 0h0m11 0h0m9 0h0m19 0h0m13 0h0m15 0h0m4 0h0m8 0h0m5 0h0m4 0h0m6 0h0m-182 1h0m3 0h0m9 0h0m27 0h0m17 0h0m10 0h0m4 0h0m38 0h0m5 0h0m4 0h0m16 0h0m1 0h0m8 0h0m5 0h0m2 0h0m1 0h0m3 0h0m4 0h0m1 0h0m10 0h0m2 0h0m16 0h0m-183 1h0m5 0h0m11 0h0m16 0h0m12 0h0m8 0h0m4 0h0m8 0h0m7 0h0m1 0h0m19 0h0m25 0h0m16 0h0m3 0h0m10 0h0m11 0h0m5 0h0m1 0h0m4 0h0m3 0h0m6 0h0m4 0h0m7 0h0m-181 1h0m26 0h0m12 0h0m14 0h0m2 0h0m27 0h0m7 0h0m30 0h0m3 0h0m2 0h0m9 0h0m25 0h0m2 0h0m9 0h0m3 0h0m5 0h0m-187 1h0m23 0h0m14 0h0m12 0h0m2 0h0m5 0h0m21 0h0m5 0h0m12 0h0m3 0h0m9 0h0m8 0h0m4 0h0m13 0h0m3 0h0m7 0h0m8 0h0m29 0h0m5 0h0m-173 1h0m2 0h0m7 0h0m6 0h0m4 0h0m21 0h0m40 0h0m9 0h0m6 0h0m11 0h0m14 0h0m1 0h0m17 0h0m10 0h0m9 0h0m2 0h0m1 0h0m2 0h0m2 0h0m5 0h0m8 0h0m1 0h0m2 0h0m-188 1h0m16 0h0m7 0h0m14 0h0m14 0h0m6 0h0m9 0h0m11 0h0m28 0h0m3 0h0m8 0h0m1 0h0m10 0h0m5 0h0m3 0h0m4 0h0m2 0h0m2 0h0m10 0h0m7 0h0m5 0h0m1 0h0m1 0h0m11 0h0m2 0h0m-178 1h0m5 0h0m3 0h0m11 0h0m6 0h0m17 0h0m35 0h0m15 0h0m2 0h0m7 0h0m12 0h0m15 0h0m1 0h0m2 0h0m2 0h0m5 0h0m5 0h0m12 0h0m4 0h0m5 0h0m3 0h0m2 0h0m8 0h0m3 0h0m-156 1h0m4 0h0m2 0h0m9 0h0m3 0h0m14 0h0m26 0h0m6 0h0m7 0h0m20 0h0m6 0h0m12 0h0m1 0h0m2 0h0m1 0h0m1 0h0m7 0h0m1 0h0m2 0h0m1 0h0m2 0h0m1 0h0m3 0h0m1 0h0m3 0h0m4 0h0m15 0h0m4 0h0m3 0h0m1 0h0m3 0h0m-175 1h0m18 0h0m4 0h0m11 0h0m9 0h0m8 0h0m12 0h0m20 0h0m5 0h0m9 0h0m17 0h0m14 0h0m5 0h0m4 0h0m2 0h0m2 0h0m1 0h0m6 0h0m3 0h0m8 0h0m13 0h0m3 0h0m-191 1h0m17 0h0m25 0h0m1 0h0m29 0h0m9 0h0m9 0h0m12 0h0m24 0h0m17 0h0m7 0h0m6 0h0m1 0h0m2 0h0m10 0h0m6 0h0m2 0h0m3 0h0m1 0h0m2 0h0m5 0h0m-185 1h0m3 0h0m20 0h0m38 0h0m4 0h0m10 0h0m1 0h0m1 0h0m11 0h0m1 0h0m1 0h0m13 0h0m15 0h0m5 0h0m1 0h0m13 0h0m9 0h0m4 0h0m1 0h0m3 0h0m1 0h0m7 0h0m1 0h0m3 0h0m3 0h0m-163 1h0m2 0h0m9 0h0m59 0h0m6 0h0m3 0h0m2 0h0m8 0h0m13 0h0m1 0h0m1 0h0m2 0h0m4 0h0m8 0h0m2 0h0m1 0h0m1 0h0m1 0h0m3 0h0m4 0h0m2 0h0m6 0h0m4 0h0m1 0h0m1 0h0m3 0h0m2 0h0m5 0h0m2 0h0m10 0h0m2 0h0m6 0h0m1 0h0m2 0h0m4 0h0m3 0h0m-179 1h0m36 0h0m2 0h0m28 0h0m2 0h0m1 0h0m2 0h0m8 0h0m7 0h0m1 0h0m3 0h0m14 0h0m5 0h0m5 0h0m3 0h0m3 0h0m2 0h0m2 0h0m2 0h0m4 0h0m2 0h0m1 0h0m8 0h0m1 0h0m1 0h0m3 0h0m1 0h0m5 0h0m1 0h0m6 0h0m5 0h0m3 0h0m11 0h0m1 0h0m1 0h0m-185 1h0m12 0h0m8 0h0m2 0h0m32 0h0m17 0h0m13 0h0m8 0h0m6 0h0m1 0h0m5 0h0m2 0h0m5 0h0m1 0h0m7 0h0m2 0h0m2 0h0m5 0h0m2 0h0m1 0h0m1 0h0m1 0h0m10 0h0m8 0h0m1 0h0m8 0h0m1 0h0m2 0h0m4 0h0m2 0h0m1 0h0m3 0h0m6 0h0m-182 1h0m13 0h0m2 0h0m20 0h0m12 0h0m15 0h0m7 0h0m9 0h0m8 0h0m2 0h0m2 0h0m5 0h0m5 0h0m2 0h0m2 0h0m2 0h0m1 0h0m1 0h0m6 0h0m3 0h0m1 0h0m2 0h0m4 0h0m2 0h0m1 0h0m13 0h0m1 0h0m5 0h0m5 0h0m2 0h0m2 0h0m3 0h0m2 0h0m3 0h0m4 0h0m1 0h0m3 0h0m3 0h0m4 0h0m2 0h0m2 0h0m-146 1h0m1 0h0m13 0h0m5 0h0m5 0h0m5 0h0m2 0h0m1 0h0m5 0h0m6 0h0m3 0h0m2 0h0m1 0h0m5 0h0m6 0h0m7 0h0m1 0h0m1 0h0m1 0h0m2 0h0m4 0h0m1 0h0m1 0h0m6 0h0m2 0h0m1 0h0m3 0h0m3 0h0m2 0h0m1 0h0m3 0h0m1 0h0m1 0h0m1 0h0m1 0h0m2 0h0m1 0h0m1 0h0m1 0h0m1 0h0m2 0h0m1 0h0m7 0h0m4 0h0m1 0h0m1 0h0m3 0h0m2 0h0m2 0h0m2 0h0m2 0h0m1 0h0m10 0h0m1 0h0m-134 1h0m4 0h0m2 0h0m1 0h0m1 0h0m8 0h0m10 0h0m2 0h0m2 0h0m2 0h0m1 0h0m5 0h0m7 0h0m1 0h0m2 0h0m1 0h0m2 0h0m2 0h0m4 0h0m3 0h0m8 0h0m2 0h0m3 0h0m1 0h0m1 0h0m2 0h0m1 0h0m3 0h0m4 0h0m3 0h0m1 0h0m2 0h0m1 0h0m4 0h0m1 0h0m2 0h0m2 0h0m1 0h0m2 0h0m2 0h0m2 0h0m1 0h0m1 0h0m1 0h0m4 0h0m4 0h0m2 0h0m1 0h0m1 0h0m3 0h0m1 0h0m5 0h0m2 0h0m-158 1h0m22 0h0m3 0h0m2 0h0m3 0h0m1 0h0m6 0h0m3 0h0m3 0h0m10 0h0m2 0h0m4 0h0m8 0h0m1 0h0m1 0h0m6 0h0m1 0h0m5 0h0m1 0h0m1 0h0m1 0h0m1 0h0m1 0h0m1 0h0m1 0h0m1 0h0m1 0h0m1 0h0m4 0h0m1 0h0m1 0h0m2 0h0m1 0h0m2 0h0m1 0h0m2 0h0m1 0h0m2 0h0m1 0h0m1 0h0m1 0h0m2 0h0m1 0h0m2 0h0m1 0h0m1 0h0m2 0h0m1 0h0m2 0h0m2 0h0m1 0h0m1 0h0m2 0h0m7 0h0m1 0h0m3 0h0m1 0h0m1 0h0m4 0h0m1 0h0m5 0h0m3 0h0m7 0h0m-155 1h0m7 0h0m10 0h0m7 0h0m2 0h0m1 0h0m1 0h0m4 0h0m1 0h0m8 0h0m4 0h0m4 0h0m1 0h0m4 0h0m1 0h0m3 0h0m1 0h0m1 0h0m2 0h0m4 0h0m1 0h0m2 0h0m1 0h0m2 0h0m2 0h0m2 0h0m1 0h0m3 0h0m1 0h0m4 0h0m5 0h0m1 0h0m2 0h0m2 0h0m2 0h0m1 0h0m4 0h0m2 0h0m1 0h0m1 0h0m1 0h0m1 0h0m1 0h0m1 0h0m1 0h0m1 0h0m1 0h0m1 0h0m3 0h0m2 0h0m1 0h0m2 0h0m1 0h0m1 0h0m2 0h0m4 0h0m1 0h0m4 0h0m4 0h0m1 0h0m1 0h0m2 0h0m1 0h0m2 0h0m5 0h0m1 0h0m-163 1h0m10 0h0m12 0h0m12 0h0m6 0h0m6 0h0m4 0h0m2 0h0m2 0h0m2 0h0m5 0h0m1 0h0m3 0h0m4 0h0m1 0h0m1 0h0m5 0h0m1 0h0m5 0h0m2 0h0m1 0h0m6 0h0m1 0h0m1 0h0m4 0h0m1 0h0m5 0h0m1 0h0m1 0h0m1 0h0m1 0h0m2 0h0m2 0h0m2 0h0m2 0h0m2 0h0m2 0h0m3 0h0m2 0h0m2 0h0m1 0h0m2 0h0m2 0h0m5 0h0m4 0h0m1 0h0m2 0h0m1 0h0m1 0h0m5 0h0m4 0h0m1 0h0m-171 1h0m25 0h0m7 0h0m1 0h0m2 0h0m3 0h0m1 0h0m1 0h0m1 0h0m1 0h0m6 0h0m2 0h0m1 0h0m2 0h0m4 0h0m7 0h0m1 0h0m1 0h0m7 0h0m1 0h0m1 0h0m1 0h0m2 0h0m4 0h0m2 0h0m2 0h0m1 0h0m2 0h0m3 0h0m1 0h0m1 0h0m3 0h0m2 0h0m1 0h0m1 0h0m1 0h0m1 0h0m3 0h0m1 0h0m1 0h0m3 0h0m2 0h0m1 0h0m3 0h0m1 0h0m1 0h0m2 0h0m1 0h0m1 0h0m1 0h0m1 0h0m1 0h0m1 0h0m1 0h0m1 0h0m1 0h0m1 0h0m1 0h0m3 0h0m1 0h0m1 0h0m4 0h0m5 0h0m5 0h0m1 0h0m2 0h0m4 0h0m3 0h0m1 0h0m3 0h0m3 0h0m1 0h0m10 0h0m-155 1h0m1 0h0m8 0h0m7 0h0m4 0h0m3 0h0m1 0h0m2 0h0m2 0h0m2 0h0m2 0h0m1 0h0m1 0h0m1 0h0m2 0h0m2 0h0m5 0h0m4 0h0m1 0h0m3 0h0m2 0h0m6 0h0m5 0h0m1 0h0m1 0h0m2 0h0m1 0h0m2 0h0m2 0h0m2 0h0m1 0h0m1 0h0m3 0h0m1 0h0m1 0h0m1 0h0m1 0h0m1 0h0m6 0h0m1 0h0m4 0h0m5 0h0m3 0h0m2 0h0m1 0h0m1 0h0m2 0h0m1 0h0m1 0h0m3 0h0m2 0h0m2 0h0m1 0h0m2 0h0m1 0h0m1 0h0m1 0h0m2 0h0m1 0h0m1 0h0m1 0h0m1 0h0m4 0h0m2 0h0m1 0h0m1 0h0m3 0h0m2 0h0m4 0h0m2 0h0m5 0h0m-152 1h0m10 0h0m4 0h0m2 0h0m2 0h0m1 0h0m5 0h0m1 0h0m2 0h0m1 0h0m4 0h0m1 0h0m3 0h0m2 0h0m1 0h0m6 0h0m1 0h0m1 0h0m1 0h0m2 0h0m1 0h0m1 0h0m3 0h0m3 0h0m1 0h0m3 0h0m1 0h0m1 0h0m1 0h0m1 0h0m3 0h0m1 0h0m1 0h0m1 0h0m4 0h0m1 0h0m1 0h0m2 0h0m1 0h0m1 0h0m2 0h0m1 0h0m1 0h0m1 0h0m1 0h0m2 0h0m2 0h0m1 0h0m2 0h0m1 0h0m1 0h0m1 0h0m1 0h0m2 0h0m1 0h0m1 0h0m2 0h0m1 0h0m2 0h0m1 0h0m1 0h0m1 0h0m1 0h0m3 0h0m2 0h0m1 0h0m2 0h0m4 0h0m1 0h0m1 0h0m1 0h0m2 0h0m1 0h0m2 0h0m1 0h0m1 0h0m12 0h0m7 0h0m1 0h0m-184 1h0m7 0h0m4 0h0m23 0h0m8 0h0m5 0h0m1 0h0m1 0h0m4 0h0m1 0h0m1 0h0m1 0h0m1 0h0m1 0h0m3 0h0m3 0h0m3 0h0m2 0h0m1 0h0m4 0h0m3 0h0m3 0h0m1 0h0m1 0h0m1 0h0m1 0h0m1 0h0m1 0h0m3 0h0m2 0h0m4 0h0m1 0h0m1 0h0m2 0h0m2 0h0m1 0h0m1 0h0m1 0h0m1 0h0m2 0h0m1 0h0m1 0h0m1 0h0m3 0h0m1 0h0m1 0h0m1 0h0m1 0h0m3 0h0m2 0h0m2 0h0m1 0h0m2 0h0m1 0h0m1 0h0m2 0h0m4 0h0m2 0h0m2 0h0m1 0h0m1 0h0m1 0h0m1 0h0m1 0h0m1 0h0m1 0h0m1 0h0m2 0h0m3 0h0m2 0h0m2 0h0m1 0h0m1 0h0m5 0h0m5 0h0m4 0h0m1 0h0m1 0h0m4 0h0m1 0h0m2 0h0m-160 1h0m7 0h0m1 0h0m1 0h0m2 0h0m3 0h0m1 0h0m1 0h0m2 0h0m1 0h0m3 0h0m1 0h0m1 0h0m1 0h0m2 0h0m3 0h0m1 0h0m2 0h0m1 0h0m1 0h0m2 0h0m1 0h0m1 0h0m2 0h0m2 0h0m1 0h0m1 0h0m2 0h0m1 0h0m1 0h0m1 0h0m3 0h0m1 0h0m1 0h0m2 0h0m2 0h0m3 0h0m1 0h0m1 0h0m2 0h0m1 0h0m1 0h0m1 0h0m3 0h0m4 0h0m2 0h0m2 0h0m4 0h0m1 0h0m2 0h0m1 0h0m2 0h0m3 0h0m1 0h0m1 0h0m1 0h0m1 0h0m2 0h0m1 0h0m1 0h0m1 0h0m2 0h0m2 0h0m1 0h0m4 0h0m1 0h0m1 0h0m1 0h0m1 0h0m4 0h0m1 0h0m1 0h0m2 0h0m1 0h0m6 0h0m6 0h0m2 0h0m1 0h0m1 0h0m3 0h0m2 0h0m1 0h0m6 0h0m2 0h0m1 0h0m5 0h0m3 0h0m-174 1h0m11 0h0m1 0h0m1 0h0m1 0h0m2 0h0m2 0h0m3 0h0m2 0h0m6 0h0m1 0h0m1 0h0m2 0h0m3 0h0m1 0h0m1 0h0m2 0h0m1 0h0m2 0h0m1 0h0m1 0h0m2 0h0m1 0h0m4 0h0m1 0h0m1 0h0m4 0h0m1 0h0m4 0h0m1 0h0m1 0h0m1 0h0m5 0h0m1 0h0m1 0h0m1 0h0m1 0h0m1 0h0m1 0h0m1 0h0m2 0h0m1 0h0m1 0h0m2 0h0m1 0h0m1 0h0m1 0h0m1 0h0m1 0h0m2 0h0m2 0h0m1 0h0m1 0h0m1 0h0m1 0h0m2 0h0m2 0h0m2 0h0m1 0h0m1 0h0m1 0h0m1 0h0m2 0h0m1 0h0m1 0h0m1 0h0m3 0h0m2 0h0m1 0h0m1 0h0m1 0h0m3 0h0m1 0h0m1 0h0m1 0h0m2 0h0m1 0h0m1 0h0m2 0h0m1 0h0m1 0h0m2 0h0m3 0h0m1 0h0m1 0h0m1 0h0m2 0h0m3 0h0m7 0h0m3 0h0m5 0h0m4 0h0m-169 1h0m6 0h0m5 0h0m1 0h0m2 0h0m2 0h0m1 0h0m2 0h0m1 0h0m7 0h0m1 0h0m3 0h0m1 0h0m4 0h0m1 0h0m3 0h0m2 0h0m2 0h0m3 0h0m3 0h0m1 0h0m1 0h0m1 0h0m1 0h0m1 0h0m1 0h0m1 0h0m1 0h0m1 0h0m1 0h0m1 0h0m1 0h0m3 0h0m2 0h0m1 0h0m1 0h0m1 0h0m2 0h0m2 0h0m1 0h0m2 0h0m1 0h0m1 0h0m2 0h0m5 0h0m1 0h0m1 0h0m1 0h0m1 0h0m1 0h0m1 0h0m1 0h0m2 0h0m2 0h0m3 0h0m2 0h0m2 0h0m1 0h0m1 0h0m1 0h0m1 0h0m2 0h0m1 0h0m3 0h0m3 0h0m1 0h0m1 0h0m1 0h0m1 0h0m1 0h0m1 0h0m1 0h0m1 0h0m3 0h0m2 0h0m1 0h0m1 0h0m2 0h0m2 0h0m1 0h0m1 0h0m2 0h0m1 0h0m1 0h0m1 0h0m3 0h0m1 0h0m2 0h0m3 0h0m5 0h0m1 0h0m1 0h0m1 0h0m1 0h0m1 0h0m3 0h0m4 0h0m5 0h0m2 0h0m1 0h0m-171 1h0m4 0h0m1 0h0m3 0h0m3 0h0m1 0h0m2 0h0m2 0h0m1 0h0m2 0h0m3 0h0m2 0h0m1 0h0m5 0h0m3 0h0m4 0h0m3 0h0m1 0h0m3 0h0m1 0h0m2 0h0m2 0h0m1 0h0m1 0h0m1 0h0m1 0h0m2 0h0m1 0h0m1 0h0m1 0h0m1 0h0m1 0h0m1 0h0m1 0h0m2 0h0m1 0h0m4 0h0m1 0h0m1 0h0m1 0h0m1 0h0m1 0h0m3 0h0m1 0h0m1 0h0m2 0h0m1 0h0m2 0h0m1 0h0m1 0h0m2 0h0m2 0h0m3 0h0m1 0h0m1 0h0m2 0h0m2 0h0m1 0h0m1 0h0m1 0h0m3 0h0m1 0h0m1 0h0m2 0h0m1 0h0m1 0h0m2 0h0m1 0h0m1 0h0m2 0h0m1 0h0m1 0h0m1 0h0m1 0h0m2 0h0m2 0h0m2 0h0m4 0h0m2 0h0m2 0h0m1 0h0m3 0h0m3 0h0m3 0h0m4 0h0m2 0h0m3 0h0m8 0h0m3 0h0m1 0h0m-174 1h0m4 0h0m4 0h0m1 0h0m1 0h0m2 0h0m6 0h0m1 0h0m2 0h0m2 0h0m1 0h0m3 0h0m1 0h0m1 0h0m3 0h0m2 0h0m2 0h0m1 0h0m3 0h0m1 0h0m1 0h0m1 0h0m2 0h0m1 0h0m2 0h0m1 0h0m3 0h0m1 0h0m1 0h0m1 0h0m1 0h0m3 0h0m1 0h0m2 0h0m2 0h0m1 0h0m1 0h0m2 0h0m1 0h0m2 0h0m1 0h0m6 0h0m4 0h0m3 0h0m2 0h0m2 0h0m1 0h0m1 0h0m2 0h0m1 0h0m2 0h0m3 0h0m1 0h0m1 0h0m2 0h0m1 0h0m2 0h0m1 0h0m1 0h0m1 0h0m1 0h0m1 0h0m2 0h0m1 0h0m1 0h0m1 0h0m2 0h0m1 0h0m3 0h0m2 0h0m1 0h0m1 0h0m1 0h0m2 0h0m2 0h0m1 0h0m2 0h0m2 0h0m1 0h0m3 0h0m1 0h0m2 0h0m4 0h0m3 0h0m2 0h0m3 0h0m2 0h0m3 0h0m1 0h0m2 0h0m2 0h0m1 0h0m3 0h0m3 0h0m-175 1h0m6 0h0m2 0h0m8 0h0m1 0h0m3 0h0m4 0h0m3 0h0m2 0h0m3 0h0m4 0h0m2 0h0m2 0h0m2 0h0m2 0h0m1 0h0m1 0h0m3 0h0m1 0h0m6 0h0m3 0h0m2 0h0m1 0h0m1 0h0m1 0h0m1 0h0m3 0h0m1 0h0m2 0h0m1 0h0m1 0h0m1 0h0m2 0h0m2 0h0m2 0h0m3 0h0m3 0h0m2 0h0m1 0h0m1 0h0m1 0h0m1 0h0m2 0h0m1 0h0m1 0h0m1 0h0m1 0h0m1 0h0m1 0h0m1 0h0m1 0h0m1 0h0m1 0h0m2 0h0m1 0h0m1 0h0m1 0h0m1 0h0m1 0h0m2 0h0m2 0h0m1 0h0m1 0h0m1 0h0m1 0h0m2 0h0m3 0h0m2 0h0m3 0h0m2 0h0m4 0h0m1 0h0m2 0h0m1 0h0m1 0h0m1 0h0m2 0h0m1 0h0m4 0h0m1 0h0m1 0h0m1 0h0m4 0h0m4 0h0m1 0h0m1 0h0m1 0h0m5 0h0m1 0h0m2 0h0m3 0h0m1 0h0m1 0h0m5 0h0m-167 1h0m2 0h0m4 0h0m5 0h0m3 0h0m4 0h0m1 0h0m3 0h0m1 0h0m1 0h0m1 0h0m1 0h0m1 0h0m1 0h0m3 0h0m1 0h0m2 0h0m1 0h0m1 0h0m1 0h0m2 0h0m2 0h0m1 0h0m1 0h0m1 0h0m2 0h0m1 0h0m2 0h0m1 0h0m1 0h0m1 0h0m1 0h0m2 0h0m1 0h0m1 0h0m1 0h0m1 0h0m1 0h0m3 0h0m1 0h0m1 0h0m2 0h0m1 0h0m1 0h0m1 0h0m2 0h0m1 0h0m2 0h0m2 0h0m1 0h0m1 0h0m1 0h0m1 0h0m1 0h0m3 0h0m1 0h0m2 0h0m1 0h0m1 0h0m1 0h0m1 0h0m4 0h0m2 0h0m1 0h0m1 0h0m1 0h0m1 0h0m1 0h0m1 0h0m1 0h0m3 0h0m1 0h0m2 0h0m1 0h0m3 0h0m1 0h0m1 0h0m1 0h0m1 0h0m2 0h0m1 0h0m2 0h0m2 0h0m3 0h0m3 0h0m1 0h0m2 0h0m1 0h0m1 0h0m1 0h0m5 0h0m2 0h0m1 0h0m2 0h0m1 0h0m8 0h0m1 0h0m2 0h0m3 0h0m5 0h0m-174 1h0m1 0h0m1 0h0m4 0h0m2 0h0m4 0h0m1 0h0m3 0h0m2 0h0m1 0h0m1 0h0m4 0h0m2 0h0m3 0h0m1 0h0m2 0h0m2 0h0m3 0h0m1 0h0m1 0h0m1 0h0m1 0h0m1 0h0m3 0h0m1 0h0m1 0h0m2 0h0m1 0h0m3 0h0m1 0h0m1 0h0m1 0h0m1 0h0m1 0h0m2 0h0m7 0h0m2 0h0m2 0h0m2 0h0m1 0h0m4 0h0m1 0h0m4 0h0m1 0h0m2 0h0m1 0h0m1 0h0m3 0h0m2 0h0m3 0h0m1 0h0m1 0h0m2 0h0m3 0h0m1 0h0m1 0h0m1 0h0m1 0h0m2 0h0m2 0h0m5 0h0m2 0h0m2 0h0m1 0h0m1 0h0m2 0h0m2 0h0m3 0h0m3 0h0m1 0h0m1 0h0m1 0h0m2 0h0m1 0h0m3 0h0m1 0h0m1 0h0m1 0h0m1 0h0m1 0h0m2 0h0m2 0h0m1 0h0m2 0h0m1 0h0m1 0h0m5 0h0m2 0h0m4 0h0m1 0h0m-175 1h0m4 0h0m9 0h0m4 0h0m2 0h0m3 0h0m3 0h0m1 0h0m1 0h0m1 0h0m2 0h0m1 0h0m1 0h0m3 0h0m4 0h0m3 0h0m1 0h0m1 0h0m1 0h0m2 0h0m2 0h0m1 0h0m1 0h0m4 0h0m1 0h0m1 0h0m2 0h0m2 0h0m1 0h0m2 0h0m1 0h0m1 0h0m1 0h0m1 0h0m1 0h0m1 0h0m1 0h0m1 0h0m1 0h0m3 0h0m1 0h0m1 0h0m2 0h0m1 0h0m1 0h0m1 0h0m1 0h0m1 0h0m1 0h0m1 0h0m1 0h0m1 0h0m2 0h0m1 0h0m2 0h0m1 0h0m1 0h0m1 0h0m3 0h0m4 0h0m1 0h0m2 0h0m2 0h0m2 0h0m3 0h0m1 0h0m2 0h0m2 0h0m1 0h0m1 0h0m3 0h0m1 0h0m1 0h0m2 0h0m1 0h0m1 0h0m1 0h0m3 0h0m5 0h0m2 0h0m2 0h0m1 0h0m5 0h0m4 0h0m4 0h0m4 0h0m2 0h0m8 0h0m1 0h0m3 0h0m2 0h0m1 0h0m-176 1h0m2 0h0m7 0h0m2 0h0m1 0h0m4 0h0m1 0h0m2 0h0m1 0h0m2 0h0m9 0h0m4 0h0m1 0h0m1 0h0m1 0h0m1 0h0m1 0h0m2 0h0m1 0h0m1 0h0m1 0h0m1 0h0m1 0h0m2 0h0m2 0h0m1 0h0m1 0h0m1 0h0m1 0h0m2 0h0m2 0h0m1 0h0m1 0h0m2 0h0m3 0h0m1 0h0m2 0h0m2 0h0m2 0h0m1 0h0m1 0h0m1 0h0m1 0h0m2 0h0m2 0h0m2 0h0m1 0h0m1 0h0m1 0h0m1 0h0m1 0h0m1 0h0m1 0h0m2 0h0m2 0h0m2 0h0m3 0h0m4 0h0m2 0h0m1 0h0m2 0h0m5 0h0m1 0h0m4 0h0m1 0h0m4 0h0m2 0h0m3 0h0m1 0h0m8 0h0m11 0h0m15 0h0m1 0h0m1 0h0m2 0h0m4 0h0m-171 1h0m6 0h0m1 0h0m3 0h0m5 0h0m3 0h0m1 0h0m2 0h0m1 0h0m1 0h0m2 0h0m2 0h0m1 0h0m3 0h0m1 0h0m1 0h0m1 0h0m1 0h0m1 0h0m2 0h0m1 0h0m1 0h0m1 0h0m1 0h0m2 0h0m1 0h0m1 0h0m1 0h0m4 0h0m3 0h0m4 0h0m2 0h0m1 0h0m2 0h0m2 0h0m1 0h0m1 0h0m5 0h0m1 0h0m2 0h0m1 0h0m1 0h0m2 0h0m1 0h0m4 0h0m1 0h0m1 0h0m2 0h0m2 0h0m1 0h0m1 0h0m5 0h0m1 0h0m1 0h0m2 0h0m2 0h0m2 0h0m1 0h0m1 0h0m3 0h0m1 0h0m3 0h0m2 0h0m2 0h0m2 0h0m1 0h0m1 0h0m1 0h0m1 0h0m5 0h0m2 0h0m1 0h0m1 0h0m1 0h0m1 0h0m2 0h0m2 0h0m5 0h0m1 0h0m1 0h0m1 0h0m1 0h0m5 0h0m2 0h0m5 0h0m1 0h0m1 0h0m2 0h0m7 0h0m1 0h0m1 0h0m3 0h0m-172 1h0m4 0h0m1 0h0m2 0h0m1 0h0m2 0h0m3 0h0m4 0h0m1 0h0m2 0h0m6 0h0m1 0h0m1 0h0m1 0h0m1 0h0m1 0h0m7 0h0m1 0h0m3 0h0m1 0h0m1 0h0m2 0h0m1 0h0m1 0h0m10 0h0m2 0h0m2 0h0m1 0h0m1 0h0m1 0h0m1 0h0m5 0h0m1 0h0m4 0h0m3 0h0m6 0h0m5 0h0m1 0h0m3 0h0m1 0h0m1 0h0m1 0h0m1 0h0m2 0h0m1 0h0m1 0h0m2 0h0m2 0h0m4 0h0m2 0h0m1 0h0m1 0h0m3 0h0m4 0h0m1 0h0m1 0h0m3 0h0m1 0h0m1 0h0m2 0h0m5 0h0m1 0h0m5 0h0m1 0h0m5 0h0m1 0h0m1 0h0m4 0h0m2 0h0m4 0h0m3 0h0m2 0h0m1 0h0m1 0h0m-187 1h0m6 0h0m2 0h0m4 0h0m2 0h0m11 0h0m1 0h0m6 0h0m2 0h0m1 0h0m4 0h0m1 0h0m1 0h0m1 0h0m1 0h0m2 0h0m6 0h0m1 0h0m5 0h0m1 0h0m2 0h0m2 0h0m3 0h0m1 0h0m1 0h0m2 0h0m2 0h0m2 0h0m1 0h0m11 0h0m8 0h0m4 0h0m2 0h0m3 0h0m4 0h0m10 0h0m6 0h0m3 0h0m3 0h0m8 0h0m2 0h0m1 0h0m4 0h0m2 0h0m3 0h0m4 0h0m1 0h0m3 0h0m4 0h0m5 0h0m1 0h0m1 0h0m1 0h0m1 0h0m2 0h0m3 0h0m2 0h0m1 0h0m10 0h0m3 0h0m3 0h0m-185 1h0m6 0h0m3 0h0m1 0h0m6 0h0m1 0h0m4 0h0m2 0h0m5 0h0m1 0h0m4 0h0m4 0h0m2 0h0m2 0h0m1 0h0m2 0h0m3 0h0m2 0h0m1 0h0m2 0h0m6 0h0m3 0h0m5 0h0m1 0h0m2 0h0m1 0h0m1 0h0m1 0h0m6 0h0m3 0h0m5 0h0m1 0h0m2 0h0m4 0h0m2 0h0m4 0h0m2 0h0m3 0h0m5 0h0m1 0h0m1 0h0m1 0h0m4 0h0m4 0h0m7 0h0m4 0h0m1 0h0m13 0h0m3 0h0m1 0h0m3 0h0m4 0h0m1 0h0m3 0h0m9 0h0m2 0h0m12 0h0m-184 1h0m7 0h0m4 0h0m2 0h0m1 0h0m1 0h0m1 0h0m2 0h0m14 0h0m15 0h0m2 0h0m1 0h0m1 0h0m3 0h0m1 0h0m1 0h0m1 0h0m2 0h0m1 0h0m1 0h0m1 0h0m3 0h0m1 0h0m1 0h0m1 0h0m15 0h0m1 0h0m1 0h0m4 0h0m4 0h0m2 0h0m1 0h0m2 0h0m1 0h0m5 0h0m3 0h0m10 0h0m1 0h0m6 0h0m5 0h0m14 0h0m11 0h0m3 0h0m8 0h0m5 0h0m3 0h0m-178 1h0m1 0h0m4 0h0m1 0h0m1 0h0m1 0h0m1 0h0m1 0h0m1 0h0m2 0h0m4 0h0m6 0h0m1 0h0m2 0h0m2 0h0m2 0h0m3 0h0m3 0h0m2 0h0m1 0h0m2 0h0m5 0h0m6 0h0m2 0h0m5 0h0m2 0h0m5 0h0m2 0h0m1 0h0m2 0h0m11 0h0m3 0h0m2 0h0m2 0h0m12 0h0m1 0h0m9 0h0m11 0h0m6 0h0m9 0h0m1 0h0m13 0h0m2 0h0m7 0h0m10 0h0m4 0h0m1 0h0m-177 1h0m3 0h0m3 0h0m1 0h0m1 0h0m1 0h0m1 0h0m2 0h0m2 0h0m1 0h0m4 0h0m6 0h0m2 0h0m3 0h0m4 0h0m3 0h0m3 0h0m2 0h0m2 0h0m5 0h0m1 0h0m1 0h0m6 0h0m3 0h0m2 0h0m2 0h0m5 0h0m11 0h0m5 0h0m2 0h0m6 0h0m2 0h0m2 0h0m10 0h0m2 0h0m4 0h0m15 0h0m3 0h0m1 0h0m2 0h0m9 0h0m1 0h0m10 0h0m6 0h0m4 0h0m1 0h0m3 0h0m1 0h0m3 0h0m7 0h0m13 0h0m-191 1h0m1 0h0m1 0h0m1 0h0m1 0h0m1 0h0m2 0h0m1 0h0m2 0h0m3 0h0m4 0h0m3 0h0m3 0h0m5 0h0m6 0h0m1 0h0m6 0h0m10 0h0m1 0h0m6 0h0m7 0h0m7 0h0m4 0h0m2 0h0m7 0h0m5 0h0m8 0h0m4 0h0m3 0h0m4 0h0m10 0h0m7 0h0m5 0h0m3 0h0m1 0h0m3 0h0m2 0h0m1 0h0m9 0h0m12 0h0m8 0h0m5 0h0m10 0h0m1 0h0m7 0h0m-195 1h0m2 0h0m3 0h0m1 0h0m1 0h0m1 0h0m1 0h0m1 0h0m2 0h0m6 0h0m10 0h0m1 0h0m2 0h0m1 0h0m1 0h0m2 0h0m4 0h0m2 0h0m7 0h0m1 0h0m2 0h0m5 0h0m1 0h0m1 0h0m1 0h0m1 0h0m4 0h0m2 0h0m2 0h0m14 0h0m3 0h0m4 0h0m1 0h0m2 0h0m9 0h0m3 0h0m21 0h0m12 0h0m4 0h0m5 0h0m3 0h0m10 0h0m5 0h0m13 0h0m13 0h0m-190 1h0m2 0h0m1 0h0m1 0h0m1 0h0m2 0h0m1 0h0m1 0h0m1 0h0m1 0h0m3 0h0m1 0h0m4 0h0m2 0h0m5 0h0m2 0h0m7 0h0m4 0h0m5 0h0m2 0h0m16 0h0m2 0h0m4 0h0m2 0h0m3 0h0m13 0h0m11 0h0m1 0h0m9 0h0m53 0h0m7 0h0m15 0h0m-185 1h0m3 0h0m1 0h0m1 0h0m1 0h0m1 0h0m1 0h0m1 0h0m1 0h0m1 0h0m1 0h0m1 0h0m1 0h0m3 0h0m1 0h0m9 0h0m11 0h0m9 0h0m1 0h0m3 0h0m21 0h0m9 0h0m2 0h0m23 0h0m2 0h0m2 0h0m18 0h0m1 0h0m9 0h0m8 0h0m10 0h0m3 0h0m3 0h0m3 0h0m3 0h0m8 0h0m-174 1h0m2 0h0m1 0h0m1 0h0m1 0h0m1 0h0m1 0h0m1 0h0m1 0h0m1 0h0m1 0h0m1 0h0m1 0h0m1 0h0m1 0h0m1 0h0m7 0h0m8 0h0m2 0h0m6 0h0m8 0h0m3 0h0m7 0h0m7 0h0m12 0h0m20 0h0m43 0h0m3 0h0m8 0h0m6 0h0m3 0h0m-161 1h0m1 0h0m1 0h0m1 0h0m1 0h0m1 0h0m1 0h0m1 0h0m1 0h0m1 0h0m1 0h0m1 0h0m1 0h0m1 0h0m1 0h0m1 0h0m1 0h0m1 0h0m6 0h0m9 0h0m7 0h0m2 0h0m7 0h0m2 0h0m5 0h0m27 0h0m6 0h0m12 0h0m2 0h0m5 0h0m16 0h0m31 0h0m1 0h0m-154 1h0m1 0h0m1 0h0m1 0h0m1 0h0m1 0h0m1 0h0m1 0h0m1 0h0m1 0h0m1 0h0m1 0h0m1 0h0m1 0h0m1 0h0m1 0h0m1 0h0m10 0h0m12 0h0m19 0h0m15 0h0m6 0h0m6 0h0m3 0h0m15 0h0m4 0h0m65 0h0m-172 1h0m2 0h0m1 0h0m1 0h0m1 0h0m1 0h0m1 0h0m1 0h0m1 0h0m1 0h0m1 0h0m1 0h0m1 0h0m1 0h0m1 0h0m4 0h0m7 0h0m1 0h0m1 0h0m7 0h0m2 0h0m1 0h0m2 0h0m19 0h0m67 0h0m20 0h0m45 0h0m3 0h0m-192 1h0m1 0h0m1 0h0m1 0h0m1 0h0m1 0h0m1 0h0m1 0h0m1 0h0m1 0h0m1 0h0m1 0h0m2 0h0m3 0h0m3 0h0m28 0h0m4 0h0m28 0h0m1 0h0m68 0h0m43 0h0m-192 1h0m1 0h0m1 0h0m1 0h0m1 0h0m1 0h0m1 0h0m1 0h0m1 0h0m1 0h0m1 0h0m1 0h0m1 0h0m2 0h0m1 0h0m4 0h0m79 0h0m-99 1h0m1 0h0m1 0h0m1 0h0m1 0h0m1 0h0m1 0h0m1 0h0m1 0h0m1 0h0m1 0h0m1 0h0m2 0h0m1 0h0m1 0h0m1 0h0m2 0h0m-18 1h0m1 0h0m1 0h0m1 0h0m1 0h0m1 0h0m1 0h0m1 0h0m1 0h0m1 0h0m1 0h0m1 0h0m1 0h0m2 0h0m1 0h0m1 0h0m7 0h0m-24 1h0m1 0h0m1 0h0m1 0h0m1 0h0m1 0h0m1 0h0m1 0h0m1 0h0m1 0h0m1 0h0m1 0h0m1 0h0m1 0h0m1 0h0m4 0h0m6 0h0m-23 1h0m1 0h0m1 0h0m1 0h0m1 0h0m1 0h0m1 0h0m1 0h0m1 0h0m1 0h0m1 0h0m1 0h0m1 0h0m19 0h0m-30 1h0m2 0h0m1 0h0m1 0h0m1 0h0m1 0h0m1 0h0m1 0h0m1 0h0m1 0h0m1 0h0m1 0h0m1 0h0m52 0h0m-65 1h0m1 0h0m1 0h0m1 0h0m1 0h0m1 0h0m1 0h0m1 0h0m1 0h0m1 0h0m1 0h0m3 0h0m-13 1h0m1 0h0m2 0h0m1 0h0m1 0h0m1 0h0m1 0h0m1 0h0m1 0h0m1 0h0m1 0h0m5 0h0m1 0h0m3 0h0m-21 1h0m3 0h0m1 0h0m1 0h0m1 0h0m1 0h0m1 0h0m1 0h0m1 0h0m-9 1h0m3 0h0m1 0h0m3 0h0m1 0h0m2 0h0m1 0h0m-11 1h0m2 0h0m1 0h0m1 0h0m1 0h0m1 0h0m1 0h0m1 0h0m2 0h0m-9 1h0m2 0h0m1 0h0m1 0h0m1 0h0m1 0h0m1 0h0m1 0h0m1 0h0m1 0h0m-9 1h0m1 0h0m2 0h0m1 0h0m1 0h0m-9 1h0m5 0h0m1 0h0m5 0h0m2 0h0m-11 1h0m2 0h0m1 0h0m1 0h0m2 0h0m7 0h0m-9 1h0m2 0h0m6 0h0m-5 1h0m-6 1h0m1 0h0m1 0h0m5 0h0" stroke="#000" stroke-width="1.5" stroke-linecap="square" fill="none"/>
<path d="M97.6,1073.6L98.0,1072.2L98.8,1070.4L99.8,1068.5L101.1,1066.4L102.6,1064.3L104.4,1062.2L106.4,1059.9L108.6,1057.5L110.9,1055.3L113.2,1053.2L115.5,1051.4L117.9,1049.7L120.4,1048.2L122.9,1046.8L125.4,1045.5L127.9,1044.3L130.4,1043.3L133.0,1042.4L135.4,1041.6L137.8,1040.8L140.1,1040.2L142.3,1039.7L144.5,1039.3L146.6,1038.8L148.9,1038.4L151.1,1037.8L153.4,1037.3L155.8,1036.8L158.1,1036.2L160.4,1035.7L162.7,1035.2L165.0,1034.7L167.2,1034.3L169.5,1033.9L172.0,1033.6L174.9,1033.4L178.1,1033.2L181.3,1033.2L184.0,1033.3L186.0,1033.5L187.2,1034.0L187.9,1034.8L188.1,1035.6L187.7,1036.6L186.8,1037.5L185.0,1038.4L182.5,1039.4L179.6,1040.4L176.6,1041.5L174.0,1042.4L171.8,1043.2L169.7,1044.0L167.7,1044.7L165.6,1045.5L163.6,1046.3L161.4,1047.2L159.2,1048.1L156.9,1049.1L154.7,1050.0L152.5,1050.8L150.4,1051.6L148.4,1052.2L146.3,1052.8L144.2,1053.5L142.2,1054.2L140.0,1054.9L137.9,1055.6L135.7,1056.4L133.6,1057.2L131.4,1058.1L129.3,1059.1L127.2,1060.1L125.1,1061.3L123.0,1062.5L120.8,1063.8L118.5,1065.3L116.2,1066.9L113.8,1068.6L111.5,1070.3L109.4,1071.7L107.3,1073.0L105.3,1074.2L103.4,1075.2L101.8,1076.0L100.4,1076.4L99.3,1076.4L98.5,1076.1L97.9,1075.5L97.5,1074.7Z" fill="#000"/>
<path d="M288 994.5h0m-7 6h0m-4 3h0m15 0h0m-32 1h0m30 1h0m-44 1h0m24 0h0m13 0h0m6 0h0m5 0h0m1 0h0m-48 1h0m25 0h0m1 0h0m3 0h0m12 0h0m3 0h0m4 0h0m-88 1h0m62 0h0m18 0h0m-25 1h0m7 0h0m3 0h0m3 0h0m2 0h0m5 0h0m-41 1h0m5 0h0m14 0h0m5 0h0m5 0h0m2 0h0m6 0h0m1 0h0m13 0h0m-49 1h0m15 0h0m3 0h0m21 0h0m7 0h0m2 0h0m-43 1h0m12 0h0m4 0h0m26 0h0m-52 1h0m15 0h0m8 0h0m1 0h0m5 0h0m4 0h0m13 0h0m4 0h0m1 0h0m-85 1h0m5 0h0m21 0h0m7 0h0m4 0h0m12 0h0m4 0h0m9 0h0m25 0h0m1 0h0m-68 1h0m5 0h0m9 0h0m1 0h0m2 0h0m10 0h0m2 0h0m1 0h0m1 0h0m3 0h0m6 0h0m13 0h0m-48 1h0m1 0h0m3 0h0m14 0h0m1 0h0m4 0h0m11 0h0m7 0h0m6 0h0m-84 1h0m19 0h0m1 0h0m5 0h0m5 0h0m20 0h0m3 0h0m5 0h0m16 0h0m2 0h0m3 0h0m-83 1h0m15 0h0m1 0h0m3 0h0m1 0h0m2 0h0m8 0h0m7 0h0m13 0h0m1 0h0m1 0h0m2 0h0m7 0h0m1 0h0m17 0h0m1 0h0m25 0h0m-117 1h0m16 0h0m2 0h0m5 0h0m6 0h0m22 0h0m-62 1h0m15 0h0m3 0h0m1 0h0m2 0h0m5 0h0m3 0h0m1 0h0m1 0h0m1 0h0m2 0h0m1 0h0m6 0h0m1 0h0m3 0h0m17 0h0m2 0h0m16 0h0m1 0h0m5 0h0m3 0h0m5 0h0m8 0h0m5 0h0m-89 1h0m6 0h0m2 0h0m5 0h0m3 0h0m1 0h0m3 0h0m6 0h0m1 0h0m18 0h0m3 0h0m4 0h0m7 0h0m22 0h0m25 0h0m-145 1h0m6 0h0m26 0h0m9 0h0m7 0h0m1 0h0m5 0h0m1 0h0m3 0h0m1 0h0m3 0h0m5 0h0m4 0h0m7 0h0m1 0h0m1 0h0m5 0h0m1 0h0m1 0h0m3 0h0m1 0h0m4 0h0m4 0h0m5 0h0m16 0h0m24 0h0m-106 1h0m2 0h0m1 0h0m1 0h0m2 0h0m4 0h0m2 0h0m9 0h0m1 0h0m2 0h0m3 0h0m2 0h0m1 0h0m2 0h0m1 0h0m6 0h0m5 0h0m6 0h0m1 0h0m3 0h0m1 0h0m-101 1h0m27 0h0m8 0h0m1 0h0m12 0h0m5 0h0m8 0h0m3 0h0m4 0h0m1 0h0m5 0h0m7 0h0m9 0h0m7 0h0m-66 1h0m8 0h0m2 0h0m6 0h0m9 0h0m2 0h0m1 0h0m2 0h0m2 0h0m6 0h0m1 0h0m1 0h0m1 0h0m2 0h0m1 0h0m7 0h0m2 0h0m2 0h0m9 0h0m3 0h0m5 0h0m7 0h0m13 0h0m-106 1h0m2 0h0m8 0h0m12 0h0m3 0h0m12 0h0m6 0h0m2 0h0m1 0h0m3 0h0m1 0h0m1 0h0m3 0h0m1 0h0m3 0h0m2 0h0m1 0h0m1 0h0m1 0h0m6 0h0m5 0h0m36 0h0m-140 1h0m34 0h0m4 0h0m2 0h0m1 0h0m8 0h0m1 0h0m2 0h0m1 0h0m3 0h0m1 0h0m2 0h0m2 0h0m1 0h0m2 0h0m2 0h0m1 0h0m1 0h0m1 0h0m1 0h0m1 0h0m1 0h0m1 0h0m1 0h0m1 0h0m1 0h0m2 0h0m1 0h0m2 0h0m1 0h0m2 0h0m1 0h0m3 0h0m8 0h0m3 0h0m-81 1h0m8 0h0m8 0h0m1 0h0m5 0h0m2 0h0m5 0h0m1 0h0m3 0h0m5 0h0m2 0h0m5 0h0m4 0h0m1 0h0m1 0h0m1 0h0m1 0h0m1 0h0m1 0h0m1 0h0m1 0h0m3 0h0m2 0h0m1 0h0m1 0h0m1 0h0m1 0h0m2 0h0m1 0h0m2 0h0m2 0h0m1 0h0m9 0h0m1 0h0m3 0h0m8 0h0m2 0h0m-117 1h0m18 0h0m3 0h0m1 0h0m13 0h0m8 0h0m4 0h0m2 0h0m2 0h0m2 0h0m1 0h0m3 0h0m1 0h0m1 0h0m3 0h0m2 0h0m1 0h0m4 0h0m5 0h0m5 0h0m3 0h0m1 0h0m1 0h0m5 0h0m2 0h0m1 0h0m1 0h0m10 0h0m5 0h0m1 0h0m-84 1h0m4 0h0m1 0h0m2 0h0m4 0h0m6 0h0m1 0h0m1 0h0m1 0h0m3 0h0m4 0h0m2 0h0m1 0h0m1 0h0m2 0h0m1 0h0m2 0h0m1 0h0m1 0h0m1 0h0m3 0h0m1 0h0m1 0h0m1 0h0m1 0h0m1 0h0m2 0h0m1 0h0m3 0h0m1 0h0m3 0h0m1 0h0m1 0h0m1 0h0m2 0h0m1 0h0m8 0h0m3 0h0m1 0h0m4 0h0m3 0h0m18 0h0m-106 1h0m10 0h0m6 0h0m1 0h0m1 0h0m4 0h0m5 0h0m2 0h0m1 0h0m5 0h0m8 0h0m1 0h0m2 0h0m6 0h0m2 0h0m1 0h0m1 0h0m1 0h0m1 0h0m1 0h0m3 0h0m2 0h0m2 0h0m2 0h0m1 0h0m1 0h0m1 0h0m1 0h0m1 0h0m1 0h0m7 0h0m9 0h0m11 0h0m14 0h0m37 0h0m-165 1h0m13 0h0m8 0h0m2 0h0m2 0h0m1 0h0m1 0h0m3 0h0m3 0h0m2 0h0m3 0h0m5 0h0m1 0h0m2 0h0m1 0h0m3 0h0m2 0h0m1 0h0m1 0h0m1 0h0m6 0h0m1 0h0m2 0h0m1 0h0m1 0h0m1 0h0m2 0h0m1 0h0m2 0h0m3 0h0m1 0h0m1 0h0m1 0h0m2 0h0m2 0h0m1 0h0m2 0h0m1 0h0m1 0h0m12 0h0m-94 1h0m8 0h0m1 0h0m2 0h0m1 0h0m3 0h0m1 0h0m3 0h0m1 0h0m1 0h0m1 0h0m3 0h0m1 0h0m1 0h0m1 0h0m2 0h0m1 0h0m1 0h0m1 0h0m1 0h0m2 0h0m2 0h0m3 0h0m1 0h0m2 0h0m1 0h0m1 0h0m1 0h0m2 0h0m1 0h0m2 0h0m1 0h0m1 0h0m2 0h0m2 0h0m3 0h0m1 0h0m3 0h0m1 0h0m1 0h0m1 0h0m1 0h0m4 0h0m2 0h0m3 0h0m2 0h0m2 0h0m1 0h0m2 0h0m21 0h0m-104 1h0m12 0h0m2 0h0m7 0h0m2 0h0m1 0h0m1 0h0m2 0h0m1 0h0m1 0h0m2 0h0m3 0h0m2 0h0m1 0h0m1 0h0m1 0h0m3 0h0m2 0h0m2 0h0m1 0h0m1 0h0m1 0h0m2 0h0m1 0h0m1 0h0m3 0h0m3 0h0m1 0h0m2 0h0m2 0h0m11 0h0m1 0h0m2 0h0m1 0h0m2 0h0m1 0h0m1 0h0m26 0h0m-120 1h0m3 0h0m1 0h0m2 0h0m8 0h0m5 0h0m3 0h0m1 0h0m2 0h0m2 0h0m1 0h0m3 0h0m1 0h0m1 0h0m2 0h0m1 0h0m2 0h0m1 0h0m1 0h0m1 0h0m1 0h0m1 0h0m1 0h0m1 0h0m1 0h0m1 0h0m1 0h0m1 0h0m1 0h0m2 0h0m1 0h0m1 0h0m2 0h0m3 0h0m1 0h0m1 0h0m1 0h0m1 0h0m2 0h0m1 0h0m1 0h0m1 0h0m1 0h0m1 0h0m2 0h0m3 0h0m1 0h0m1 0h0m1 0h0m2 0h0m3 0h0m3 0h0m4 0h0m2 0h0m14 0h0m-101 1h0m4 0h0m3 0h0m3 0h0m3 0h0m1 0h0m1 0h0m2 0h0m3 0h0m1 0h0m1 0h0m1 0h0m2 0h0m2 0h0m1 0h0m1 0h0m2 0h0m2 0h0m3 0h0m3 0h0m1 0h0m3 0h0m1 0h0m1 0h0m1 0h0m3 0h0m2 0h0m1 0h0m1 0h0m1 0h0m5 0h0m3 0h0m1 0h0m1 0h0m1 0h0m1 0h0m1 0h0m1 0h0m2 0h0m2 0h0m1 0h0m2 0h0m2 0h0m1 0h0m1 0h0m3 0h0m-87 1h0m3 0h0m4 0h0m2 0h0m7 0h0m4 0h0m2 0h0m2 0h0m2 0h0m1 0h0m1 0h0m1 0h0m2 0h0m2 0h0m1 0h0m2 0h0m1 0h0m2 0h0m3 0h0m1 0h0m1 0h0m1 0h0m2 0h0m3 0h0m1 0h0m1 0h0m1 0h0m1 0h0m1 0h0m4 0h0m1 0h0m1 0h0m1 0h0m1 0h0m1 0h0m4 0h0m1 0h0m2 0h0m1 0h0m2 0h0m1 0h0m2 0h0m1 0h0m1 0h0m5 0h0m2 0h0m1 0h0m3 0h0m-78 1h0m3 0h0m2 0h0m1 0h0m3 0h0m1 0h0m1 0h0m1 0h0m1 0h0m1 0h0m1 0h0m1 0h0m4 0h0m3 0h0m2 0h0m1 0h0m1 0h0m1 0h0m2 0h0m1 0h0m1 0h0m1 0h0m1 0h0m1 0h0m1 0h0m2 0h0m1 0h0m2 0h0m1 0h0m2 0h0m2 0h0m1 0h0m1 0h0m1 0h0m1 0h0m6 0h0m1 0h0m1 0h0m1 0h0m1 0h0m3 0h0m1 0h0m2 0h0m1 0h0m1 0h0m4 0h0m7 0h0m-96 1h0m9 0h0m1 0h0m2 0h0m3 0h0m4 0h0m2 0h0m1 0h0m1 0h0m2 0h0m5 0h0m1 0h0m3 0h0m1 0h0m3 0h0m2 0h0m1 0h0m1 0h0m1 0h0m1 0h0m1 0h0m1 0h0m2 0h0m2 0h0m1 0h0m2 0h0m3 0h0m1 0h0m2 0h0m5 0h0m1 0h0m2 0h0m4 0h0m1 0h0m1 0h0m1 0h0m1 0h0m2 0h0m2 0h0m2 0h0m2 0h0m1 0h0m4 0h0m2 0h0m2 0h0m1 0h0m4 0h0m13 0h0m-103 1h0m4 0h0m1 0h0m2 0h0m1 0h0m2 0h0m1 0h0m1 0h0m4 0h0m2 0h0m2 0h0m1 0h0m1 0h0m1 0h0m1 0h0m3 0h0m1 0h0m2 0h0m2 0h0m1 0h0m1 0h0m1 0h0m2 0h0m1 0h0m1 0h0m1 0h0m1 0h0m1 0h0m2 0h0m4 0h0m1 0h0m1 0h0m2 0h0m2 0h0m1 0h0m1 0h0m1 0h0m1 0h0m1 0h0m1 0h0m4 0h0m2 0h0m2 0h0m1 0h0m1 0h0m2 0h0m1 0h0m2 0h0m1 0h0m6 0h0m7 0h0m-104 1h0m10 0h0m5 0h0m2 0h0m5 0h0m4 0h0m1 0h0m4 0h0m3 0h0m1 0h0m2 0h0m1 0h0m2 0h0m3 0h0m1 0h0m1 0h0m1 0h0m1 0h0m1 0h0m2 0h0m2 0h0m1 0h0m1 0h0m1 0h0m1 0h0m1 0h0m1 0h0m1 0h0m1 0h0m2 0h0m2 0h0m1 0h0m1 0h0m1 0h0m1 0h0m1 0h0m2 0h0m1 0h0m1 0h0m1 0h0m2 0h0m3 0h0m2 0h0m1 0h0m4 0h0m2 0h0m4 0h0m1 0h0m-88 1h0m2 0h0m2 0h0m1 0h0m2 0h0m4 0h0m2 0h0m3 0h0m2 0h0m1 0h0m2 0h0m2 0h0m1 0h0m1 0h0m3 0h0m2 0h0m1 0h0m1 0h0m1 0h0m2 0h0m1 0h0m1 0h0m2 0h0m1 0h0m1 0h0m1 0h0m2 0h0m3 0h0m1 0h0m1 0h0m1 0h0m1 0h0m1 0h0m1 0h0m1 0h0m1 0h0m1 0h0m2 0h0m1 0h0m1 0h0m1 0h0m1 0h0m2 0h0m2 0h0m1 0h0m2 0h0m1 0h0m1 0h0m1 0h0m2 0h0m3 0h0m3 0h0m2 0h0m1 0h0m4 0h0m1 0h0m4 0h0m2 0h0m4 0h0m22 0h0m-119 1h0m3 0h0m1 0h0m3 0h0m2 0h0m1 0h0m2 0h0m1 0h0m2 0h0m1 0h0m2 0h0m2 0h0m4 0h0m1 0h0m1 0h0m3 0h0m1 0h0m1 0h0m1 0h0m1 0h0m1 0h0m2 0h0m2 0h0m1 0h0m4 0h0m1 0h0m1 0h0m1 0h0m2 0h0m1 0h0m1 0h0m2 0h0m3 0h0m1 0h0m1 0h0m1 0h0m2 0h0m1 0h0m1 0h0m4 0h0m3 0h0m2 0h0m3 0h0m1 0h0m1 0h0m2 0h0m1 0h0m1 0h0m14 0h0m3 0h0m-99 1h0m5 0h0m3 0h0m7 0h0m1 0h0m1 0h0m1 0h0m1 0h0m1 0h0m1 0h0m1 0h0m2 0h0m2 0h0m1 0h0m3 0h0m1 0h0m1 0h0m1 0h0m2 0h0m1 0h0m1 0h0m1 0h0m1 0h0m2 0h0m1 0h0m1 0h0m1 0h0m2 0h0m1 0h0m2 0h0m1 0h0m1 0h0m1 0h0m2 0h0m1 0h0m2 0h0m3 0h0m1 0h0m1 0h0m1 0h0m2 0h0m6 0h0m1 0h0m1 0h0m3 0h0m4 0h0m1 0h0m6 0h0m5 0h0m9 0h0m-118 1h0m17 0h0m1 0h0m2 0h0m2 0h0m2 0h0m1 0h0m2 0h0m1 0h0m1 0h0m2 0h0m1 0h0m1 0h0m1 0h0m1 0h0m3 0h0m1 0h0m1 0h0m1 0h0m2 0h0m1 0h0m2 0h0m1 0h0m3 0h0m1 0h0m4 0h0m2 0h0m1 0h0m1 0h0m1 0h0m1 0h0m1 0h0m1 0h0m1 0h0m1 0h0m2 0h0m1 0h0m1 0h0m1 0h0m1 0h0m1 0h0m1 0h0m2 0h0m1 0h0m1 0h0m2 0h0m1 0h0m2 0h0m1 0h0m1 0h0m1 0h0m3 0h0m1 0h0m2 0h0m2 0h0m2 0h0m4 0h0m7 0h0m9 0h0m6 0h0m8 0h0m23 0h0m-134 1h0m2 0h0m4 0h0m1 0h0m2 0h0m1 0h0m3 0h0m1 0h0m3 0h0m1 0h0m1 0h0m2 0h0m1 0h0m2 0h0m1 0h0m1 0h0m1 0h0m1 0h0m2 0h0m2 0h0m2 0h0m3 0h0m5 0h0m1 0h0m1 0h0m1 0h0m1 0h0m1 0h0m2 0h0m3 0h0m1 0h0m4 0h0m2 0h0m1 0h0m4 0h0m1 0h0m8 0h0m2 0h0m1 0h0m1 0h0m1 0h0m1 0h0m1 0h0m1 0h0m16 0h0m-101 1h0m1 0h0m4 0h0m1 0h0m1 0h0m3 0h0m1 0h0m3 0h0m1 0h0m3 0h0m3 0h0m3 0h0m2 0h0m1 0h0m1 0h0m2 0h0m1 0h0m1 0h0m2 0h0m1 0h0m3 0h0m3 0h0m1 0h0m2 0h0m1 0h0m1 0h0m1 0h0m2 0h0m2 0h0m1 0h0m2 0h0m2 0h0m1 0h0m2 0h0m5 0h0m3 0h0m3 0h0m1 0h0m2 0h0m1 0h0m1 0h0m4 0h0m8 0h0m1 0h0m-93 1h0m10 0h0m2 0h0m1 0h0m1 0h0m1 0h0m1 0h0m2 0h0m1 0h0m3 0h0m1 0h0m1 0h0m1 0h0m1 0h0m1 0h0m2 0h0m2 0h0m2 0h0m2 0h0m3 0h0m2 0h0m2 0h0m2 0h0m2 0h0m1 0h0m1 0h0m2 0h0m1 0h0m3 0h0m1 0h0m1 0h0m2 0h0m2 0h0m5 0h0m1 0h0m1 0h0m6 0h0m3 0h0m4 0h0m3 0h0m13 0h0m-100 1h0m12 0h0m2 0h0m2 0h0m3 0h0m1 0h0m1 0h0m1 0h0m2 0h0m4 0h0m1 0h0m2 0h0m1 0h0m1 0h0m2 0h0m1 0h0m1 0h0m2 0h0m1 0h0m1 0h0m1 0h0m1 0h0m1 0h0m1 0h0m1 0h0m2 0h0m2 0h0m1 0h0m1 0h0m1 0h0m3 0h0m4 0h0m1 0h0m1 0h0m1 0h0m2 0h0m1 0h0m7 0h0m2 0h0m1 0h0m2 0h0m5 0h0m2 0h0m5 0h0m9 0h0m-101 1h0m9 0h0m1 0h0m3 0h0m2 0h0m1 0h0m2 0h0m2 0h0m1 0h0m1 0h0m5 0h0m2 0h0m2 0h0m1 0h0m6 0h0m1 0h0m1 0h0m5 0h0m1 0h0m1 0h0m1 0h0m2 0h0m1 0h0m2 0h0m1 0h0m2 0h0m2 0h0m2 0h0m1 0h0m2 0h0m1 0h0m4 0h0m5 0h0m3 0h0m1 0h0m3 0h0m7 0h0m3 0h0m9 0h0m1 0h0m3 0h0m-95 1h0m5 0h0m1 0h0m1 0h0m1 0h0m3 0h0m2 0h0m1 0h0m1 0h0m1 0h0m2 0h0m2 0h0m1 0h0m1 0h0m2 0h0m1 0h0m1 0h0m1 0h0m1 0h0m1 0h0m1 0h0m1 0h0m1 0h0m6 0h0m1 0h0m3 0h0m2 0h0m1 0h0m2 0h0m1 0h0m6 0h0m3 0h0m4 0h0m3 0h0m1 0h0m6 0h0m2 0h0m6 0h0m13 0h0m-91 1h0m6 0h0m1 0h0m1 0h0m2 0h0m1 0h0m1 0h0m2 0h0m1 0h0m2 0h0m1 0h0m1 0h0m2 0h0m3 0h0m1 0h0m3 0h0m1 0h0m1 0h0m1 0h0m1 0h0m1 0h0m1 0h0m1 0h0m1 0h0m2 0h0m1 0h0m1 0h0m1 0h0m1 0h0m4 0h0m1 0h0m5 0h0m1 0h0m2 0h0m9 0h0m1 0h0m8 0h0m4 0h0m9 0h0m-93 1h0m2 0h0m6 0h0m4 0h0m1 0h0m2 0h0m1 0h0m1 0h0m1 0h0m1 0h0m1 0h0m1 0h0m2 0h0m1 0h0m1 0h0m1 0h0m1 0h0m1 0h0m1 0h0m1 0h0m2 0h0m2 0h0m1 0h0m1 0h0m1 0h0m2 0h0m2 0h0m2 0h0m5 0h0m3 0h0m2 0h0m1 0h0m1 0h0m1 0h0m4 0h0m1 0h0m13 0h0m3 0h0m2 0h0m6 0h0m-87 1h0m7 0h0m1 0h0m4 0h0m1 0h0m7 0h0m1 0h0m2 0h0m1 0h0m2 0h0m1 0h0m2 0h0m2 0h0m4 0h0m1 0h0m3 0h0m1 0h0m1 0h0m1 0h0m1 0h0m3 0h0m1 0h0m1 0h0m1 0h0m3 0h0m2 0h0m3 0h0m1 0h0m2 0h0m8 0h0m1 0h0m3 0h0m58 0h0m-130 1h0m3 0h0m7 0h0m1 0h0m2 0h0m3 0h0m1 0h0m2 0h0m3 0h0m1 0h0m1 0h0m1 0h0m1 0h0m1 0h0m2 0h0m2 0h0m1 0h0m1 0h0m1 0h0m1 0h0m1 0h0m1 0h0m1 0h0m2 0h0m2 0h0m1 0h0m1 0h0m1 0h0m2 0h0m4 0h0m6 0h0m1 0h0m2 0h0m3 0h0m4 0h0m9 0h0m6 0h0m-85 1h0m11 0h0m2 0h0m3 0h0m4 0h0m1 0h0m1 0h0m1 0h0m1 0h0m1 0h0m2 0h0m1 0h0m1 0h0m1 0h0m3 0h0m1 0h0m1 0h0m1 0h0m4 0h0m2 0h0m1 0h0m1 0h0m2 0h0m2 0h0m2 0h0m1 0h0m1 0h0m6 0h0m2 0h0m3 0h0m3 0h0m9 0h0m1 0h0m13 0h0m1 0h0m2 0h0m4 0h0m-93 1h0m1 0h0m1 0h0m2 0h0m1 0h0m2 0h0m1 0h0m2 0h0m1 0h0m1 0h0m3 0h0m5 0h0m1 0h0m2 0h0m2 0h0m1 0h0m1 0h0m1 0h0m4 0h0m2 0h0m1 0h0m1 0h0m4 0h0m2 0h0m1 0h0m1 0h0m1 0h0m4 0h0m6 0h0m1 0h0m5 0h0m5 0h0m6 0h0m30 0h0m30 0h0m-135 1h0m5 0h0m3 0h0m2 0h0m3 0h0m1 0h0m3 0h0m1 0h0m4 0h0m1 0h0m1 0h0m1 0h0m1 0h0m1 0h0m3 0h0m2 0h0m1 0h0m1 0h0m1 0h0m1 0h0m1 0h0m1 0h0m4 0h0m4 0h0m3 0h0m1 0h0m3 0h0m4 0h0m10 0h0m2 0h0m7 0h0m-76 1h0m2 0h0m4 0h0m1 0h0m2 0h0m2 0h0m1 0h0m1 0h0m2 0h0m3 0h0m2 0h0m1 0h0m1 0h0m2 0h0m1 0h0m1 0h0m1 0h0m1 0h0m1 0h0m2 0h0m2 0h0m3 0h0m5 0h0m2 0h0m1 0h0m3 0h0m1 0h0m1 0h0m5 0h0m1 0h0m1 0h0m1 0h0m2 0h0m1 0h0m3 0h0m3 0h0m15 0h0m2 0h0m-82 1h0m3 0h0m1 0h0m2 0h0m2 0h0m1 0h0m2 0h0m1 0h0m1 0h0m3 0h0m1 0h0m1 0h0m1 0h0m1 0h0m2 0h0m1 0h0m2 0h0m3 0h0m1 0h0m1 0h0m1 0h0m4 0h0m1 0h0m2 0h0m2 0h0m1 0h0m3 0h0m8 0h0m3 0h0m7 0h0m1 0h0m6 0h0m1 0h0m55 0h0m-125 1h0m3 0h0m3 0h0m1 0h0m1 0h0m1 0h0m1 0h0m1 0h0m1 0h0m1 0h0m1 0h0m2 0h0m1 0h0m1 0h0m1 0h0m1 0h0m1 0h0m3 0h0m1 0h0m1 0h0m1 0h0m1 0h0m1 0h0m3 0h0m6 0h0m2 0h0m6 0h0m1 0h0m4 0h0m1 0h0m8 0h0m7 0h0m12 0h0m2 0h0m9 0h0m-87 1h0m3 0h0m4 0h0m2 0h0m1 0h0m1 0h0m1 0h0m3 0h0m3 0h0m1 0h0m1 0h0m1 0h0m1 0h0m1 0h0m1 0h0m2 0h0m5 0h0m2 0h0m2 0h0m2 0h0m3 0h0m1 0h0m2 0h0m7 0h0m3 0h0m5 0h0m22 0h0m-82 1h0m5 0h0m2 0h0m1 0h0m3 0h0m1 0h0m2 0h0m2 0h0m1 0h0m3 0h0m2 0h0m1 0h0m1 0h0m1 0h0m8 0h0m1 0h0m1 0h0m2 0h0m3 0h0m1 0h0m14 0h0m-56 1h0m2 0h0m3 0h0m1 0h0m1 0h0m1 0h0m1 0h0m1 0h0m1 0h0m1 0h0m1 0h0m1 0h0m1 0h0m3 0h0m2 0h0m10 0h0m4 0h0m1 0h0m7 0h0m2 0h0m80 0h0m-125 1h0m5 0h0m1 0h0m1 0h0m1 0h0m2 0h0m1 0h0m2 0h0m1 0h0m2 0h0m3 0h0m2 0h0m1 0h0m1 0h0m1 0h0m2 0h0m1 0h0m8 0h0m3 0h0m1 0h0m1 0h0m31 0h0m-72 1h0m4 0h0m1 0h0m2 0h0m3 0h0m1 0h0m1 0h0m1 0h0m1 0h0m1 0h0m1 0h0m3 0h0m1 0h0m4 0h0m1 0h0m1 0h0m2 0h0m1 0h0m1 0h0m1 0h0m1 0h0m3 0h0m2 0h0m1 0h0m2 0h0m4 0h0m-43 1h0m1 0h0m1 0h0m3 0h0m2 0h0m1 0h0m1 0h0m1 0h0m1 0h0m1 0h0m2 0h0m1 0h0m4 0h0m2 0h0m1 0h0m3 0h0m3 0h0m9 0h0m6 0h0m3 0h0m4 0h0m17 0h0m32 0h0m-98 1h0m2 0h0m1 0h0m2 0h0m2 0h0m2 0h0m2 0h0m1 0h0m2 0h0m1 0h0m1 0h0m1 0h0m2 0h0m1 0h0m3 0h0m1 0h0m2 0h0m1 0h0m1 0h0m9 0h0m2 0h0m32 0h0m-72 1h0m2 0h0m1 0h0m1 0h0m2 0h0m6 0h0m5 0h0m5 0h0m17 0h0m11 0h0m-49 1h0m1 0h0m3 0h0m2 0h0m2 0h0m2 0h0m1 0h0m1 0h0m1 0h0m1 0h0m1 0h0m1 0h0m1 0h0m2 0h0m1 0h0m1 0h0m5 0h0m1 0h0m11 0h0m20 0h0m15 0h0m-73 1h0m2 0h0m1 0h0m1 0h0m1 0h0m3 0h0m3 0h0m1 0h0m4 0h0m1 0h0m10 0h0m2 0h0m1 0h0m1 0h0m3 0h0m1 0h0m-36 1h0m2 0h0m1 0h0m1 0h0m1 0h0m1 0h0m1 0h0m1 0h0m4 0h0m6 0h0m1 0h0m1 0h0m11 0h0m-30 1h0m3 0h0m1 0h0m1 0h0m1 0h0m1 0h0m1 0h0m1 0h0m1 0h0m4 0h0m4 0h0m1 0h0m6 0h0m5 0h0m3 0h0m-29 1h0m2 0h0m2 0h0m1 0h0m5 0h0m3 0h0m3 0h0m3 0h0m1 0h0m2 0h0m3 0h0m1 0h0m-29 1h0m2 0h0m3 0h0m2 0h0m3 0h0m5 0h0m3 0h0m2 0h0m3 0h0m2 0h0m12 0h0m-35 1h0m1 0h0m6 0h0m5 0h0m1 0h0m4 0h0m1 0h0m9 0h0m1 0h0m-27 1h0m1 0h0m4 0h0m2 0h0m1 0h0m4 0h0m2 0h0m2 0h0m-15 1h0m1 0h0m1 0h0m2 0h0m2 0h0m8 0h0m-12 1h0m1 0h0m2 0h0m10 0h0m10 0h0m-24 1h0m1 0h0m5 0h0m11 0h0m-14 1h0m9 0h0m5 0h0m-13 1h0m3 0h0m7 0h0m3 1h0m-8 1h0m6 0h0m-8 1h0m1 1h0m12 0h0m-2 3h0" stroke="#000" stroke-width="1.5" stroke-linecap="square" fill="none"/>
<path d="M343.8,1067.0L344.1,1064.8L344.7,1062.1L345.8,1059.2L347.1,1056.3L348.6,1053.7L350.5,1051.5L352.7,1049.5L355.1,1047.7L357.6,1046.0L360.0,1044.3L362.4,1042.8L364.8,1041.4L367.2,1040.1L369.7,1038.9L372.1,1037.8L374.4,1036.9L376.7,1036.1L379.0,1035.4L381.3,1034.7L383.7,1034.1L386.1,1033.5L388.7,1032.9L391.3,1032.4L393.8,1031.9L396.2,1031.4L398.4,1031.0L400.4,1030.6L402.4,1030.3L404.3,1030.0L406.1,1029.8L407.9,1029.5L409.6,1029.4L411.2,1029.2L412.7,1029.1L414.3,1029.1L415.9,1029.3L417.6,1029.4L419.1,1029.7L420.5,1030.1L421.6,1030.6L422.2,1031.2L422.7,1031.9L422.9,1032.7L422.8,1033.6L422.4,1034.4L421.7,1035.3L420.7,1036.2L419.4,1037.1L418.0,1038.0L416.7,1038.9L415.4,1039.6L414.1,1040.2L412.8,1040.9L411.4,1041.5L409.9,1042.2L408.3,1043.0L406.6,1043.9L404.9,1044.7L403.1,1045.6L401.2,1046.6L399.2,1047.6L397.0,1048.7L394.7,1049.7L392.5,1050.8L390.3,1051.9L388.4,1052.9L386.5,1054.0L384.6,1055.0L382.7,1056.0L380.7,1057.0L378.7,1057.9L376.5,1058.9L374.3,1059.8L372.1,1060.7L370.0,1061.7L367.9,1062.7L365.8,1063.7L363.8,1064.7L361.7,1065.7L359.6,1066.7L357.3,1067.7L354.8,1068.9L352.3,1069.9L350.1,1070.7L348.2,1071.0L346.7,1070.9L345.5,1070.5L344.6,1069.7L344.0,1068.5Z" fill="#000"/>
<path d="M506 996.5h0m31 3h0m4 0h0m-5 1h0m3 0h0m-47 1h0m40 0h0m6 0h0m-57 1h0m34 0h0m2 0h0m6 0h0m4 0h0m13 0h0m-104 1h0m75 0h0m10 0h0m18 0h0m-115 1h0m62 0h0m36 0h0m13 0h0m-125 1h0m72 0h0m28 0h0m2 0h0m2 0h0m11 0h0m3 0h0m6 0h0m6 0h0m-100 1h0m44 0h0m28 0h0m5 0h0m10 0h0m2 0h0m3 0h0m-104 1h0m15 0h0m58 0h0m2 0h0m8 0h0m9 0h0m7 0h0m2 0h0m7 0h0m-92 1h0m3 0h0m29 0h0m15 0h0m9 0h0m6 0h0m5 0h0m11 0h0m5 0h0m12 0h0m1 0h0m3 0h0m-156 1h0m77 0h0m2 0h0m6 0h0m13 0h0m10 0h0m1 0h0m7 0h0m6 0h0m16 0h0m2 0h0m5 0h0m1 0h0m8 0h0m-111 1h0m3 0h0m14 0h0m40 0h0m5 0h0m9 0h0m6 0h0m9 0h0m4 0h0m3 0h0m16 0h0m-121 1h0m67 0h0m14 0h0m5 0h0m1 0h0m5 0h0m5 0h0m8 0h0m2 0h0m2 0h0m7 0h0m2 0h0m1 0h0m-108 1h0m2 0h0m2 0h0m43 0h0m21 0h0m1 0h0m12 0h0m6 0h0m10 0h0m2 0h0m5 0h0m-141 1h0m51 0h0m2 0h0m4 0h0m22 0h0m1 0h0m3 0h0m1 0h0m1 0h0m1 0h0m8 0h0m3 0h0m1 0h0m19 0h0m3 0h0m5 0h0m2 0h0m2 0h0m5 0h0m8 0h0m2 0h0m3 0h0m-136 1h0m3 0h0m2 0h0m10 0h0m11 0h0m9 0h0m2 0h0m6 0h0m1 0h0m1 0h0m1 0h0m15 0h0m6 0h0m1 0h0m2 0h0m2 0h0m25 0h0m2 0h0m1 0h0m4 0h0m8 0h0m3 0h0m5 0h0m5 0h0m1 0h0m3 0h0m-114 1h0m3 0h0m8 0h0m4 0h0m31 0h0m7 0h0m4 0h0m7 0h0m3 0h0m4 0h0m3 0h0m7 0h0m2 0h0m6 0h0m1 0h0m1 0h0m14 0h0m12 0h0m7 0h0m-129 1h0m6 0h0m2 0h0m4 0h0m3 0h0m4 0h0m5 0h0m3 0h0m8 0h0m1 0h0m6 0h0m2 0h0m10 0h0m9 0h0m1 0h0m6 0h0m3 0h0m4 0h0m9 0h0m16 0h0m8 0h0m-123 1h0m10 0h0m6 0h0m3 0h0m6 0h0m2 0h0m2 0h0m2 0h0m16 0h0m6 0h0m11 0h0m3 0h0m1 0h0m2 0h0m1 0h0m6 0h0m7 0h0m11 0h0m7 0h0m2 0h0m5 0h0m1 0h0m8 0h0m-121 1h0m11 0h0m22 0h0m1 0h0m1 0h0m1 0h0m3 0h0m2 0h0m5 0h0m1 0h0m1 0h0m1 0h0m2 0h0m4 0h0m9 0h0m1 0h0m3 0h0m7 0h0m13 0h0m2 0h0m1 0h0m11 0h0m2 0h0m1 0h0m1 0h0m8 0h0m5 0h0m6 0h0m4 0h0m4 0h0m2 0h0m-145 1h0m3 0h0m4 0h0m4 0h0m1 0h0m8 0h0m2 0h0m10 0h0m8 0h0m2 0h0m2 0h0m3 0h0m3 0h0m2 0h0m2 0h0m3 0h0m1 0h0m1 0h0m1 0h0m6 0h0m3 0h0m1 0h0m2 0h0m2 0h0m3 0h0m7 0h0m1 0h0m4 0h0m1 0h0m4 0h0m7 0h0m6 0h0m1 0h0m5 0h0m8 0h0m9 0h0m9 0h0m3 0h0m-141 1h0m1 0h0m6 0h0m11 0h0m1 0h0m6 0h0m7 0h0m3 0h0m2 0h0m1 0h0m2 0h0m1 0h0m1 0h0m3 0h0m2 0h0m8 0h0m4 0h0m1 0h0m6 0h0m3 0h0m4 0h0m7 0h0m1 0h0m3 0h0m7 0h0m1 0h0m3 0h0m1 0h0m3 0h0m2 0h0m10 0h0m3 0h0m10 0h0m-128 1h0m7 0h0m16 0h0m4 0h0m6 0h0m1 0h0m3 0h0m2 0h0m1 0h0m3 0h0m1 0h0m1 0h0m3 0h0m1 0h0m1 0h0m2 0h0m1 0h0m1 0h0m1 0h0m3 0h0m1 0h0m4 0h0m1 0h0m3 0h0m7 0h0m3 0h0m2 0h0m4 0h0m16 0h0m8 0h0m5 0h0m8 0h0m32 0h0m-150 1h0m8 0h0m1 0h0m1 0h0m4 0h0m2 0h0m8 0h0m3 0h0m1 0h0m1 0h0m4 0h0m1 0h0m3 0h0m1 0h0m1 0h0m2 0h0m1 0h0m1 0h0m3 0h0m2 0h0m1 0h0m1 0h0m1 0h0m2 0h0m3 0h0m2 0h0m1 0h0m1 0h0m1 0h0m1 0h0m2 0h0m1 0h0m2 0h0m1 0h0m4 0h0m10 0h0m4 0h0m2 0h0m3 0h0m2 0h0m2 0h0m1 0h0m1 0h0m16 0h0m9 0h0m7 0h0m7 0h0m7 0h0m10 0h0m-152 1h0m8 0h0m5 0h0m3 0h0m3 0h0m3 0h0m2 0h0m1 0h0m2 0h0m3 0h0m3 0h0m2 0h0m2 0h0m1 0h0m1 0h0m1 0h0m1 0h0m2 0h0m1 0h0m1 0h0m1 0h0m4 0h0m2 0h0m2 0h0m1 0h0m1 0h0m2 0h0m1 0h0m1 0h0m2 0h0m6 0h0m1 0h0m2 0h0m1 0h0m1 0h0m8 0h0m10 0h0m2 0h0m3 0h0m6 0h0m8 0h0m21 0h0m14 0h0m6 0h0m-163 1h0m21 0h0m2 0h0m4 0h0m1 0h0m2 0h0m1 0h0m1 0h0m3 0h0m1 0h0m3 0h0m4 0h0m2 0h0m1 0h0m1 0h0m2 0h0m3 0h0m1 0h0m4 0h0m1 0h0m1 0h0m2 0h0m1 0h0m1 0h0m1 0h0m4 0h0m2 0h0m1 0h0m5 0h0m4 0h0m1 0h0m1 0h0m2 0h0m1 0h0m15 0h0m49 0h0m-138 1h0m1 0h0m8 0h0m6 0h0m1 0h0m1 0h0m3 0h0m2 0h0m3 0h0m1 0h0m3 0h0m1 0h0m3 0h0m2 0h0m1 0h0m3 0h0m2 0h0m2 0h0m5 0h0m1 0h0m2 0h0m3 0h0m1 0h0m4 0h0m1 0h0m1 0h0m3 0h0m2 0h0m2 0h0m1 0h0m1 0h0m1 0h0m2 0h0m11 0h0m14 0h0m1 0h0m2 0h0m3 0h0m37 0h0m7 0h0m-145 1h0m5 0h0m2 0h0m1 0h0m1 0h0m2 0h0m6 0h0m1 0h0m2 0h0m2 0h0m4 0h0m2 0h0m2 0h0m1 0h0m1 0h0m2 0h0m1 0h0m3 0h0m1 0h0m1 0h0m1 0h0m1 0h0m1 0h0m1 0h0m1 0h0m1 0h0m1 0h0m1 0h0m6 0h0m1 0h0m1 0h0m1 0h0m1 0h0m3 0h0m6 0h0m4 0h0m9 0h0m5 0h0m2 0h0m1 0h0m1 0h0m4 0h0m14 0h0m18 0h0m-149 1h0m12 0h0m2 0h0m3 0h0m7 0h0m5 0h0m3 0h0m7 0h0m1 0h0m1 0h0m1 0h0m2 0h0m1 0h0m3 0h0m4 0h0m1 0h0m1 0h0m1 0h0m1 0h0m2 0h0m1 0h0m2 0h0m1 0h0m2 0h0m1 0h0m1 0h0m1 0h0m1 0h0m1 0h0m1 0h0m3 0h0m2 0h0m1 0h0m1 0h0m2 0h0m1 0h0m4 0h0m1 0h0m2 0h0m4 0h0m14 0h0m1 0h0m3 0h0m5 0h0m10 0h0m-112 1h0m13 0h0m3 0h0m1 0h0m5 0h0m4 0h0m5 0h0m2 0h0m3 0h0m2 0h0m1 0h0m1 0h0m2 0h0m2 0h0m1 0h0m2 0h0m1 0h0m2 0h0m2 0h0m2 0h0m1 0h0m1 0h0m1 0h0m3 0h0m2 0h0m1 0h0m2 0h0m2 0h0m1 0h0m2 0h0m1 0h0m3 0h0m1 0h0m4 0h0m6 0h0m7 0h0m8 0h0m16 0h0m43 0h0m-158 1h0m1 0h0m10 0h0m3 0h0m2 0h0m3 0h0m1 0h0m1 0h0m1 0h0m1 0h0m1 0h0m2 0h0m1 0h0m1 0h0m1 0h0m1 0h0m2 0h0m1 0h0m1 0h0m2 0h0m1 0h0m1 0h0m6 0h0m2 0h0m2 0h0m1 0h0m1 0h0m1 0h0m1 0h0m3 0h0m1 0h0m1 0h0m4 0h0m4 0h0m2 0h0m1 0h0m3 0h0m1 0h0m1 0h0m2 0h0m48 0h0m20 0h0m-147 1h0m7 0h0m4 0h0m2 0h0m1 0h0m2 0h0m5 0h0m1 0h0m1 0h0m1 0h0m4 0h0m1 0h0m1 0h0m1 0h0m2 0h0m3 0h0m2 0h0m1 0h0m1 0h0m3 0h0m2 0h0m1 0h0m2 0h0m1 0h0m1 0h0m1 0h0m1 0h0m2 0h0m2 0h0m1 0h0m3 0h0m1 0h0m1 0h0m2 0h0m1 0h0m1 0h0m2 0h0m1 0h0m7 0h0m3 0h0m6 0h0m17 0h0m-105 1h0m4 0h0m5 0h0m2 0h0m1 0h0m3 0h0m2 0h0m2 0h0m3 0h0m2 0h0m1 0h0m1 0h0m1 0h0m2 0h0m2 0h0m1 0h0m2 0h0m1 0h0m2 0h0m1 0h0m1 0h0m1 0h0m1 0h0m1 0h0m1 0h0m1 0h0m1 0h0m6 0h0m1 0h0m1 0h0m1 0h0m3 0h0m4 0h0m1 0h0m1 0h0m1 0h0m2 0h0m3 0h0m2 0h0m1 0h0m2 0h0m1 0h0m2 0h0m1 0h0m1 0h0m3 0h0m3 0h0m1 0h0m2 0h0m10 0h0m4 0h0m19 0h0m-120 1h0m2 0h0m1 0h0m2 0h0m5 0h0m2 0h0m2 0h0m1 0h0m3 0h0m1 0h0m2 0h0m1 0h0m1 0h0m1 0h0m1 0h0m4 0h0m1 0h0m2 0h0m1 0h0m1 0h0m1 0h0m3 0h0m1 0h0m1 0h0m1 0h0m2 0h0m1 0h0m1 0h0m2 0h0m1 0h0m1 0h0m2 0h0m1 0h0m2 0h0m4 0h0m2 0h0m1 0h0m2 0h0m4 0h0m2 0h0m1 0h0m1 0h0m1 0h0m3 0h0m1 0h0m1 0h0m1 0h0m2 0h0m26 0h0m5 0h0m-120 1h0m8 0h0m2 0h0m5 0h0m2 0h0m2 0h0m2 0h0m1 0h0m1 0h0m4 0h0m2 0h0m1 0h0m1 0h0m2 0h0m1 0h0m2 0h0m1 0h0m1 0h0m3 0h0m1 0h0m4 0h0m2 0h0m2 0h0m1 0h0m3 0h0m1 0h0m1 0h0m1 0h0m3 0h0m1 0h0m2 0h0m2 0h0m1 0h0m1 0h0m3 0h0m1 0h0m2 0h0m1 0h0m4 0h0m2 0h0m5 0h0m1 0h0m2 0h0m2 0h0m1 0h0m5 0h0m2 0h0m12 0h0m-101 1h0m11 0h0m2 0h0m1 0h0m2 0h0m2 0h0m1 0h0m1 0h0m1 0h0m1 0h0m3 0h0m2 0h0m2 0h0m1 0h0m1 0h0m1 0h0m1 0h0m1 0h0m1 0h0m2 0h0m1 0h0m1 0h0m1 0h0m4 0h0m2 0h0m1 0h0m1 0h0m2 0h0m1 0h0m1 0h0m1 0h0m2 0h0m1 0h0m5 0h0m1 0h0m1 0h0m1 0h0m1 0h0m2 0h0m1 0h0m4 0h0m1 0h0m1 0h0m22 0h0m-105 1h0m3 0h0m1 0h0m6 0h0m5 0h0m1 0h0m3 0h0m3 0h0m1 0h0m2 0h0m1 0h0m1 0h0m1 0h0m1 0h0m1 0h0m1 0h0m2 0h0m1 0h0m1 0h0m1 0h0m1 0h0m1 0h0m1 0h0m4 0h0m1 0h0m2 0h0m2 0h0m3 0h0m1 0h0m2 0h0m1 0h0m4 0h0m1 0h0m2 0h0m3 0h0m1 0h0m1 0h0m1 0h0m1 0h0m1 0h0m3 0h0m1 0h0m2 0h0m3 0h0m1 0h0m2 0h0m3 0h0m5 0h0m3 0h0m14 0h0m-101 1h0m3 0h0m4 0h0m2 0h0m1 0h0m1 0h0m2 0h0m3 0h0m1 0h0m1 0h0m1 0h0m1 0h0m3 0h0m1 0h0m1 0h0m1 0h0m4 0h0m1 0h0m1 0h0m1 0h0m1 0h0m1 0h0m1 0h0m1 0h0m1 0h0m3 0h0m1 0h0m2 0h0m1 0h0m1 0h0m2 0h0m1 0h0m1 0h0m1 0h0m2 0h0m1 0h0m1 0h0m3 0h0m3 0h0m2 0h0m3 0h0m2 0h0m4 0h0m7 0h0m3 0h0m-87 1h0m1 0h0m3 0h0m1 0h0m2 0h0m1 0h0m2 0h0m2 0h0m2 0h0m2 0h0m1 0h0m1 0h0m1 0h0m1 0h0m1 0h0m1 0h0m1 0h0m1 0h0m1 0h0m1 0h0m1 0h0m1 0h0m2 0h0m1 0h0m1 0h0m1 0h0m1 0h0m1 0h0m1 0h0m3 0h0m1 0h0m1 0h0m1 0h0m1 0h0m2 0h0m1 0h0m1 0h0m1 0h0m1 0h0m1 0h0m1 0h0m1 0h0m1 0h0m1 0h0m2 0h0m3 0h0m2 0h0m1 0h0m1 0h0m1 0h0m3 0h0m1 0h0m1 0h0m1 0h0m13 0h0m5 0h0m2 0h0m11 0h0m-107 1h0m4 0h0m4 0h0m2 0h0m2 0h0m1 0h0m3 0h0m1 0h0m1 0h0m1 0h0m2 0h0m1 0h0m1 0h0m1 0h0m2 0h0m1 0h0m1 0h0m2 0h0m1 0h0m1 0h0m2 0h0m1 0h0m2 0h0m2 0h0m2 0h0m3 0h0m2 0h0m2 0h0m1 0h0m1 0h0m1 0h0m1 0h0m1 0h0m1 0h0m1 0h0m1 0h0m1 0h0m1 0h0m1 0h0m1 0h0m4 0h0m2 0h0m1 0h0m1 0h0m1 0h0m1 0h0m2 0h0m1 0h0m1 0h0m1 0h0m1 0h0m2 0h0m7 0h0m2 0h0m1 0h0m1 0h0m2 0h0m6 0h0m-92 1h0m1 0h0m1 0h0m3 0h0m4 0h0m2 0h0m2 0h0m1 0h0m2 0h0m1 0h0m1 0h0m1 0h0m1 0h0m1 0h0m2 0h0m2 0h0m1 0h0m2 0h0m2 0h0m2 0h0m1 0h0m1 0h0m1 0h0m1 0h0m1 0h0m1 0h0m3 0h0m1 0h0m2 0h0m1 0h0m1 0h0m1 0h0m1 0h0m1 0h0m1 0h0m3 0h0m1 0h0m1 0h0m3 0h0m1 0h0m1 0h0m2 0h0m1 0h0m1 0h0m1 0h0m1 0h0m1 0h0m1 0h0m4 0h0m2 0h0m2 0h0m3 0h0m5 0h0m2 0h0m3 0h0m1 0h0m2 0h0m32 0h0m-136 1h0m14 0h0m2 0h0m1 0h0m2 0h0m1 0h0m3 0h0m1 0h0m3 0h0m1 0h0m1 0h0m3 0h0m1 0h0m1 0h0m1 0h0m1 0h0m1 0h0m1 0h0m1 0h0m1 0h0m1 0h0m1 0h0m1 0h0m1 0h0m2 0h0m1 0h0m1 0h0m1 0h0m2 0h0m1 0h0m1 0h0m2 0h0m1 0h0m1 0h0m1 0h0m2 0h0m5 0h0m2 0h0m2 0h0m1 0h0m1 0h0m1 0h0m4 0h0m1 0h0m2 0h0m2 0h0m1 0h0m6 0h0m3 0h0m6 0h0m11 0h0m-102 1h0m6 0h0m1 0h0m3 0h0m1 0h0m1 0h0m1 0h0m1 0h0m4 0h0m2 0h0m2 0h0m2 0h0m2 0h0m1 0h0m1 0h0m1 0h0m2 0h0m1 0h0m1 0h0m1 0h0m1 0h0m1 0h0m1 0h0m2 0h0m1 0h0m1 0h0m1 0h0m1 0h0m1 0h0m2 0h0m1 0h0m1 0h0m3 0h0m1 0h0m2 0h0m1 0h0m1 0h0m3 0h0m2 0h0m1 0h0m1 0h0m1 0h0m3 0h0m8 0h0m1 0h0m-80 1h0m8 0h0m6 0h0m1 0h0m2 0h0m2 0h0m6 0h0m1 0h0m2 0h0m1 0h0m1 0h0m1 0h0m1 0h0m1 0h0m2 0h0m2 0h0m1 0h0m1 0h0m1 0h0m1 0h0m1 0h0m1 0h0m1 0h0m3 0h0m1 0h0m1 0h0m3 0h0m1 0h0m1 0h0m1 0h0m1 0h0m2 0h0m1 0h0m1 0h0m1 0h0m2 0h0m1 0h0m1 0h0m2 0h0m3 0h0m2 0h0m3 0h0m2 0h0m1 0h0m1 0h0m5 0h0m-82 1h0m3 0h0m6 0h0m1 0h0m1 0h0m3 0h0m4 0h0m4 0h0m2 0h0m2 0h0m3 0h0m4 0h0m2 0h0m1 0h0m1 0h0m1 0h0m1 0h0m2 0h0m1 0h0m1 0h0m2 0h0m1 0h0m1 0h0m1 0h0m1 0h0m1 0h0m1 0h0m2 0h0m3 0h0m1 0h0m9 0h0m1 0h0m1 0h0m4 0h0m5 0h0m14 0h0m12 0h0m-112 1h0m7 0h0m3 0h0m5 0h0m1 0h0m1 0h0m2 0h0m1 0h0m1 0h0m2 0h0m1 0h0m1 0h0m2 0h0m2 0h0m4 0h0m2 0h0m1 0h0m1 0h0m1 0h0m1 0h0m2 0h0m2 0h0m2 0h0m1 0h0m3 0h0m2 0h0m2 0h0m1 0h0m1 0h0m1 0h0m1 0h0m2 0h0m5 0h0m4 0h0m2 0h0m2 0h0m1 0h0m3 0h0m1 0h0m3 0h0m3 0h0m4 0h0m3 0h0m12 0h0m-97 1h0m10 0h0m3 0h0m2 0h0m1 0h0m1 0h0m2 0h0m1 0h0m1 0h0m1 0h0m1 0h0m1 0h0m1 0h0m1 0h0m1 0h0m1 0h0m1 0h0m1 0h0m1 0h0m1 0h0m2 0h0m1 0h0m1 0h0m1 0h0m1 0h0m2 0h0m1 0h0m2 0h0m1 0h0m1 0h0m1 0h0m1 0h0m1 0h0m1 0h0m2 0h0m2 0h0m1 0h0m2 0h0m2 0h0m1 0h0m4 0h0m1 0h0m1 0h0m1 0h0m1 0h0m1 0h0m1 0h0m1 0h0m1 0h0m6 0h0m1 0h0m7 0h0m-85 1h0m1 0h0m1 0h0m2 0h0m4 0h0m1 0h0m2 0h0m1 0h0m1 0h0m3 0h0m2 0h0m2 0h0m2 0h0m1 0h0m1 0h0m1 0h0m2 0h0m1 0h0m1 0h0m1 0h0m1 0h0m1 0h0m2 0h0m2 0h0m3 0h0m1 0h0m1 0h0m4 0h0m1 0h0m2 0h0m2 0h0m1 0h0m1 0h0m1 0h0m1 0h0m2 0h0m1 0h0m2 0h0m1 0h0m1 0h0m2 0h0m3 0h0m1 0h0m1 0h0m4 0h0m4 0h0m2 0h0m11 0h0m-88 1h0m2 0h0m2 0h0m2 0h0m1 0h0m1 0h0m2 0h0m1 0h0m2 0h0m1 0h0m2 0h0m4 0h0m2 0h0m2 0h0m1 0h0m1 0h0m1 0h0m1 0h0m1 0h0m1 0h0m2 0h0m2 0h0m5 0h0m1 0h0m1 0h0m2 0h0m1 0h0m1 0h0m1 0h0m2 0h0m2 0h0m3 0h0m2 0h0m1 0h0m1 0h0m1 0h0m1 0h0m1 0h0m2 0h0m4 0h0m1 0h0m5 0h0m2 0h0m15 0h0m3 0h0m4 0h0m3 0h0m5 0h0m-107 1h0m1 0h0m3 0h0m1 0h0m2 0h0m3 0h0m1 0h0m1 0h0m1 0h0m1 0h0m1 0h0m1 0h0m2 0h0m1 0h0m1 0h0m1 0h0m1 0h0m2 0h0m1 0h0m2 0h0m3 0h0m1 0h0m1 0h0m1 0h0m2 0h0m2 0h0m1 0h0m1 0h0m1 0h0m1 0h0m1 0h0m2 0h0m1 0h0m2 0h0m1 0h0m2 0h0m2 0h0m1 0h0m2 0h0m1 0h0m2 0h0m1 0h0m4 0h0m2 0h0m6 0h0m7 0h0m3 0h0m2 0h0m6 0h0m6 0h0m3 0h0m9 0h0m-109 1h0m1 0h0m1 0h0m1 0h0m5 0h0m11 0h0m3 0h0m1 0h0m1 0h0m1 0h0m1 0h0m1 0h0m1 0h0m1 0h0m1 0h0m1 0h0m2 0h0m1 0h0m1 0h0m1 0h0m1 0h0m1 0h0m1 0h0m1 0h0m2 0h0m1 0h0m1 0h0m1 0h0m2 0h0m2 0h0m1 0h0m2 0h0m1 0h0m5 0h0m2 0h0m5 0h0m1 0h0m1 0h0m2 0h0m17 0h0m1 0h0m13 0h0m-98 1h0m3 0h0m3 0h0m1 0h0m1 0h0m2 0h0m1 0h0m1 0h0m3 0h0m1 0h0m2 0h0m1 0h0m2 0h0m1 0h0m2 0h0m3 0h0m1 0h0m1 0h0m1 0h0m1 0h0m2 0h0m1 0h0m1 0h0m1 0h0m2 0h0m5 0h0m1 0h0m1 0h0m4 0h0m2 0h0m2 0h0m4 0h0m3 0h0m1 0h0m1 0h0m1 0h0m1 0h0m3 0h0m1 0h0m4 0h0m-72 1h0m3 0h0m1 0h0m1 0h0m2 0h0m1 0h0m3 0h0m1 0h0m1 0h0m1 0h0m1 0h0m1 0h0m1 0h0m1 0h0m1 0h0m1 0h0m1 0h0m1 0h0m1 0h0m1 0h0m1 0h0m2 0h0m1 0h0m2 0h0m1 0h0m1 0h0m1 0h0m1 0h0m1 0h0m2 0h0m1 0h0m2 0h0m1 0h0m1 0h0m4 0h0m2 0h0m1 0h0m2 0h0m1 0h0m1 0h0m6 0h0m23 0h0m4 0h0m-86 1h0m1 0h0m1 0h0m1 0h0m2 0h0m1 0h0m2 0h0m1 0h0m1 0h0m1 0h0m1 0h0m1 0h0m1 0h0m3 0h0m1 0h0m1 0h0m1 0h0m1 0h0m2 0h0m2 0h0m2 0h0m1 0h0m2 0h0m1 0h0m2 0h0m1 0h0m1 0h0m1 0h0m1 0h0m6 0h0m13 0h0m3 0h0m1 0h0m1 0h0m6 0h0m8 0h0m7 0h0m-86 1h0m4 0h0m6 0h0m3 0h0m1 0h0m1 0h0m2 0h0m2 0h0m1 0h0m1 0h0m1 0h0m1 0h0m1 0h0m1 0h0m1 0h0m2 0h0m2 0h0m1 0h0m1 0h0m1 0h0m1 0h0m1 0h0m1 0h0m1 0h0m1 0h0m2 0h0m2 0h0m1 0h0m3 0h0m1 0h0m5 0h0m6 0h0m3 0h0m7 0h0m4 0h0m-72 1h0m6 0h0m1 0h0m1 0h0m2 0h0m1 0h0m1 0h0m1 0h0m1 0h0m1 0h0m2 0h0m1 0h0m2 0h0m1 0h0m2 0h0m3 0h0m4 0h0m2 0h0m1 0h0m1 0h0m5 0h0m3 0h0m1 0h0m1 0h0m2 0h0m1 0h0m2 0h0m1 0h0m1 0h0m3 0h0m2 0h0m1 0h0m6 0h0m-63 1h0m1 0h0m1 0h0m4 0h0m2 0h0m2 0h0m1 0h0m1 0h0m1 0h0m1 0h0m1 0h0m1 0h0m1 0h0m1 0h0m3 0h0m1 0h0m3 0h0m1 0h0m2 0h0m4 0h0m2 0h0m1 0h0m7 0h0m1 0h0m3 0h0m1 0h0m1 0h0m2 0h0m3 0h0m5 0h0m5 0h0m46 0h0m-108 1h0m3 0h0m3 0h0m1 0h0m4 0h0m1 0h0m1 0h0m1 0h0m2 0h0m2 0h0m1 0h0m3 0h0m1 0h0m1 0h0m1 0h0m1 0h0m1 0h0m5 0h0m1 0h0m1 0h0m1 0h0m1 0h0m1 0h0m3 0h0m6 0h0m2 0h0m1 0h0m2 0h0m3 0h0m5 0h0m1 0h0m1 0h0m1 0h0m2 0h0m-65 1h0m2 0h0m1 0h0m5 0h0m1 0h0m1 0h0m3 0h0m2 0h0m1 0h0m1 0h0m1 0h0m1 0h0m1 0h0m2 0h0m1 0h0m1 0h0m2 0h0m1 0h0m1 0h0m2 0h0m1 0h0m1 0h0m4 0h0m1 0h0m1 0h0m2 0h0m1 0h0m2 0h0m1 0h0m8 0h0m1 0h0m5 0h0m1 0h0m2 0h0m6 0h0m-66 1h0m1 0h0m1 0h0m2 0h0m3 0h0m1 0h0m1 0h0m2 0h0m1 0h0m1 0h0m2 0h0m2 0h0m1 0h0m2 0h0m1 0h0m1 0h0m1 0h0m3 0h0m2 0h0m1 0h0m1 0h0m1 0h0m1 0h0m1 0h0m1 0h0m1 0h0m3 0h0m1 0h0m1 0h0m4 0h0m2 0h0m11 0h0m29 0h0m-86 1h0m2 0h0m2 0h0m3 0h0m2 0h0m1 0h0m1 0h0m4 0h0m1 0h0m1 0h0m1 0h0m1 0h0m3 0h0m1 0h0m3 0h0m1 0h0m2 0h0m1 0h0m2 0h0m2 0h0m3 0h0m5 0h0m2 0h0m1 0h0m2 0h0m1 0h0m3 0h0m2 0h0m1 0h0m5 0h0m25 0h0m29 0h0m-111 1h0m1 0h0m1 0h0m1 0h0m2 0h0m1 0h0m2 0h0m1 0h0m1 0h0m2 0h0m1 0h0m2 0h0m1 0h0m2 0h0m3 0h0m2 0h0m1 0h0m1 0h0m1 0h0m2 0h0m1 0h0m1 0h0m2 0h0m1 0h0m1 0h0m5 0h0m3 0h0m1 0h0m7 0h0m8 0h0m5 0h0m4 0h0m32 0h0m-102 1h0m1 0h0m3 0h0m3 0h0m1 0h0m1 0h0m3 0h0m1 0h0m1 0h0m1 0h0m1 0h0m1 0h0m1 0h0m1 0h0m1 0h0m3 0h0m1 0h0m1 0h0m1 0h0m3 0h0m6 0h0m2 0h0m1 0h0m1 0h0m8 0h0m1 0h0m23 0h0m19 0h0m12 0h0m-102 1h0m1 0h0m2 0h0m1 0h0m3 0h0m1 0h0m1 0h0m1 0h0m1 0h0m4 0h0m1 0h0m1 0h0m3 0h0m1 0h0m3 0h0m1 0h0m1 0h0m3 0h0m6 0h0m100 0h0m-133 1h0m1 0h0m1 0h0m2 0h0m1 0h0m1 0h0m2 0h0m1 0h0m1 0h0m1 0h0m1 0h0m2 0h0m1 0h0m1 0h0m1 0h0m1 0h0m1 0h0m1 0h0m3 0h0m1 0h0m2 0h0m3 0h0m22 0h0m-51 1h0m1 0h0m2 0h0m1 0h0m2 0h0m1 0h0m1 0h0m3 0h0m3 0h0m1 0h0m1 0h0m1 0h0m2 0h0m2 0h0m4 0h0m4 0h0m66 0h0m-97 1h0m2 0h0m2 0h0m4 0h0m1 0h0m1 0h0m3 0h0m1 0h0m1 0h0m1 0h0m2 0h0m7 0h0m2 0h0m2 0h0m6 0h0m16 0h0m15 0h0m28 0h0m-94 1h0m1 0h0m2 0h0m1 0h0m2 0h0m1 0h0m1 0h0m1 0h0m1 0h0m1 0h0m1 0h0m2 0h0m1 0h0m2 0h0m1 0h0m2 0h0m1 0h0m1 0h0m1 0h0m3 0h0m1 0h0m7 0h0m4 0h0m2 0h0m3 0h0m61 0h0m-104 1h0m2 0h0m1 0h0m1 0h0m1 0h0m1 0h0m1 0h0m1 0h0m1 0h0m1 0h0m3 0h0m2 0h0m1 0h0m1 0h0m2 0h0m3 0h0m1 0h0m4 0h0m1 0h0m11 0h0m4 0h0m30 0h0m25 0h0m-97 1h0m6 0h0m3 0h0m2 0h0m2 0h0m1 0h0m1 0h0m1 0h0m1 0h0m8 0h0m2 0h0m1 0h0m4 0h0m3 0h0m-35 1h0m2 0h0m1 0h0m4 0h0m2 0h0m3 0h0m3 0h0m1 0h0m2 0h0m2 0h0m5 0h0m9 0h0m10 0h0m2 0h0m1 0h0m-44 1h0m1 0h0m1 0h0m1 0h0m1 0h0m3 0h0m1 0h0m1 0h0m2 0h0m2 0h0m6 0h0m1 0h0m6 0h0m11 0h0m-36 1h0m1 0h0m1 0h0m1 0h0m2 0h0m1 0h0m1 0h0m3 0h0m12 0h0m3 0h0m-25 1h0m2 0h0m1 0h0m1 0h0m7 0h0m2 0h0m2 0h0m18 0h0m-30 1h0m2 0h0m-3 1h0m2 0h0m1 1h0m4 0h0m1 0h0m7 0h0m-9 1h0m4 0h0m1 0h0m12 0h0m2 0h0m-21 1h0m1 0h0m1 0h0m0 1h0m3 0h0m2 0h0m1 0h0m3 0h0m-9 1h0m13 0h0m-11 1h0" stroke="#000" stroke-width="1.5" stroke-linecap="square" fill="none"/>
<line x1="719.3" y1="518.8" x2="724.8" y2="518.8" stroke="#000" stroke-width="2"/>
<text x="718.0" y="524.8" font-size="16.5" font-weight="bold" text-anchor="end">25</text>
<line x1="719.3" y1="561.4" x2="724.8" y2="561.4" stroke="#000" stroke-width="2"/>
<text x="718.0" y="567.4" font-size="16.5" font-weight="bold" text-anchor="end">20</text>
<line x1="719.3" y1="604.0" x2="724.8" y2="604.0" stroke="#000" stroke-width="2"/>
<text x="718.0" y="610.0" font-size="16.5" font-weight="bold" text-anchor="end">15</text>
<line x1="719.3" y1="646.6" x2="724.8" y2="646.6" stroke="#000" stroke-width="2"/>
<text x="718.0" y="652.6" font-size="16.5" font-weight="bold" text-anchor="end">10</text>
<line x1="719.3" y1="689.2" x2="724.8" y2="689.2" stroke="#000" stroke-width="2"/>
<text x="718.0" y="695.2" font-size="16.5" font-weight="bold" text-anchor="end">5</text>
<line x1="719.3" y1="731.8" x2="724.8" y2="731.8" stroke="#000" stroke-width="2"/>
<text x="718.0" y="737.8" font-size="16.5" font-weight="bold" text-anchor="end">0</text>
<rect x="747.5" y="714.5" width="50.3" height="17.3" fill="#a2a1a5" stroke="#98979b" stroke-width="1"/>
<line x1="763.1" y1="714.6" x2="782.1" y2="714.6" stroke="#000" stroke-width="2"/>
<rect x="821.0" y="564.5" width="50.3" height="167.3" fill="#fe8080" stroke="#fb6d6d" stroke-width="1"/>
<line x1="846.1" y1="558.4" x2="846.1" y2="568.0" stroke="#000" stroke-width="2"/>
<line x1="836.6" y1="558.4" x2="855.6" y2="558.4" stroke="#000" stroke-width="2"/>
<text x="846.9" y="557.0" font-size="15" font-weight="bold" text-anchor="middle" letter-spacing="1.8">***</text>
<line x1="724.8" y1="517.8" x2="724.8" y2="732.8" stroke="#000" stroke-width="2"/>
<line x1="723.8" y1="731.8" x2="895.9" y2="731.8" stroke="#000" stroke-width="2"/>
<line x1="772.5" y1="731.8" x2="772.5" y2="737.8" stroke="#000" stroke-width="2"/>
<line x1="846.0" y1="731.8" x2="846.0" y2="737.8" stroke="#000" stroke-width="2"/>
<text x="810.1" y="490.2" font-size="23" font-weight="bold" text-anchor="middle">NK cells</text>
<text transform="translate(658.5,626.4) rotate(-90)" x="0" y="0" font-size="22.6" font-weight="bold" text-anchor="middle">The ratio of</text>
<text transform="translate(687.5,622.2) rotate(-90)" x="0" y="0" font-size="22.6" font-weight="bold" text-anchor="middle">CD107a+ NK cells (%)</text>
<text x="772.2" y="760.9" font-size="23" font-weight="bold" text-anchor="middle">Control</text>
<text x="845.6" y="760.9" font-size="23" font-weight="bold" text-anchor="middle">AZA</text>
<line x1="717.9" y1="909.4" x2="723.4" y2="909.4" stroke="#000" stroke-width="2"/>
<text x="717.0" y="915.4" font-size="16.5" font-weight="bold" text-anchor="end">15</text>
<line x1="717.9" y1="952.1" x2="723.4" y2="952.1" stroke="#000" stroke-width="2"/>
<text x="717.0" y="958.1" font-size="16.5" font-weight="bold" text-anchor="end">12</text>
<line x1="717.9" y1="994.8" x2="723.4" y2="994.8" stroke="#000" stroke-width="2"/>
<text x="717.0" y="1000.8" font-size="16.5" font-weight="bold" text-anchor="end">9</text>
<line x1="717.9" y1="1037.6" x2="723.4" y2="1037.6" stroke="#000" stroke-width="2"/>
<text x="717.0" y="1043.6" font-size="16.5" font-weight="bold" text-anchor="end">6</text>
<line x1="717.9" y1="1080.3" x2="723.4" y2="1080.3" stroke="#000" stroke-width="2"/>
<text x="717.0" y="1086.3" font-size="16.5" font-weight="bold" text-anchor="end">3</text>
<line x1="717.9" y1="1123.0" x2="723.4" y2="1123.0" stroke="#000" stroke-width="2"/>
<text x="717.0" y="1129.0" font-size="16.5" font-weight="bold" text-anchor="end">0</text>
<rect x="747.0" y="1065.3" width="51.5" height="57.7" fill="#a2a1a5" stroke="#98979b" stroke-width="1"/>
<line x1="772.8" y1="1061.8" x2="772.8" y2="1068.8" stroke="#000" stroke-width="2"/>
<line x1="763.2" y1="1061.8" x2="782.2" y2="1061.8" stroke="#000" stroke-width="2"/>
<rect x="821.3" y="992.9" width="51.3" height="130.1" fill="#fe8080" stroke="#fb6d6d" stroke-width="1"/>
<line x1="847.0" y1="986.4" x2="847.0" y2="996.4" stroke="#000" stroke-width="2"/>
<line x1="837.5" y1="986.4" x2="856.5" y2="986.4" stroke="#000" stroke-width="2"/>
<text x="847.7" y="987.1" font-size="15" font-weight="bold" text-anchor="middle" letter-spacing="1.8">***</text>
<line x1="723.4" y1="908.4" x2="723.4" y2="1124.0" stroke="#000" stroke-width="2"/>
<line x1="722.4" y1="1123.0" x2="892.1" y2="1123.0" stroke="#000" stroke-width="2"/>
<line x1="772.9" y1="1123.0" x2="772.9" y2="1129.0" stroke="#000" stroke-width="2"/>
<line x1="846.4" y1="1123.0" x2="846.4" y2="1129.0" stroke="#000" stroke-width="2"/>
<text x="810.0" y="880.8" font-size="23" font-weight="bold" text-anchor="middle">NK cells</text>
<text transform="translate(659.3,1016.9) rotate(-90)" x="0" y="0" font-size="22.6" font-weight="bold" text-anchor="middle">The ratio of</text>
<text transform="translate(688.0,1013.5) rotate(-90)" x="0" y="0" font-size="22.6" font-weight="bold" text-anchor="middle">TRAIL+ NK cells (%)</text>
<text x="772.6" y="1151.6" font-size="23" font-weight="bold" text-anchor="middle">Control</text>
<text x="849.8" y="1151.6" font-size="23" font-weight="bold" text-anchor="middle">AZA</text>
<line x1="1695.2" y1="547.2" x2="1700.7" y2="547.2" stroke="#000" stroke-width="2"/>
<text x="1694.0" y="553.2" font-size="16.5" font-weight="bold" text-anchor="end">15</text>
<line x1="1695.2" y1="589.8" x2="1700.7" y2="589.8" stroke="#000" stroke-width="2"/>
<text x="1694.0" y="595.8" font-size="16.5" font-weight="bold" text-anchor="end">12</text>
<line x1="1695.2" y1="632.3" x2="1700.7" y2="632.3" stroke="#000" stroke-width="2"/>
<text x="1694.0" y="638.3" font-size="16.5" font-weight="bold" text-anchor="end">9</text>
<line x1="1695.2" y1="674.9" x2="1700.7" y2="674.9" stroke="#000" stroke-width="2"/>
<text x="1694.0" y="680.9" font-size="16.5" font-weight="bold" text-anchor="end">6</text>
<line x1="1695.2" y1="717.4" x2="1700.7" y2="717.4" stroke="#000" stroke-width="2"/>
<text x="1694.0" y="723.4" font-size="16.5" font-weight="bold" text-anchor="end">3</text>
<line x1="1695.2" y1="760.0" x2="1700.7" y2="760.0" stroke="#000" stroke-width="2"/>
<text x="1694.0" y="766.0" font-size="16.5" font-weight="bold" text-anchor="end">0</text>
<rect x="1725.4" y="748.9" width="52.2" height="11.1" fill="#a2a1a5" stroke="#98979b" stroke-width="1"/>
<line x1="1751.5" y1="742.5" x2="1751.5" y2="752.4" stroke="#000" stroke-width="2"/>
<line x1="1742.0" y1="742.5" x2="1761.0" y2="742.5" stroke="#000" stroke-width="2"/>
<rect x="1802.0" y="622.9" width="52.2" height="137.1" fill="#fe8080" stroke="#fb6d6d" stroke-width="1"/>
<line x1="1828.1" y1="591.5" x2="1828.1" y2="626.4" stroke="#000" stroke-width="2"/>
<line x1="1818.6" y1="591.5" x2="1837.6" y2="591.5" stroke="#000" stroke-width="2"/>
<text x="1828.8" y="592.3" font-size="15" font-weight="bold" text-anchor="middle" letter-spacing="1.8">***</text>
<line x1="1700.7" y1="546.2" x2="1700.7" y2="761.0" stroke="#000" stroke-width="2"/>
<line x1="1699.7" y1="760.0" x2="1876.7" y2="760.0" stroke="#000" stroke-width="2"/>
<line x1="1751.8" y1="760.0" x2="1751.8" y2="766.0" stroke="#000" stroke-width="2"/>
<line x1="1828.3" y1="760.0" x2="1828.3" y2="766.0" stroke="#000" stroke-width="2"/>
<text x="1790.9" y="518.2" font-size="23" font-weight="bold" text-anchor="middle">T cells</text>
<text transform="translate(1636.2,653.9) rotate(-90)" x="0" y="0" font-size="22.6" font-weight="bold" text-anchor="middle">The ratio of</text>
<text transform="translate(1664.4,650.5) rotate(-90)" x="0" y="0" font-size="22.6" font-weight="bold" text-anchor="middle">CD25+ T cells (%)</text>
<text x="1751.1" y="788.7" font-size="23" font-weight="bold" text-anchor="middle">Control</text>
<text x="1828.0" y="788.7" font-size="23" font-weight="bold" text-anchor="middle">AZA</text>
<line x1="1695.2" y1="894.4" x2="1700.7" y2="894.4" stroke="#000" stroke-width="2"/>
<text x="1694.0" y="900.4" font-size="16.5" font-weight="bold" text-anchor="end">20</text>
<line x1="1695.2" y1="937.1" x2="1700.7" y2="937.1" stroke="#000" stroke-width="2"/>
<text x="1694.0" y="943.1" font-size="16.5" font-weight="bold" text-anchor="end">16</text>
<line x1="1695.2" y1="979.8" x2="1700.7" y2="979.8" stroke="#000" stroke-width="2"/>
<text x="1694.0" y="985.8" font-size="16.5" font-weight="bold" text-anchor="end">12</text>
<line x1="1695.2" y1="1022.6" x2="1700.7" y2="1022.6" stroke="#000" stroke-width="2"/>
<text x="1694.0" y="1028.6" font-size="16.5" font-weight="bold" text-anchor="end">8</text>
<line x1="1695.2" y1="1065.3" x2="1700.7" y2="1065.3" stroke="#000" stroke-width="2"/>
<text x="1694.0" y="1071.3" font-size="16.5" font-weight="bold" text-anchor="end">4</text>
<line x1="1695.2" y1="1108.0" x2="1700.7" y2="1108.0" stroke="#000" stroke-width="2"/>
<text x="1694.0" y="1114.0" font-size="16.5" font-weight="bold" text-anchor="end">0</text>
<rect x="1725.1" y="1097.6" width="51.8" height="10.4" fill="#a2a1a5" stroke="#98979b" stroke-width="1"/>
<line x1="1751.0" y1="1093.6" x2="1751.0" y2="1101.1" stroke="#000" stroke-width="2"/>
<line x1="1741.5" y1="1093.6" x2="1760.5" y2="1093.6" stroke="#000" stroke-width="2"/>
<rect x="1800.5" y="965.1" width="52.1" height="142.9" fill="#fe8080" stroke="#fb6d6d" stroke-width="1"/>
<line x1="1826.5" y1="946.1" x2="1826.5" y2="968.6" stroke="#000" stroke-width="2"/>
<line x1="1817.0" y1="946.1" x2="1836.0" y2="946.1" stroke="#000" stroke-width="2"/>
<text x="1827.2" y="944.9" font-size="15" font-weight="bold" text-anchor="middle" letter-spacing="1.8">***</text>
<line x1="1700.7" y1="893.4" x2="1700.7" y2="1109.0" stroke="#000" stroke-width="2"/>
<line x1="1699.7" y1="1108.0" x2="1878.1" y2="1108.0" stroke="#000" stroke-width="2"/>
<line x1="1751.0" y1="1108.0" x2="1751.0" y2="1114.0" stroke="#000" stroke-width="2"/>
<line x1="1825.9" y1="1108.0" x2="1825.9" y2="1114.0" stroke="#000" stroke-width="2"/>
<text x="1789.8" y="865.9" font-size="23" font-weight="bold" text-anchor="middle">T cells</text>
<text transform="translate(1635.2,1001.9) rotate(-90)" x="0" y="0" font-size="22.6" font-weight="bold" text-anchor="middle">The ratio of</text>
<text transform="translate(1663.8,997.2) rotate(-90)" x="0" y="0" font-size="22.6" font-weight="bold" text-anchor="middle">CD69+ T cells (%)</text>
<text x="1751.0" y="1136.6" font-size="23" font-weight="bold" text-anchor="middle">Control</text>
<text x="1829.5" y="1136.6" font-size="23" font-weight="bold" text-anchor="middle">AZA</text>
</svg></body></html>
